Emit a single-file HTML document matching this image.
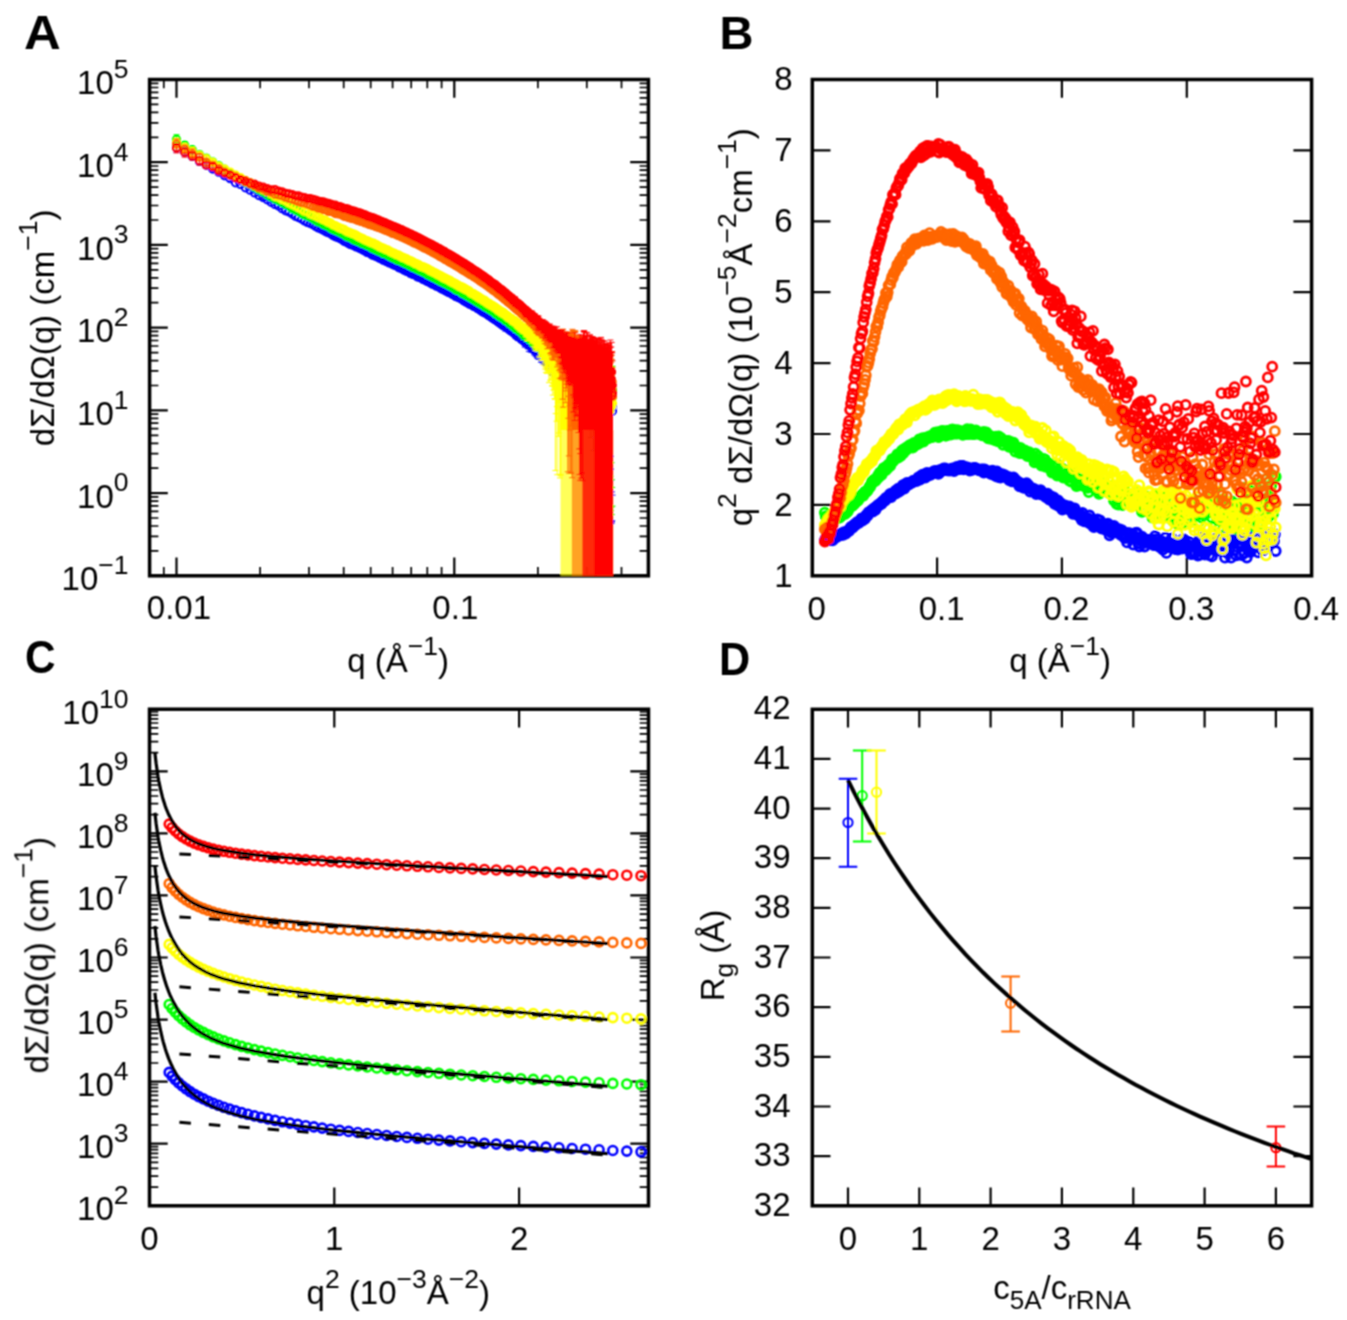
<!DOCTYPE html><html><head><meta charset="utf-8"><style>html,body{margin:0;padding:0;background:#fff;}svg{display:block}</style></head><body><svg width="1347" height="1320" viewBox="0 0 1347 1320"><defs><marker id="bblue" markerUnits="userSpaceOnUse" markerWidth="16.6" markerHeight="16.6" refX="8.3" refY="8.3" overflow="visible"><circle cx="8.3" cy="8.3" r="4.5" fill="none" stroke="#0000ff" stroke-width="2.8"/></marker><marker id="bgreen" markerUnits="userSpaceOnUse" markerWidth="16.6" markerHeight="16.6" refX="8.3" refY="8.3" overflow="visible"><circle cx="8.3" cy="8.3" r="4.5" fill="none" stroke="#00ff00" stroke-width="2.8"/></marker><marker id="byellow" markerUnits="userSpaceOnUse" markerWidth="16.6" markerHeight="16.6" refX="8.3" refY="8.3" overflow="visible"><circle cx="8.3" cy="8.3" r="4.5" fill="none" stroke="#ffff00" stroke-width="2.8"/></marker><marker id="borange" markerUnits="userSpaceOnUse" markerWidth="16.6" markerHeight="16.6" refX="8.3" refY="8.3" overflow="visible"><circle cx="8.3" cy="8.3" r="4.5" fill="none" stroke="#ff6600" stroke-width="2.8"/></marker><marker id="bred" markerUnits="userSpaceOnUse" markerWidth="16.6" markerHeight="16.6" refX="8.3" refY="8.3" overflow="visible"><circle cx="8.3" cy="8.3" r="4.5" fill="none" stroke="#ff0000" stroke-width="2.8"/></marker><marker id="ablue" markerUnits="userSpaceOnUse" markerWidth="13.2" markerHeight="13.2" refX="6.6" refY="6.6" overflow="visible"><circle cx="6.6" cy="6.6" r="3.6" fill="none" stroke="#0000ff" stroke-width="2"/></marker><marker id="agreen" markerUnits="userSpaceOnUse" markerWidth="13.2" markerHeight="13.2" refX="6.6" refY="6.6" overflow="visible"><circle cx="6.6" cy="6.6" r="3.6" fill="none" stroke="#00ff00" stroke-width="2"/></marker><marker id="ayellow" markerUnits="userSpaceOnUse" markerWidth="13.2" markerHeight="13.2" refX="6.6" refY="6.6" overflow="visible"><circle cx="6.6" cy="6.6" r="3.6" fill="none" stroke="#ffff00" stroke-width="2"/></marker><marker id="aorange" markerUnits="userSpaceOnUse" markerWidth="13.2" markerHeight="13.2" refX="6.6" refY="6.6" overflow="visible"><circle cx="6.6" cy="6.6" r="3.6" fill="none" stroke="#ff6600" stroke-width="2"/></marker><marker id="ared" markerUnits="userSpaceOnUse" markerWidth="13.2" markerHeight="13.2" refX="6.6" refY="6.6" overflow="visible"><circle cx="6.6" cy="6.6" r="3.6" fill="none" stroke="#ff0000" stroke-width="2"/></marker><marker id="cblue" markerUnits="userSpaceOnUse" markerWidth="16.2" markerHeight="16.2" refX="8.1" refY="8.1" overflow="visible"><circle cx="8.1" cy="8.1" r="4.5" fill="none" stroke="#0000ff" stroke-width="2.6"/></marker><marker id="cgreen" markerUnits="userSpaceOnUse" markerWidth="16.2" markerHeight="16.2" refX="8.1" refY="8.1" overflow="visible"><circle cx="8.1" cy="8.1" r="4.5" fill="none" stroke="#00ff00" stroke-width="2.6"/></marker><marker id="cyellow" markerUnits="userSpaceOnUse" markerWidth="16.2" markerHeight="16.2" refX="8.1" refY="8.1" overflow="visible"><circle cx="8.1" cy="8.1" r="4.5" fill="none" stroke="#ffff00" stroke-width="2.6"/></marker><marker id="corange" markerUnits="userSpaceOnUse" markerWidth="16.2" markerHeight="16.2" refX="8.1" refY="8.1" overflow="visible"><circle cx="8.1" cy="8.1" r="4.5" fill="none" stroke="#ff6600" stroke-width="2.6"/></marker><marker id="cred" markerUnits="userSpaceOnUse" markerWidth="16.2" markerHeight="16.2" refX="8.1" refY="8.1" overflow="visible"><circle cx="8.1" cy="8.1" r="4.5" fill="none" stroke="#ff0000" stroke-width="2.6"/></marker><filter id="bl" x="0" y="0" width="1347" height="1320" filterUnits="userSpaceOnUse"><feConvolveMatrix order="3" kernelMatrix="1 2 1 2 4 2 1 2 1" divisor="16" edgeMode="none"/></filter></defs><rect width="1347" height="1320" fill="#fff"/><g filter="url(#bl)"><text x="24" y="49.2" font-size="48" font-weight="bold" font-family="Liberation Sans, sans-serif" transform="translate(24 0) scale(1.06 1) translate(-24 0)">A</text><text x="719.5" y="49" font-size="47" font-weight="bold" font-family="Liberation Sans, sans-serif">B</text><text x="25" y="673.5" font-size="47" font-weight="bold" font-family="Liberation Sans, sans-serif" transform="translate(25 0) scale(0.9 1) translate(-25 0)">C</text><text x="719" y="675" font-size="47" font-weight="bold" font-family="Liberation Sans, sans-serif" transform="translate(719 0) scale(0.92 1) translate(-719 0)">D</text><path d="M176.5 575.8v-18.2M176.5 79.5v18.2M454.3 575.8v-18.2M454.3 79.5v18.2M149.6 575.8h18.2M648.4 575.8h-18.2M149.6 493.1h18.2M648.4 493.1h-18.2M149.6 410.4h18.2M648.4 410.4h-18.2M149.6 327.6h18.2M648.4 327.6h-18.2M149.6 244.9h18.2M648.4 244.9h-18.2M149.6 162.2h18.2M648.4 162.2h-18.2M149.6 79.5h18.2M648.4 79.5h-18.2" stroke="#000" stroke-width="2.2" fill="none"/><path d="M163.8 575.8v-8.8M163.8 79.5v8.8M260.1 575.8v-8.8M260.1 79.5v8.8M309 575.8v-8.8M309 79.5v8.8M343.7 575.8v-8.8M343.7 79.5v8.8M370.7 575.8v-8.8M370.7 79.5v8.8M392.6 575.8v-8.8M392.6 79.5v8.8M411.2 575.8v-8.8M411.2 79.5v8.8M427.3 575.8v-8.8M427.3 79.5v8.8M441.6 575.8v-8.8M441.6 79.5v8.8M537.9 575.8v-8.8M537.9 79.5v8.8M586.8 575.8v-8.8M586.8 79.5v8.8M621.5 575.8v-8.8M621.5 79.5v8.8M149.6 550.9h8.8M648.4 550.9h-8.8M149.6 536.3h8.8M648.4 536.3h-8.8M149.6 526h8.8M648.4 526h-8.8M149.6 518h8.8M648.4 518h-8.8M149.6 511.4h8.8M648.4 511.4h-8.8M149.6 505.9h8.8M648.4 505.9h-8.8M149.6 501.1h8.8M648.4 501.1h-8.8M149.6 496.9h8.8M648.4 496.9h-8.8M149.6 468.2h8.8M648.4 468.2h-8.8M149.6 453.6h8.8M648.4 453.6h-8.8M149.6 443.3h8.8M648.4 443.3h-8.8M149.6 435.3h8.8M648.4 435.3h-8.8M149.6 428.7h8.8M648.4 428.7h-8.8M149.6 423.2h8.8M648.4 423.2h-8.8M149.6 418.4h8.8M648.4 418.4h-8.8M149.6 414.2h8.8M648.4 414.2h-8.8M149.6 385.5h8.8M648.4 385.5h-8.8M149.6 370.9h8.8M648.4 370.9h-8.8M149.6 360.6h8.8M648.4 360.6h-8.8M149.6 352.6h8.8M648.4 352.6h-8.8M149.6 346h8.8M648.4 346h-8.8M149.6 340.5h8.8M648.4 340.5h-8.8M149.6 335.7h8.8M648.4 335.7h-8.8M149.6 331.4h8.8M648.4 331.4h-8.8M149.6 302.7h8.8M648.4 302.7h-8.8M149.6 288.2h8.8M648.4 288.2h-8.8M149.6 277.8h8.8M648.4 277.8h-8.8M149.6 269.8h8.8M648.4 269.8h-8.8M149.6 263.3h8.8M648.4 263.3h-8.8M149.6 257.7h8.8M648.4 257.7h-8.8M149.6 252.9h8.8M648.4 252.9h-8.8M149.6 248.7h8.8M648.4 248.7h-8.8M149.6 220h8.8M648.4 220h-8.8M149.6 205.5h8.8M648.4 205.5h-8.8M149.6 195.1h8.8M648.4 195.1h-8.8M149.6 187.1h8.8M648.4 187.1h-8.8M149.6 180.6h8.8M648.4 180.6h-8.8M149.6 175h8.8M648.4 175h-8.8M149.6 170.2h8.8M648.4 170.2h-8.8M149.6 166h8.8M648.4 166h-8.8M149.6 137.3h8.8M648.4 137.3h-8.8M149.6 122.8h8.8M648.4 122.8h-8.8M149.6 112.4h8.8M648.4 112.4h-8.8M149.6 104.4h8.8M648.4 104.4h-8.8M149.6 97.9h8.8M648.4 97.9h-8.8M149.6 92.3h8.8M648.4 92.3h-8.8M149.6 87.5h8.8M648.4 87.5h-8.8M149.6 83.3h8.8M648.4 83.3h-8.8" stroke="#000" stroke-width="1.7" fill="none"/><path d="M937.1 575.8v-18.2M937.1 79.5v18.2M1061.9 575.8v-18.2M1061.9 79.5v18.2M1186.8 575.8v-18.2M1186.8 79.5v18.2M812.3 504.9h18.2M1311.6 504.9h-18.2M812.3 434h18.2M1311.6 434h-18.2M812.3 363.1h18.2M1311.6 363.1h-18.2M812.3 292.2h18.2M1311.6 292.2h-18.2M812.3 221.3h18.2M1311.6 221.3h-18.2M812.3 150.4h18.2M1311.6 150.4h-18.2" stroke="#000" stroke-width="2.2" fill="none"/><path d="M334.3 1205.8v-18.2M334.3 709.2v18.2M519.1 1205.8v-18.2M519.1 709.2v18.2M149.5 1205.8h18.2M648.5 1205.8h-18.2M149.5 1143.7h18.2M648.5 1143.7h-18.2M149.5 1081.7h18.2M648.5 1081.7h-18.2M149.5 1019.6h18.2M648.5 1019.6h-18.2M149.5 957.5h18.2M648.5 957.5h-18.2M149.5 895.4h18.2M648.5 895.4h-18.2M149.5 833.4h18.2M648.5 833.4h-18.2M149.5 771.3h18.2M648.5 771.3h-18.2M149.5 709.2h18.2M648.5 709.2h-18.2" stroke="#000" stroke-width="2.2" fill="none"/><path d="M149.5 1187.1h8.8M648.5 1187.1h-8.8M149.5 1176.2h8.8M648.5 1176.2h-8.8M149.5 1168.4h8.8M648.5 1168.4h-8.8M149.5 1162.4h8.8M648.5 1162.4h-8.8M149.5 1157.5h8.8M648.5 1157.5h-8.8M149.5 1153.3h8.8M648.5 1153.3h-8.8M149.5 1149.7h8.8M648.5 1149.7h-8.8M149.5 1146.6h8.8M648.5 1146.6h-8.8M149.5 1125h8.8M648.5 1125h-8.8M149.5 1114.1h8.8M648.5 1114.1h-8.8M149.5 1106.4h8.8M648.5 1106.4h-8.8M149.5 1100.3h8.8M648.5 1100.3h-8.8M149.5 1095.4h8.8M648.5 1095.4h-8.8M149.5 1091.3h8.8M648.5 1091.3h-8.8M149.5 1087.7h8.8M648.5 1087.7h-8.8M149.5 1084.5h8.8M648.5 1084.5h-8.8M149.5 1063h8.8M648.5 1063h-8.8M149.5 1052h8.8M648.5 1052h-8.8M149.5 1044.3h8.8M648.5 1044.3h-8.8M149.5 1038.3h8.8M648.5 1038.3h-8.8M149.5 1033.3h8.8M648.5 1033.3h-8.8M149.5 1029.2h8.8M648.5 1029.2h-8.8M149.5 1025.6h8.8M648.5 1025.6h-8.8M149.5 1022.4h8.8M648.5 1022.4h-8.8M149.5 1000.9h8.8M648.5 1000.9h-8.8M149.5 990h8.8M648.5 990h-8.8M149.5 982.2h8.8M648.5 982.2h-8.8M149.5 976.2h8.8M648.5 976.2h-8.8M149.5 971.3h8.8M648.5 971.3h-8.8M149.5 967.1h8.8M648.5 967.1h-8.8M149.5 963.5h8.8M648.5 963.5h-8.8M149.5 960.3h8.8M648.5 960.3h-8.8M149.5 938.8h8.8M648.5 938.8h-8.8M149.5 927.9h8.8M648.5 927.9h-8.8M149.5 920.1h8.8M648.5 920.1h-8.8M149.5 914.1h8.8M648.5 914.1h-8.8M149.5 909.2h8.8M648.5 909.2h-8.8M149.5 905h8.8M648.5 905h-8.8M149.5 901.4h8.8M648.5 901.4h-8.8M149.5 898.3h8.8M648.5 898.3h-8.8M149.5 876.7h8.8M648.5 876.7h-8.8M149.5 865.8h8.8M648.5 865.8h-8.8M149.5 858.1h8.8M648.5 858.1h-8.8M149.5 852h8.8M648.5 852h-8.8M149.5 847.1h8.8M648.5 847.1h-8.8M149.5 843h8.8M648.5 843h-8.8M149.5 839.4h8.8M648.5 839.4h-8.8M149.5 836.2h8.8M648.5 836.2h-8.8M149.5 814.7h8.8M648.5 814.7h-8.8M149.5 803.7h8.8M648.5 803.7h-8.8M149.5 796h8.8M648.5 796h-8.8M149.5 790h8.8M648.5 790h-8.8M149.5 785h8.8M648.5 785h-8.8M149.5 780.9h8.8M648.5 780.9h-8.8M149.5 777.3h8.8M648.5 777.3h-8.8M149.5 774.1h8.8M648.5 774.1h-8.8M149.5 752.6h8.8M648.5 752.6h-8.8M149.5 741.7h8.8M648.5 741.7h-8.8M149.5 733.9h8.8M648.5 733.9h-8.8M149.5 727.9h8.8M648.5 727.9h-8.8M149.5 723h8.8M648.5 723h-8.8M149.5 718.8h8.8M648.5 718.8h-8.8M149.5 715.2h8.8M648.5 715.2h-8.8M149.5 712h8.8M648.5 712h-8.8" stroke="#000" stroke-width="1.7" fill="none"/><path d="M848 1205.8v-18.2M848 709.3v18.2M919.3 1205.8v-18.2M919.3 709.3v18.2M990.6 1205.8v-18.2M990.6 709.3v18.2M1061.9 1205.8v-18.2M1061.9 709.3v18.2M1133.3 1205.8v-18.2M1133.3 709.3v18.2M1204.6 1205.8v-18.2M1204.6 709.3v18.2M1275.9 1205.8v-18.2M1275.9 709.3v18.2M812.3 1156.1h18.2M1311.6 1156.1h-18.2M812.3 1106.5h18.2M1311.6 1106.5h-18.2M812.3 1056.8h18.2M1311.6 1056.8h-18.2M812.3 1007.2h18.2M1311.6 1007.2h-18.2M812.3 957.5h18.2M1311.6 957.5h-18.2M812.3 907.9h18.2M1311.6 907.9h-18.2M812.3 858.2h18.2M1311.6 858.2h-18.2M812.3 808.6h18.2M1311.6 808.6h-18.2M812.3 758.9h18.2M1311.6 758.9h-18.2" stroke="#000" stroke-width="2.2" fill="none"/><rect x="149.6" y="79.5" width="498.8" height="496.3" fill="none" stroke="#000" stroke-width="3.5"/><rect x="812.3" y="79.5" width="499.3" height="496.3" fill="none" stroke="#000" stroke-width="3.5"/><rect x="149.5" y="709.2" width="499" height="496.6" fill="none" stroke="#000" stroke-width="3.5"/><rect x="812.3" y="709.3" width="499.3" height="496.5" fill="none" stroke="#000" stroke-width="3.5"/><text x="128.5" y="590.4" font-size="33" text-anchor="end" font-family="Liberation Sans, sans-serif">10<tspan dy="-16.3" font-size="26.5">−1</tspan></text><text x="128.5" y="507.7" font-size="33" text-anchor="end" font-family="Liberation Sans, sans-serif">10<tspan dy="-16.3" font-size="26.5">0</tspan></text><text x="128.5" y="425" font-size="33" text-anchor="end" font-family="Liberation Sans, sans-serif">10<tspan dy="-16.3" font-size="26.5">1</tspan></text><text x="128.5" y="342.2" font-size="33" text-anchor="end" font-family="Liberation Sans, sans-serif">10<tspan dy="-16.3" font-size="26.5">2</tspan></text><text x="128.5" y="259.5" font-size="33" text-anchor="end" font-family="Liberation Sans, sans-serif">10<tspan dy="-16.3" font-size="26.5">3</tspan></text><text x="128.5" y="176.8" font-size="33" text-anchor="end" font-family="Liberation Sans, sans-serif">10<tspan dy="-16.3" font-size="26.5">4</tspan></text><text x="128.5" y="94.1" font-size="33" text-anchor="end" font-family="Liberation Sans, sans-serif">10<tspan dy="-16.3" font-size="26.5">5</tspan></text><text x="178.9" y="619.4" font-size="33" text-anchor="middle" font-family="Liberation Sans, sans-serif" >0.01</text><text x="455.3" y="619.4" font-size="33" text-anchor="middle" font-family="Liberation Sans, sans-serif" >0.1</text><text x="792.5" y="586.6" font-size="33" text-anchor="end" font-family="Liberation Sans, sans-serif" >1</text><text x="792.5" y="515.7" font-size="33" text-anchor="end" font-family="Liberation Sans, sans-serif" >2</text><text x="792.5" y="444.8" font-size="33" text-anchor="end" font-family="Liberation Sans, sans-serif" >3</text><text x="792.5" y="373.9" font-size="33" text-anchor="end" font-family="Liberation Sans, sans-serif" >4</text><text x="792.5" y="303" font-size="33" text-anchor="end" font-family="Liberation Sans, sans-serif" >5</text><text x="792.5" y="232.1" font-size="33" text-anchor="end" font-family="Liberation Sans, sans-serif" >6</text><text x="792.5" y="161.2" font-size="33" text-anchor="end" font-family="Liberation Sans, sans-serif" >7</text><text x="792.5" y="90.3" font-size="33" text-anchor="end" font-family="Liberation Sans, sans-serif" >8</text><text x="816.8" y="620.3" font-size="33" text-anchor="middle" font-family="Liberation Sans, sans-serif" >0</text><text x="941.6" y="620.3" font-size="33" text-anchor="middle" font-family="Liberation Sans, sans-serif" >0.1</text><text x="1066.4" y="620.3" font-size="33" text-anchor="middle" font-family="Liberation Sans, sans-serif" >0.2</text><text x="1191.3" y="620.3" font-size="33" text-anchor="middle" font-family="Liberation Sans, sans-serif" >0.3</text><text x="1316.1" y="620.3" font-size="33" text-anchor="middle" font-family="Liberation Sans, sans-serif" >0.4</text><text x="128.5" y="1220.4" font-size="33" text-anchor="end" font-family="Liberation Sans, sans-serif">10<tspan dy="-16.3" font-size="26.5">2</tspan></text><text x="128.5" y="1158.3" font-size="33" text-anchor="end" font-family="Liberation Sans, sans-serif">10<tspan dy="-16.3" font-size="26.5">3</tspan></text><text x="128.5" y="1096.2" font-size="33" text-anchor="end" font-family="Liberation Sans, sans-serif">10<tspan dy="-16.3" font-size="26.5">4</tspan></text><text x="128.5" y="1034.2" font-size="33" text-anchor="end" font-family="Liberation Sans, sans-serif">10<tspan dy="-16.3" font-size="26.5">5</tspan></text><text x="128.5" y="972.1" font-size="33" text-anchor="end" font-family="Liberation Sans, sans-serif">10<tspan dy="-16.3" font-size="26.5">6</tspan></text><text x="128.5" y="910" font-size="33" text-anchor="end" font-family="Liberation Sans, sans-serif">10<tspan dy="-16.3" font-size="26.5">7</tspan></text><text x="128.5" y="848" font-size="33" text-anchor="end" font-family="Liberation Sans, sans-serif">10<tspan dy="-16.3" font-size="26.5">8</tspan></text><text x="128.5" y="785.9" font-size="33" text-anchor="end" font-family="Liberation Sans, sans-serif">10<tspan dy="-16.3" font-size="26.5">9</tspan></text><text x="128.5" y="723.8" font-size="33" text-anchor="end" font-family="Liberation Sans, sans-serif">10<tspan dy="-16.3" font-size="26.5">10</tspan></text><text x="149.5" y="1250" font-size="33" text-anchor="middle" font-family="Liberation Sans, sans-serif" >0</text><text x="334.3" y="1250" font-size="33" text-anchor="middle" font-family="Liberation Sans, sans-serif" >1</text><text x="519.1" y="1250" font-size="33" text-anchor="middle" font-family="Liberation Sans, sans-serif" >2</text><text x="790.5" y="1215.8" font-size="33" text-anchor="end" font-family="Liberation Sans, sans-serif" >32</text><text x="790.5" y="1166.1" font-size="33" text-anchor="end" font-family="Liberation Sans, sans-serif" >33</text><text x="790.5" y="1116.5" font-size="33" text-anchor="end" font-family="Liberation Sans, sans-serif" >34</text><text x="790.5" y="1066.8" font-size="33" text-anchor="end" font-family="Liberation Sans, sans-serif" >35</text><text x="790.5" y="1017.2" font-size="33" text-anchor="end" font-family="Liberation Sans, sans-serif" >36</text><text x="790.5" y="967.5" font-size="33" text-anchor="end" font-family="Liberation Sans, sans-serif" >37</text><text x="790.5" y="917.9" font-size="33" text-anchor="end" font-family="Liberation Sans, sans-serif" >38</text><text x="790.5" y="868.2" font-size="33" text-anchor="end" font-family="Liberation Sans, sans-serif" >39</text><text x="790.5" y="818.6" font-size="33" text-anchor="end" font-family="Liberation Sans, sans-serif" >40</text><text x="790.5" y="768.9" font-size="33" text-anchor="end" font-family="Liberation Sans, sans-serif" >41</text><text x="790.5" y="719.3" font-size="33" text-anchor="end" font-family="Liberation Sans, sans-serif" >42</text><text x="848" y="1250" font-size="33" text-anchor="middle" font-family="Liberation Sans, sans-serif" >0</text><text x="919.3" y="1250" font-size="33" text-anchor="middle" font-family="Liberation Sans, sans-serif" >1</text><text x="990.6" y="1250" font-size="33" text-anchor="middle" font-family="Liberation Sans, sans-serif" >2</text><text x="1061.9" y="1250" font-size="33" text-anchor="middle" font-family="Liberation Sans, sans-serif" >3</text><text x="1133.3" y="1250" font-size="33" text-anchor="middle" font-family="Liberation Sans, sans-serif" >4</text><text x="1204.6" y="1250" font-size="33" text-anchor="middle" font-family="Liberation Sans, sans-serif" >5</text><text x="1275.9" y="1250" font-size="33" text-anchor="middle" font-family="Liberation Sans, sans-serif" >6</text><text x="398" y="671.7" font-size="33" text-anchor="middle" font-family="Liberation Sans, sans-serif" >q (Å<tspan dy="-16.3" font-size="26.5">−1</tspan><tspan dy="16.3">)</tspan></text><text x="1060" y="671.7" font-size="33" text-anchor="middle" font-family="Liberation Sans, sans-serif" >q (Å<tspan dy="-16.3" font-size="26.5">−1</tspan><tspan dy="16.3">)</tspan></text><text x="398.3" y="1304" font-size="33" text-anchor="middle" font-family="Liberation Sans, sans-serif" >q<tspan dy="-16.3" font-size="26.5">2</tspan><tspan dy="16.3"> (10</tspan><tspan dy="-16.3" font-size="26.5">−3</tspan><tspan dy="16.3">Å</tspan><tspan dy="-16.3" font-size="26.5">−2</tspan><tspan dy="16.3">)</tspan></text><text x="1062" y="1299.3" font-size="33" text-anchor="middle" font-family="Liberation Sans, sans-serif" >c<tspan dy="9.5" font-size="26">5A</tspan><tspan dy="-9.5">/c</tspan><tspan dy="9.5" font-size="26">rRNA</tspan></text><text x="0" y="0" font-size="33" text-anchor="middle" font-family="Liberation Sans, sans-serif" transform="translate(53.5 327.9) rotate(-90)">dΣ/dΩ(q) (cm<tspan dy="-16.3" font-size="26.5">−1</tspan><tspan dy="16.3">)</tspan></text><text x="0" y="0" font-size="33" text-anchor="middle" font-family="Liberation Sans, sans-serif" transform="translate(48.3 955.2) rotate(-90)">dΣ/dΩ(q) (cm<tspan dy="-16.3" font-size="26.5">−1</tspan><tspan dy="16.3">)</tspan></text><text x="0" y="0" font-size="33" text-anchor="middle" font-family="Liberation Sans, sans-serif" transform="translate(752.3 327.2) rotate(-90)">q<tspan dy="-16.3" font-size="26.5">2</tspan><tspan dy="16.3"> dΣ/dΩ(q) (10</tspan><tspan dy="-16.3" font-size="26.5">−5</tspan><tspan dy="16.3">Å</tspan><tspan dy="-16.3" font-size="26.5">−2</tspan><tspan dy="16.3">cm</tspan><tspan dy="-16.3" font-size="26.5">−1</tspan><tspan dy="16.3">)</tspan></text><text x="0" y="0" font-size="33" text-anchor="middle" font-family="Liberation Sans, sans-serif" transform="translate(724 955.5) rotate(-90)">R<tspan dy="9" font-size="26">g</tspan><tspan dy="-9"> (Å)</tspan></text><polyline fill="none" stroke="none" points="824.8,540.3 825.7,538.7 826.5,538.7 827.4,540.4 828.3,540.0 829.2,540.0 830.0,538.5 830.9,538.9 831.8,537.7 832.6,540.4 833.5,536.2 834.4,537.7 835.3,536.4 836.1,537.0 837.0,536.9 837.9,535.5 838.8,534.6 839.6,535.3 840.5,534.8 841.4,533.4 842.3,534.6 843.1,534.9 844.0,532.2 844.9,532.8 845.8,533.7 846.6,531.9 847.5,530.9 848.4,531.1 849.2,530.9 850.1,528.5 851.0,526.9 851.9,527.5 852.7,527.5 853.6,525.5 854.5,524.5 855.4,525.0 856.2,523.3 857.1,522.1 858.0,522.8 858.9,522.8 859.7,520.8 860.6,520.2 861.5,518.5 862.4,520.5 863.2,519.1 864.1,518.5 865.0,518.8 865.8,515.9 866.7,514.7 867.6,515.5 868.5,512.3 869.3,512.2 870.2,511.6 871.1,511.2 872.0,509.8 872.8,511.7 873.7,508.7 874.6,507.9 875.5,509.9 876.3,506.7 877.2,506.7 878.1,504.8 879.0,505.4 879.8,504.2 880.7,503.1 881.6,503.8 882.5,501.3 883.3,501.4 884.2,500.0 885.1,500.5 885.9,498.0 886.8,497.8 887.7,498.1 888.6,496.4 889.4,495.0 890.3,493.9 891.2,497.1 892.1,493.5 892.9,493.4 893.8,493.4 894.7,493.9 895.6,490.6 896.4,493.0 897.3,490.2 898.2,488.7 899.1,491.6 899.9,489.5 900.8,490.1 901.7,487.7 902.5,485.6 903.4,484.9 904.3,488.5 905.2,486.5 906.0,484.5 906.9,482.9 907.8,483.8 908.7,484.7 909.5,482.9 910.4,482.8 911.3,482.6 912.2,482.7 913.0,480.9 913.9,480.6 914.8,480.6 915.7,480.3 916.5,481.2 917.4,479.8 918.3,477.3 919.2,478.6 920.0,479.7 920.9,475.9 921.8,476.5 922.6,474.7 923.5,476.4 924.4,476.7 925.3,477.5 926.1,473.7 927.0,472.9 927.9,475.7 928.8,475.2 929.6,473.3 930.5,474.8 931.4,473.8 932.3,473.6 933.1,472.7 934.0,471.2 934.9,472.3 935.8,470.9 936.6,472.4 937.5,471.2 938.4,473.8 939.2,473.0 940.1,469.9 941.0,471.5 941.9,469.8 942.7,469.6 943.6,468.4 944.5,468.9 945.4,468.5 946.2,469.8 947.1,470.4 948.0,470.3 948.9,469.9 949.7,470.6 950.6,469.7 951.5,469.0 952.4,468.4 953.2,469.1 954.1,471.1 955.0,468.6 955.8,468.1 956.7,466.9 957.6,467.5 958.5,469.1 959.3,469.2 960.2,465.9 961.1,467.2 962.0,465.8 962.8,465.8 963.7,469.3 964.6,467.7 965.5,467.6 966.3,467.5 967.2,467.5 968.1,468.1 969.0,468.2 969.8,470.6 970.7,468.8 971.6,469.7 972.5,468.5 973.3,469.5 974.2,468.0 975.1,467.8 975.9,468.7 976.8,468.8 977.7,469.3 978.6,470.2 979.4,469.9 980.3,470.6 981.2,469.4 982.1,470.2 982.9,469.5 983.8,472.5 984.7,469.4 985.6,472.1 986.4,472.2 987.3,471.6 988.2,472.4 989.1,471.3 989.9,472.9 990.8,473.9 991.7,473.8 992.5,470.7 993.4,472.9 994.3,475.1 995.2,473.5 996.0,476.2 996.9,471.4 997.8,476.8 998.7,473.9 999.5,474.0 1000.4,477.6 1001.3,475.0 1002.2,474.2 1003.0,475.4 1003.9,476.0 1004.8,475.2 1005.7,476.9 1006.5,476.9 1007.4,478.0 1008.3,477.1 1009.1,480.1 1010.0,477.5 1010.9,480.1 1011.8,481.4 1012.6,479.3 1013.5,477.4 1014.4,479.0 1015.3,481.9 1016.1,480.2 1017.0,482.6 1017.9,482.4 1018.8,482.4 1019.6,486.4 1020.5,483.1 1021.4,485.6 1022.3,485.5 1023.1,487.3 1024.0,487.8 1024.9,487.2 1025.8,484.4 1026.6,483.2 1027.5,486.8 1028.4,485.1 1029.2,488.1 1030.1,491.6 1031.0,488.2 1031.9,488.1 1032.7,490.2 1033.6,489.2 1034.5,489.1 1035.4,492.4 1036.2,494.0 1037.1,492.0 1038.0,492.5 1038.9,493.2 1039.7,491.0 1040.6,490.1 1041.5,494.7 1042.4,493.0 1043.2,492.9 1044.1,493.9 1045.0,493.7 1045.8,497.1 1046.7,495.2 1047.6,493.7 1048.5,496.0 1049.3,499.5 1050.2,497.4 1051.1,496.5 1052.0,498.8 1052.8,501.3 1053.7,497.3 1054.6,503.8 1055.5,500.5 1056.3,502.1 1057.2,505.1 1058.1,500.3 1059.0,502.7 1059.8,506.6 1060.7,503.1 1061.6,505.9 1062.4,509.7 1063.3,507.5 1064.2,505.8 1065.1,505.4 1065.9,507.0 1066.8,507.8 1067.7,507.2 1068.6,509.3 1069.4,506.5 1070.3,509.4 1071.2,509.6 1072.1,509.5 1072.9,513.8 1073.8,513.4 1074.7,508.5 1075.6,511.8 1076.4,513.8 1077.3,512.8 1078.2,515.3 1079.1,513.9 1079.9,516.7 1080.8,514.8 1081.7,520.0 1082.5,513.0 1083.4,518.2 1084.3,521.4 1085.2,518.4 1086.0,519.2 1086.9,518.3 1087.8,522.2 1088.7,518.6 1089.5,515.5 1090.4,523.9 1091.3,520.0 1092.2,522.2 1093.0,521.3 1093.9,527.2 1094.8,525.9 1095.7,521.8 1096.5,523.7 1097.4,519.4 1098.3,526.4 1099.1,524.3 1100.0,520.4 1100.9,527.8 1101.8,528.6 1102.6,526.5 1103.5,527.0 1104.4,524.8 1105.3,527.2 1106.1,530.2 1107.0,527.8 1107.9,523.7 1108.8,525.3 1109.6,535.3 1110.5,530.3 1111.4,532.9 1112.3,528.7 1113.1,531.5 1114.0,526.0 1114.9,528.7 1115.7,529.2 1116.6,531.7 1117.5,532.8 1118.4,531.9 1119.2,529.1 1120.1,531.9 1121.0,535.1 1121.9,530.1 1122.7,533.9 1123.6,535.1 1124.5,537.8 1125.4,537.3 1126.2,537.9 1127.1,542.4 1128.0,532.8 1128.9,534.6 1129.7,537.6 1130.6,533.5 1131.5,535.8 1132.4,536.3 1133.2,544.6 1134.1,538.9 1135.0,536.5 1135.8,532.9 1136.7,532.7 1137.6,533.9 1138.5,543.5 1139.3,546.5 1140.2,537.7 1141.1,539.9 1142.0,536.6 1142.8,540.9 1143.7,539.8 1144.6,546.5 1145.5,539.3 1146.3,542.9 1147.2,540.0 1148.1,539.8 1149.0,542.2 1149.8,540.7 1150.7,542.2 1151.6,539.3 1152.4,540.5 1153.3,544.8 1154.2,545.1 1155.1,536.1 1155.9,543.5 1156.8,539.2 1157.7,541.8 1158.6,545.9 1159.4,546.8 1160.3,543.3 1161.2,542.9 1162.1,541.5 1162.9,549.6 1163.8,546.8 1164.7,544.8 1165.6,537.7 1166.4,552.9 1167.3,542.9 1168.2,547.2 1169.0,543.1 1169.9,547.3 1170.8,543.6 1171.7,538.3 1172.5,543.8 1173.4,543.5 1174.3,543.8 1175.2,549.0 1176.0,543.2 1176.9,546.7 1177.8,549.6 1178.7,546.1 1179.5,547.0 1180.4,542.5 1181.3,546.3 1182.2,548.7 1183.0,539.2 1183.9,541.5 1184.8,540.2 1185.7,543.4 1186.5,546.9 1187.4,548.5 1188.3,547.9 1189.1,541.8 1190.0,546.0 1190.9,554.1 1191.8,546.8 1192.6,553.9 1193.5,545.8 1194.4,552.9 1195.3,553.2 1196.1,546.1 1197.0,547.1 1197.9,555.5 1198.8,542.8 1199.6,537.7 1200.5,554.7 1201.4,537.6 1202.3,550.5 1203.1,549.4 1204.0,547.7 1204.9,554.7 1205.7,539.6 1206.6,544.0 1207.5,550.9 1208.4,548.2 1209.2,555.2 1210.1,548.6 1211.0,541.3 1211.9,556.4 1212.7,549.1 1213.6,545.7 1214.5,540.4 1215.4,538.6 1216.2,549.1 1217.1,550.8 1218.0,543.7 1218.9,548.5 1219.7,548.1 1220.6,539.7 1221.5,535.9 1222.4,544.5 1223.2,547.3 1224.1,542.5 1225.0,557.7 1225.8,546.0 1226.7,552.5 1227.6,535.1 1228.5,541.2 1229.3,544.8 1230.2,546.9 1231.1,557.7 1232.0,540.9 1232.8,534.8 1233.7,550.1 1234.6,540.8 1235.5,540.4 1236.3,555.4 1237.2,538.8 1238.1,535.9 1239.0,543.4 1239.8,545.2 1240.7,539.4 1241.6,555.2 1242.4,543.9 1243.3,537.2 1244.2,553.0 1245.1,537.4 1245.9,547.1 1246.8,557.5 1247.7,544.8 1248.6,550.9 1249.4,541.6 1250.3,552.2 1251.2,536.1 1252.1,548.9 1252.9,540.9 1253.8,547.7 1254.7,545.6 1255.6,534.3 1256.4,541.5 1257.3,545.9 1258.2,552.3 1259.0,534.0 1259.9,537.1 1260.8,545.0 1261.7,540.6 1262.5,550.3 1263.4,550.1 1264.3,548.5 1265.2,539.2 1266.0,539.6 1266.9,547.7 1267.8,535.8 1268.7,535.3 1269.5,540.1 1270.4,533.0 1271.3,543.6 1272.2,542.0 1273.0,537.1 1273.9,541.2 1274.8,534.2 1275.7,551.0" marker-start="url(#bblue)" marker-mid="url(#bblue)" marker-end="url(#bblue)"/><polyline fill="none" stroke="none" points="824.8,512.6 825.7,516.3 826.5,516.3 827.4,518.5 828.3,516.5 829.2,516.1 830.0,516.7 830.9,517.2 831.8,520.4 832.6,519.5 833.5,519.0 834.4,519.5 835.3,516.7 836.1,517.6 837.0,517.6 837.9,516.5 838.8,517.9 839.6,517.4 840.5,516.8 841.4,514.4 842.3,514.0 843.1,513.1 844.0,511.7 844.9,514.2 845.8,512.4 846.6,510.8 847.5,511.9 848.4,510.1 849.2,507.3 850.1,506.4 851.0,505.6 851.9,506.0 852.7,505.5 853.6,502.9 854.5,503.9 855.4,502.1 856.2,499.9 857.1,501.1 858.0,500.5 858.9,498.8 859.7,497.0 860.6,496.2 861.5,495.6 862.4,494.1 863.2,495.9 864.1,493.9 865.0,491.6 865.8,492.0 866.7,491.5 867.6,490.3 868.5,488.9 869.3,486.9 870.2,486.9 871.1,484.3 872.0,481.3 872.8,482.7 873.7,479.8 874.6,480.1 875.5,480.9 876.3,478.7 877.2,478.7 878.1,475.4 879.0,476.9 879.8,472.6 880.7,472.6 881.6,474.9 882.5,470.4 883.3,468.4 884.2,470.6 885.1,467.3 885.9,470.0 886.8,466.4 887.7,468.0 888.6,464.3 889.4,466.4 890.3,465.7 891.2,461.8 892.1,459.2 892.9,461.5 893.8,458.8 894.7,458.9 895.6,458.7 896.4,456.7 897.3,454.5 898.2,457.7 899.1,454.5 899.9,454.1 900.8,455.8 901.7,450.9 902.5,450.1 903.4,453.1 904.3,448.8 905.2,450.4 906.0,450.1 906.9,447.1 907.8,448.3 908.7,447.5 909.5,445.3 910.4,445.0 911.3,445.0 912.2,447.6 913.0,447.4 913.9,443.0 914.8,445.4 915.7,443.4 916.5,444.6 917.4,442.9 918.3,443.9 919.2,439.3 920.0,442.7 920.9,440.9 921.8,440.6 922.6,438.2 923.5,441.6 924.4,439.2 925.3,439.0 926.1,437.6 927.0,437.3 927.9,438.3 928.8,436.9 929.6,437.5 930.5,435.9 931.4,436.5 932.3,437.0 933.1,435.8 934.0,434.9 934.9,432.6 935.8,435.7 936.6,434.2 937.5,432.2 938.4,437.1 939.2,436.6 940.1,435.6 941.0,433.7 941.9,430.8 942.7,432.6 943.6,431.2 944.5,433.2 945.4,435.7 946.2,435.6 947.1,430.8 948.0,432.0 948.9,434.3 949.7,430.3 950.6,434.5 951.5,430.1 952.4,429.5 953.2,433.0 954.1,433.5 955.0,430.3 955.8,433.5 956.7,430.2 957.6,433.6 958.5,430.3 959.3,431.5 960.2,432.3 961.1,433.1 962.0,431.3 962.8,434.9 963.7,432.2 964.6,432.5 965.5,430.7 966.3,434.1 967.2,429.1 968.1,432.6 969.0,434.2 969.8,429.9 970.7,429.5 971.6,432.8 972.5,434.2 973.3,432.8 974.2,434.2 975.1,433.6 975.9,430.4 976.8,432.7 977.7,433.3 978.6,433.1 979.4,434.1 980.3,432.6 981.2,432.7 982.1,435.3 982.9,434.6 983.8,431.8 984.7,434.5 985.6,435.9 986.4,432.5 987.3,436.0 988.2,438.4 989.1,435.2 989.9,438.6 990.8,438.1 991.7,436.8 992.5,438.0 993.4,439.6 994.3,439.5 995.2,439.9 996.0,436.6 996.9,440.8 997.8,440.8 998.7,436.5 999.5,441.5 1000.4,437.6 1001.3,438.3 1002.2,441.7 1003.0,444.8 1003.9,441.2 1004.8,441.1 1005.7,440.8 1006.5,443.2 1007.4,441.1 1008.3,441.0 1009.1,446.8 1010.0,441.7 1010.9,444.9 1011.8,447.0 1012.6,446.9 1013.5,442.7 1014.4,444.7 1015.3,451.5 1016.1,447.7 1017.0,448.6 1017.9,449.1 1018.8,450.4 1019.6,453.1 1020.5,448.0 1021.4,452.8 1022.3,451.8 1023.1,452.9 1024.0,453.6 1024.9,450.5 1025.8,451.8 1026.6,454.9 1027.5,456.1 1028.4,455.4 1029.2,452.2 1030.1,454.8 1031.0,455.0 1031.9,456.9 1032.7,457.2 1033.6,456.4 1034.5,462.3 1035.4,453.7 1036.2,460.5 1037.1,460.4 1038.0,455.8 1038.9,459.3 1039.7,460.2 1040.6,462.4 1041.5,465.6 1042.4,461.3 1043.2,458.9 1044.1,465.2 1045.0,459.4 1045.8,466.9 1046.7,466.2 1047.6,463.2 1048.5,465.1 1049.3,463.5 1050.2,468.2 1051.1,469.5 1052.0,472.5 1052.8,471.0 1053.7,471.1 1054.6,472.7 1055.5,467.9 1056.3,471.3 1057.2,475.6 1058.1,464.9 1059.0,473.2 1059.8,475.0 1060.7,467.6 1061.6,468.3 1062.4,476.1 1063.3,477.6 1064.2,476.5 1065.1,470.1 1065.9,475.2 1066.8,477.3 1067.7,475.1 1068.6,471.5 1069.4,480.6 1070.3,477.6 1071.2,481.5 1072.1,471.4 1072.9,471.8 1073.8,474.7 1074.7,478.9 1075.6,476.5 1076.4,486.0 1077.3,478.7 1078.2,484.9 1079.1,485.3 1079.9,483.4 1080.8,482.6 1081.7,479.6 1082.5,479.5 1083.4,481.5 1084.3,486.4 1085.2,480.7 1086.0,484.1 1086.9,479.6 1087.8,487.9 1088.7,492.1 1089.5,487.0 1090.4,478.9 1091.3,484.1 1092.2,487.1 1093.0,483.2 1093.9,485.0 1094.8,485.6 1095.7,489.9 1096.5,487.8 1097.4,487.7 1098.3,491.5 1099.1,493.9 1100.0,489.0 1100.9,485.8 1101.8,487.5 1102.6,488.5 1103.5,488.8 1104.4,483.9 1105.3,490.5 1106.1,487.4 1107.0,484.8 1107.9,492.4 1108.8,491.8 1109.6,488.6 1110.5,486.0 1111.4,492.5 1112.3,492.6 1113.1,494.1 1114.0,500.5 1114.9,490.0 1115.7,496.7 1116.6,503.9 1117.5,496.8 1118.4,504.6 1119.2,501.5 1120.1,496.9 1121.0,501.7 1121.9,492.3 1122.7,505.1 1123.6,496.8 1124.5,495.6 1125.4,491.3 1126.2,494.2 1127.1,498.0 1128.0,499.0 1128.9,500.0 1129.7,494.1 1130.6,503.7 1131.5,497.8 1132.4,501.2 1133.2,499.7 1134.1,502.7 1135.0,492.4 1135.8,505.3 1136.7,500.6 1137.6,500.7 1138.5,499.1 1139.3,500.2 1140.2,500.5 1141.1,497.6 1142.0,511.9 1142.8,503.5 1143.7,510.9 1144.6,502.7 1145.5,511.1 1146.3,510.0 1147.2,505.0 1148.1,496.6 1149.0,501.6 1149.8,503.5 1150.7,497.0 1151.6,511.4 1152.4,517.5 1153.3,508.6 1154.2,507.9 1155.1,498.7 1155.9,496.0 1156.8,515.1 1157.7,496.2 1158.6,497.1 1159.4,501.9 1160.3,505.0 1161.2,496.6 1162.1,507.2 1162.9,510.9 1163.8,507.1 1164.7,517.2 1165.6,505.1 1166.4,509.1 1167.3,506.3 1168.2,506.2 1169.0,516.0 1169.9,499.9 1170.8,516.1 1171.7,503.0 1172.5,520.4 1173.4,506.8 1174.3,515.3 1175.2,509.3 1176.0,514.4 1176.9,523.6 1177.8,518.0 1178.7,509.5 1179.5,505.5 1180.4,521.0 1181.3,524.5 1182.2,516.9 1183.0,512.0 1183.9,515.3 1184.8,516.7 1185.7,504.1 1186.5,503.3 1187.4,505.0 1188.3,518.1 1189.1,510.3 1190.0,512.4 1190.9,522.2 1191.8,504.0 1192.6,510.3 1193.5,515.0 1194.4,499.6 1195.3,504.9 1196.1,504.1 1197.0,501.3 1197.9,505.2 1198.8,521.7 1199.6,514.5 1200.5,502.8 1201.4,517.7 1202.3,510.9 1203.1,507.8 1204.0,498.8 1204.9,499.9 1205.7,503.3 1206.6,512.8 1207.5,503.1 1208.4,506.4 1209.2,512.5 1210.1,498.9 1211.0,506.6 1211.9,517.8 1212.7,499.4 1213.6,513.2 1214.5,505.4 1215.4,524.9 1216.2,510.9 1217.1,519.5 1218.0,519.8 1218.9,528.7 1219.7,494.3 1220.6,511.8 1221.5,508.0 1222.4,499.4 1223.2,511.3 1224.1,505.0 1225.0,523.3 1225.8,507.9 1226.7,513.9 1227.6,504.6 1228.5,507.7 1229.3,523.4 1230.2,528.2 1231.1,519.6 1232.0,501.4 1232.8,504.5 1233.7,504.5 1234.6,528.6 1235.5,528.6 1236.3,514.9 1237.2,511.7 1238.1,514.5 1239.0,504.0 1239.8,509.5 1240.7,520.4 1241.6,517.0 1242.4,505.6 1243.3,506.2 1244.2,507.6 1245.1,487.6 1245.9,509.4 1246.8,504.9 1247.7,517.4 1248.6,509.9 1249.4,499.6 1250.3,498.9 1251.2,507.0 1252.1,500.4 1252.9,504.1 1253.8,526.7 1254.7,526.8 1255.6,483.8 1256.4,493.8 1257.3,504.2 1258.2,524.4 1259.0,518.6 1259.9,486.2 1260.8,525.9 1261.7,506.3 1262.5,491.2 1263.4,499.9 1264.3,491.9 1265.2,502.8 1266.0,479.2 1266.9,513.6 1267.8,517.7 1268.7,496.4 1269.5,481.1 1270.4,500.0 1271.3,485.2 1272.2,505.6 1273.0,514.0 1273.9,479.3 1274.8,476.6 1275.7,476.7" marker-start="url(#bgreen)" marker-mid="url(#bgreen)" marker-end="url(#bgreen)"/><polyline fill="none" stroke="none" points="824.8,525.0 825.7,525.0 826.5,523.9 827.4,521.5 828.3,519.2 829.2,518.2 830.0,519.9 830.9,516.4 831.8,515.6 832.6,514.3 833.5,513.3 834.4,512.4 835.3,510.1 836.1,509.6 837.0,508.3 837.9,508.4 838.8,505.7 839.6,505.2 840.5,506.5 841.4,501.9 842.3,501.8 843.1,498.9 844.0,499.2 844.9,497.9 845.8,496.2 846.6,495.3 847.5,494.7 848.4,495.4 849.2,489.1 850.1,492.6 851.0,489.6 851.9,486.9 852.7,486.0 853.6,484.5 854.5,483.0 855.4,481.0 856.2,481.1 857.1,477.9 858.0,480.5 858.9,477.5 859.7,477.1 860.6,476.1 861.5,473.7 862.4,470.7 863.2,472.6 864.1,471.4 865.0,468.1 865.8,467.1 866.7,464.2 867.6,464.0 868.5,463.9 869.3,463.5 870.2,461.5 871.1,460.9 872.0,461.4 872.8,458.2 873.7,457.3 874.6,456.2 875.5,455.3 876.3,451.0 877.2,451.3 878.1,449.8 879.0,450.9 879.8,450.4 880.7,448.2 881.6,446.3 882.5,446.1 883.3,444.7 884.2,441.9 885.1,441.8 885.9,442.7 886.8,440.8 887.7,440.1 888.6,437.8 889.4,438.8 890.3,436.3 891.2,434.0 892.1,434.0 892.9,434.4 893.8,433.0 894.7,430.9 895.6,429.4 896.4,428.0 897.3,428.6 898.2,429.5 899.1,424.4 899.9,425.2 900.8,424.2 901.7,423.5 902.5,424.8 903.4,422.9 904.3,421.2 905.2,419.2 906.0,419.9 906.9,422.3 907.8,418.9 908.7,417.3 909.5,415.0 910.4,415.3 911.3,413.0 912.2,412.7 913.0,412.2 913.9,412.2 914.8,415.4 915.7,411.1 916.5,410.9 917.4,412.2 918.3,409.7 919.2,409.4 920.0,410.4 920.9,409.3 921.8,409.0 922.6,407.6 923.5,408.2 924.4,406.1 925.3,409.8 926.1,406.6 927.0,408.6 927.9,406.0 928.8,403.9 929.6,404.3 930.5,404.2 931.4,403.4 932.3,400.4 933.1,404.8 934.0,400.9 934.9,404.9 935.8,402.7 936.6,401.2 937.5,402.8 938.4,400.5 939.2,399.3 940.1,402.6 941.0,400.3 941.9,400.6 942.7,403.2 943.6,399.8 944.5,400.7 945.4,396.4 946.2,400.5 947.1,395.3 948.0,399.5 948.9,395.0 949.7,397.1 950.6,397.2 951.5,396.3 952.4,396.0 953.2,394.9 954.1,394.2 955.0,398.3 955.8,400.1 956.7,401.4 957.6,398.3 958.5,395.8 959.3,396.6 960.2,397.2 961.1,398.1 962.0,398.8 962.8,398.1 963.7,396.6 964.6,401.4 965.5,396.0 966.3,400.9 967.2,398.1 968.1,399.2 969.0,398.7 969.8,400.4 970.7,400.8 971.6,398.8 972.5,400.9 973.3,394.6 974.2,399.7 975.1,400.4 975.9,400.4 976.8,401.8 977.7,404.0 978.6,400.3 979.4,399.1 980.3,403.8 981.2,400.3 982.1,403.6 982.9,400.9 983.8,400.2 984.7,400.2 985.6,400.6 986.4,403.8 987.3,400.0 988.2,403.7 989.1,402.0 989.9,401.4 990.8,404.4 991.7,407.3 992.5,402.6 993.4,407.6 994.3,407.4 995.2,408.4 996.0,403.4 996.9,406.6 997.8,411.8 998.7,404.9 999.5,402.5 1000.4,402.9 1001.3,409.9 1002.2,408.5 1003.0,407.7 1003.9,407.0 1004.8,410.0 1005.7,413.8 1006.5,408.7 1007.4,409.6 1008.3,416.0 1009.1,413.6 1010.0,412.2 1010.9,413.5 1011.8,412.4 1012.6,412.0 1013.5,413.3 1014.4,416.0 1015.3,420.5 1016.1,414.7 1017.0,412.6 1017.9,412.1 1018.8,418.5 1019.6,419.0 1020.5,414.6 1021.4,415.2 1022.3,419.5 1023.1,418.8 1024.0,424.4 1024.9,420.4 1025.8,425.9 1026.6,424.1 1027.5,424.6 1028.4,426.5 1029.2,432.3 1030.1,429.1 1031.0,425.4 1031.9,427.5 1032.7,429.4 1033.6,426.9 1034.5,426.6 1035.4,426.6 1036.2,433.5 1037.1,431.0 1038.0,433.0 1038.9,435.8 1039.7,438.9 1040.6,434.0 1041.5,437.8 1042.4,428.0 1043.2,436.0 1044.1,437.2 1045.0,438.6 1045.8,430.4 1046.7,442.2 1047.6,439.6 1048.5,442.8 1049.3,440.7 1050.2,441.0 1051.1,436.8 1052.0,448.4 1052.8,443.0 1053.7,436.3 1054.6,446.5 1055.5,445.7 1056.3,449.6 1057.2,454.8 1058.1,447.3 1059.0,442.0 1059.8,450.4 1060.7,457.6 1061.6,448.2 1062.4,449.8 1063.3,446.0 1064.2,447.0 1065.1,453.4 1065.9,450.8 1066.8,462.4 1067.7,448.5 1068.6,453.8 1069.4,449.9 1070.3,450.6 1071.2,458.1 1072.1,458.1 1072.9,462.5 1073.8,468.5 1074.7,459.9 1075.6,459.0 1076.4,466.3 1077.3,457.2 1078.2,461.2 1079.1,459.8 1079.9,467.2 1080.8,473.4 1081.7,459.8 1082.5,461.3 1083.4,466.0 1084.3,468.4 1085.2,468.2 1086.0,468.0 1086.9,470.7 1087.8,479.5 1088.7,464.2 1089.5,478.5 1090.4,472.1 1091.3,472.5 1092.2,469.6 1093.0,481.8 1093.9,464.8 1094.8,468.8 1095.7,468.6 1096.5,465.9 1097.4,479.7 1098.3,487.3 1099.1,473.5 1100.0,467.6 1100.9,469.0 1101.8,480.8 1102.6,478.4 1103.5,476.4 1104.4,491.1 1105.3,483.9 1106.1,484.2 1107.0,469.4 1107.9,485.4 1108.8,470.3 1109.6,481.8 1110.5,494.3 1111.4,470.6 1112.3,490.4 1113.1,479.3 1114.0,471.8 1114.9,488.8 1115.7,494.5 1116.6,478.0 1117.5,485.7 1118.4,496.1 1119.2,495.5 1120.1,490.7 1121.0,480.6 1121.9,490.8 1122.7,483.9 1123.6,476.4 1124.5,479.8 1125.4,478.8 1126.2,480.8 1127.1,504.4 1128.0,481.7 1128.9,489.4 1129.7,493.6 1130.6,502.1 1131.5,506.8 1132.4,503.3 1133.2,494.4 1134.1,504.8 1135.0,502.2 1135.8,500.9 1136.7,490.0 1137.6,498.9 1138.5,498.0 1139.3,485.2 1140.2,500.4 1141.1,492.4 1142.0,507.9 1142.8,495.6 1143.7,497.9 1144.6,497.7 1145.5,504.1 1146.3,509.9 1147.2,503.3 1148.1,505.3 1149.0,491.2 1149.8,492.7 1150.7,513.7 1151.6,496.1 1152.4,507.4 1153.3,498.4 1154.2,508.1 1155.1,518.5 1155.9,493.6 1156.8,499.6 1157.7,517.2 1158.6,524.5 1159.4,510.8 1160.3,518.0 1161.2,509.7 1162.1,499.5 1162.9,490.7 1163.8,510.6 1164.7,492.1 1165.6,494.6 1166.4,512.4 1167.3,526.4 1168.2,498.7 1169.0,501.6 1169.9,489.6 1170.8,492.8 1171.7,500.3 1172.5,490.1 1173.4,521.9 1174.3,507.8 1175.2,513.5 1176.0,490.5 1176.9,504.1 1177.8,533.8 1178.7,494.8 1179.5,522.5 1180.4,502.2 1181.3,517.8 1182.2,509.1 1183.0,504.5 1183.9,510.1 1184.8,524.8 1185.7,495.3 1186.5,508.1 1187.4,513.6 1188.3,504.5 1189.1,520.7 1190.0,492.0 1190.9,511.2 1191.8,509.5 1192.6,509.9 1193.5,526.9 1194.4,530.7 1195.3,512.1 1196.1,510.4 1197.0,496.9 1197.9,509.3 1198.8,530.8 1199.6,508.5 1200.5,504.4 1201.4,502.0 1202.3,511.5 1203.1,533.9 1204.0,499.9 1204.9,527.3 1205.7,508.5 1206.6,540.0 1207.5,505.8 1208.4,528.9 1209.2,501.2 1210.1,492.2 1211.0,499.9 1211.9,535.4 1212.7,532.2 1213.6,531.3 1214.5,507.7 1215.4,512.7 1216.2,515.7 1217.1,513.4 1218.0,509.2 1218.9,508.1 1219.7,491.5 1220.6,519.5 1221.5,515.4 1222.4,549.0 1223.2,540.5 1224.1,530.3 1225.0,538.6 1225.8,515.3 1226.7,501.6 1227.6,526.5 1228.5,527.4 1229.3,528.0 1230.2,517.0 1231.1,528.7 1232.0,511.9 1232.8,514.1 1233.7,513.4 1234.6,505.9 1235.5,518.9 1236.3,516.9 1237.2,489.0 1238.1,520.4 1239.0,505.0 1239.8,518.6 1240.7,528.0 1241.6,528.0 1242.4,534.8 1243.3,519.3 1244.2,530.9 1245.1,527.5 1245.9,496.3 1246.8,522.0 1247.7,497.4 1248.6,514.2 1249.4,502.5 1250.3,531.2 1251.2,516.3 1252.1,485.5 1252.9,502.6 1253.8,499.0 1254.7,514.3 1255.6,501.6 1256.4,542.5 1257.3,536.2 1258.2,509.9 1259.0,501.7 1259.9,527.1 1260.8,522.4 1261.7,526.0 1262.5,522.3 1263.4,543.7 1264.3,548.7 1265.2,519.8 1266.0,555.4 1266.9,539.1 1267.8,532.1 1268.7,540.7 1269.5,512.3 1270.4,527.3 1271.3,519.1 1272.2,539.8 1273.0,533.8 1273.9,505.3 1274.8,508.6 1275.7,527.3" marker-start="url(#byellow)" marker-mid="url(#byellow)" marker-end="url(#byellow)"/><polyline fill="none" stroke="none" points="824.8,529.2 825.7,530.0 826.5,530.2 827.4,527.5 828.3,530.5 829.2,528.2 830.0,527.0 830.9,526.7 831.8,526.6 832.6,521.3 833.5,519.8 834.4,517.7 835.3,515.0 836.1,512.2 837.0,510.7 837.9,505.4 838.8,505.8 839.6,499.1 840.5,498.0 841.4,492.2 842.3,486.5 843.1,484.2 844.0,480.6 844.9,474.7 845.8,472.0 846.6,468.0 847.5,463.8 848.4,456.1 849.2,453.4 850.1,449.4 851.0,448.1 851.9,440.6 852.7,439.7 853.6,432.2 854.5,430.8 855.4,421.3 856.2,423.2 857.1,413.7 858.0,410.1 858.9,410.5 859.7,403.5 860.6,396.2 861.5,392.5 862.4,393.4 863.2,387.2 864.1,384.2 865.0,379.9 865.8,375.2 866.7,366.8 867.6,365.8 868.5,362.6 869.3,358.9 870.2,353.3 871.1,349.5 872.0,348.8 872.8,340.8 873.7,341.8 874.6,336.8 875.5,332.0 876.3,326.3 877.2,326.7 878.1,322.2 879.0,317.1 879.8,315.2 880.7,311.1 881.6,308.2 882.5,306.7 883.3,303.0 884.2,299.6 885.1,298.6 885.9,292.8 886.8,296.6 887.7,292.3 888.6,285.3 889.4,284.8 890.3,284.4 891.2,280.2 892.1,276.6 892.9,277.6 893.8,273.0 894.7,272.6 895.6,270.7 896.4,268.7 897.3,264.7 898.2,267.2 899.1,264.0 899.9,260.5 900.8,262.5 901.7,261.7 902.5,256.1 903.4,255.9 904.3,254.8 905.2,253.0 906.0,254.0 906.9,247.5 907.8,251.7 908.7,249.6 909.5,250.6 910.4,247.6 911.3,242.9 912.2,245.0 913.0,243.0 913.9,244.4 914.8,239.2 915.7,241.7 916.5,243.9 917.4,239.3 918.3,241.0 919.2,238.5 920.0,239.0 920.9,238.3 921.8,238.1 922.6,239.9 923.5,240.8 924.4,235.3 925.3,237.4 926.1,236.2 927.0,237.6 927.9,240.2 928.8,238.9 929.6,233.1 930.5,237.6 931.4,236.6 932.3,238.9 933.1,236.8 934.0,236.4 934.9,236.0 935.8,235.7 936.6,236.9 937.5,236.8 938.4,235.6 939.2,234.9 940.1,236.0 941.0,231.8 941.9,235.3 942.7,235.5 943.6,237.5 944.5,233.8 945.4,238.6 946.2,240.1 947.1,238.8 948.0,235.3 948.9,239.6 949.7,234.1 950.6,237.4 951.5,241.2 952.4,238.4 953.2,233.9 954.1,240.5 955.0,241.8 955.8,237.8 956.7,236.2 957.6,237.2 958.5,240.9 959.3,240.0 960.2,240.0 961.1,238.3 962.0,237.3 962.8,242.4 963.7,239.3 964.6,244.0 965.5,242.1 966.3,246.5 967.2,246.6 968.1,244.1 969.0,248.1 969.8,244.0 970.7,248.4 971.6,247.4 972.5,248.5 973.3,249.8 974.2,249.3 975.1,247.4 975.9,246.2 976.8,255.0 977.7,251.7 978.6,253.8 979.4,256.6 980.3,254.1 981.2,258.2 982.1,256.8 982.9,254.0 983.8,263.6 984.7,258.6 985.6,259.0 986.4,264.0 987.3,260.7 988.2,262.2 989.1,265.3 989.9,261.7 990.8,270.2 991.7,265.5 992.5,269.2 993.4,272.8 994.3,271.3 995.2,272.9 996.0,270.4 996.9,278.8 997.8,275.9 998.7,277.9 999.5,272.7 1000.4,282.5 1001.3,276.7 1002.2,287.0 1003.0,281.4 1003.9,284.2 1004.8,283.8 1005.7,288.6 1006.5,293.6 1007.4,294.0 1008.3,285.6 1009.1,290.5 1010.0,295.5 1010.9,290.7 1011.8,297.7 1012.6,298.9 1013.5,301.9 1014.4,294.7 1015.3,293.7 1016.1,304.9 1017.0,301.6 1017.9,300.3 1018.8,298.6 1019.6,313.1 1020.5,307.1 1021.4,306.4 1022.3,315.6 1023.1,309.7 1024.0,311.7 1024.9,310.9 1025.8,317.1 1026.6,314.4 1027.5,319.6 1028.4,316.0 1029.2,318.9 1030.1,322.2 1031.0,327.5 1031.9,316.3 1032.7,319.6 1033.6,321.6 1034.5,329.1 1035.4,328.9 1036.2,321.5 1037.1,326.5 1038.0,334.4 1038.9,331.6 1039.7,332.3 1040.6,334.9 1041.5,339.2 1042.4,330.6 1043.2,334.6 1044.1,339.1 1045.0,346.3 1045.8,343.0 1046.7,341.4 1047.6,338.4 1048.5,345.1 1049.3,339.3 1050.2,344.8 1051.1,350.0 1052.0,356.1 1052.8,354.1 1053.7,356.6 1054.6,351.2 1055.5,349.8 1056.3,345.6 1057.2,353.5 1058.1,360.2 1059.0,346.5 1059.8,354.8 1060.7,358.7 1061.6,359.7 1062.4,366.2 1063.3,356.9 1064.2,359.3 1065.1,353.8 1065.9,357.3 1066.8,359.4 1067.7,358.3 1068.6,367.5 1069.4,369.3 1070.3,368.1 1071.2,375.7 1072.1,370.6 1072.9,372.5 1073.8,367.9 1074.7,372.7 1075.6,384.0 1076.4,374.3 1077.3,367.2 1078.2,387.0 1079.1,381.7 1079.9,378.1 1080.8,387.0 1081.7,383.3 1082.5,380.6 1083.4,389.9 1084.3,381.0 1085.2,381.2 1086.0,392.6 1086.9,385.5 1087.8,379.8 1088.7,388.6 1089.5,385.6 1090.4,385.2 1091.3,391.8 1092.2,384.8 1093.0,389.6 1093.9,399.6 1094.8,390.5 1095.7,389.2 1096.5,390.5 1097.4,401.2 1098.3,394.6 1099.1,389.2 1100.0,398.0 1100.9,392.3 1101.8,392.4 1102.6,402.7 1103.5,398.7 1104.4,406.4 1105.3,397.5 1106.1,406.8 1107.0,411.1 1107.9,408.3 1108.8,409.5 1109.6,407.1 1110.5,407.4 1111.4,420.6 1112.3,417.8 1113.1,411.0 1114.0,411.0 1114.9,415.0 1115.7,403.2 1116.6,408.8 1117.5,419.1 1118.4,413.6 1119.2,409.7 1120.1,418.4 1121.0,436.5 1121.9,422.5 1122.7,423.8 1123.6,411.0 1124.5,441.5 1125.4,414.1 1126.2,429.4 1127.1,421.1 1128.0,432.5 1128.9,429.4 1129.7,422.1 1130.6,432.2 1131.5,424.6 1132.4,435.6 1133.2,439.5 1134.1,438.8 1135.0,442.3 1135.8,439.9 1136.7,427.3 1137.6,451.5 1138.5,457.1 1139.3,442.9 1140.2,427.9 1141.1,434.8 1142.0,433.1 1142.8,434.7 1143.7,454.7 1144.6,447.5 1145.5,468.4 1146.3,456.6 1147.2,445.6 1148.1,468.0 1149.0,472.7 1149.8,467.6 1150.7,453.2 1151.6,444.4 1152.4,440.0 1153.3,443.3 1154.2,474.8 1155.1,480.1 1155.9,459.2 1156.8,450.4 1157.7,479.7 1158.6,468.8 1159.4,468.9 1160.3,464.4 1161.2,467.5 1162.1,460.6 1162.9,455.3 1163.8,466.9 1164.7,459.9 1165.6,450.4 1166.4,481.2 1167.3,482.2 1168.2,465.0 1169.0,452.4 1169.9,470.0 1170.8,459.6 1171.7,476.6 1172.5,462.5 1173.4,481.3 1174.3,466.2 1175.2,469.9 1176.0,470.3 1176.9,458.6 1177.8,462.7 1178.7,483.6 1179.5,465.4 1180.4,498.1 1181.3,464.5 1182.2,456.9 1183.0,470.7 1183.9,471.2 1184.8,477.1 1185.7,467.3 1186.5,484.2 1187.4,469.6 1188.3,482.1 1189.1,484.3 1190.0,477.1 1190.9,479.7 1191.8,502.5 1192.6,457.5 1193.5,477.2 1194.4,502.6 1195.3,464.2 1196.1,479.6 1197.0,476.4 1197.9,469.3 1198.8,492.0 1199.6,508.2 1200.5,480.7 1201.4,475.7 1202.3,464.5 1203.1,490.2 1204.0,483.0 1204.9,473.0 1205.7,483.6 1206.6,482.5 1207.5,474.9 1208.4,493.7 1209.2,454.4 1210.1,492.5 1211.0,477.7 1211.9,483.2 1212.7,489.0 1213.6,469.4 1214.5,461.7 1215.4,454.3 1216.2,468.0 1217.1,484.4 1218.0,463.0 1218.9,500.3 1219.7,475.8 1220.6,467.8 1221.5,466.9 1222.4,495.2 1223.2,501.0 1224.1,449.0 1225.0,484.2 1225.8,503.4 1226.7,496.4 1227.6,474.7 1228.5,454.3 1229.3,474.6 1230.2,453.3 1231.1,470.2 1232.0,465.6 1232.8,456.2 1233.7,480.3 1234.6,468.0 1235.5,480.2 1236.3,484.6 1237.2,460.7 1238.1,487.7 1239.0,470.9 1239.8,486.9 1240.7,473.7 1241.6,481.8 1242.4,450.9 1243.3,469.9 1244.2,469.8 1245.1,439.8 1245.9,509.2 1246.8,492.6 1247.7,509.3 1248.6,470.8 1249.4,461.9 1250.3,457.6 1251.2,464.9 1252.1,487.8 1252.9,436.7 1253.8,463.8 1254.7,475.2 1255.6,492.9 1256.4,461.0 1257.3,479.9 1258.2,479.0 1259.0,465.2 1259.9,464.9 1260.8,486.9 1261.7,442.6 1262.5,490.9 1263.4,493.5 1264.3,462.7 1265.2,466.6 1266.0,467.8 1266.9,478.5 1267.8,468.5 1268.7,482.0 1269.5,506.5 1270.4,453.0 1271.3,492.6 1272.2,474.9 1273.0,453.1 1273.9,469.4 1274.8,431.2 1275.7,502.7" marker-start="url(#borange)" marker-mid="url(#borange)" marker-end="url(#borange)"/><polyline fill="none" stroke="none" points="824.8,541.5 825.7,539.8 826.5,536.9 827.4,538.6 828.3,539.2 829.2,532.7 830.0,534.1 830.9,530.1 831.8,525.1 832.6,524.5 833.5,520.4 834.4,514.8 835.3,511.7 836.1,506.3 837.0,503.7 837.9,497.2 838.8,493.7 839.6,489.1 840.5,477.6 841.4,474.0 842.3,467.3 843.1,464.6 844.0,456.7 844.9,450.7 845.8,446.5 846.6,436.6 847.5,432.4 848.4,425.0 849.2,420.8 850.1,409.8 851.0,403.7 851.9,397.9 852.7,393.9 853.6,386.9 854.5,377.5 855.4,374.1 856.2,367.1 857.1,361.4 858.0,357.9 858.9,347.4 859.7,348.0 860.6,338.6 861.5,333.7 862.4,331.2 863.2,322.4 864.1,316.9 865.0,312.8 865.8,309.4 866.7,302.2 867.6,296.3 868.5,293.2 869.3,286.0 870.2,283.0 871.1,278.8 872.0,273.4 872.8,273.0 873.7,268.6 874.6,262.6 875.5,258.7 876.3,253.0 877.2,249.9 878.1,248.0 879.0,244.3 879.8,241.8 880.7,238.5 881.6,235.3 882.5,229.5 883.3,228.9 884.2,225.6 885.1,221.6 885.9,219.9 886.8,216.5 887.7,216.9 888.6,209.8 889.4,208.4 890.3,204.9 891.2,202.0 892.1,203.9 892.9,194.7 893.8,195.3 894.7,193.0 895.6,194.7 896.4,187.8 897.3,186.2 898.2,185.7 899.1,182.6 899.9,178.6 900.8,180.1 901.7,179.5 902.5,173.3 903.4,173.8 904.3,173.2 905.2,168.1 906.0,169.5 906.9,168.8 907.8,166.6 908.7,166.7 909.5,164.2 910.4,163.2 911.3,163.7 912.2,161.8 913.0,159.6 913.9,158.4 914.8,157.1 915.7,155.7 916.5,156.1 917.4,154.7 918.3,155.9 919.2,154.9 920.0,151.3 920.9,157.4 921.8,151.6 922.6,148.3 923.5,155.5 924.4,147.4 925.3,154.4 926.1,149.1 927.0,145.9 927.9,145.8 928.8,151.1 929.6,151.7 930.5,151.8 931.4,146.5 932.3,149.0 933.1,147.8 934.0,147.1 934.9,146.6 935.8,146.3 936.6,147.3 937.5,151.5 938.4,144.0 939.2,152.5 940.1,144.6 941.0,149.4 941.9,148.5 942.7,149.5 943.6,149.3 944.5,148.7 945.4,149.6 946.2,152.1 947.1,147.2 948.0,151.4 948.9,146.6 949.7,151.0 950.6,153.0 951.5,150.3 952.4,149.5 953.2,155.1 954.1,153.8 955.0,149.6 955.8,157.0 956.7,157.2 957.6,154.9 958.5,159.6 959.3,162.4 960.2,162.4 961.1,157.1 962.0,157.0 962.8,157.9 963.7,159.3 964.6,165.1 965.5,160.1 966.3,159.5 967.2,166.1 968.1,161.9 969.0,167.0 969.8,166.2 970.7,166.6 971.6,173.5 972.5,165.0 973.3,173.6 974.2,172.2 975.1,174.6 975.9,172.5 976.8,173.7 977.7,176.2 978.6,172.6 979.4,177.7 980.3,181.2 981.2,187.9 982.1,183.3 982.9,184.6 983.8,187.9 984.7,189.2 985.6,185.2 986.4,184.9 987.3,183.9 988.2,187.1 989.1,195.4 989.9,193.2 990.8,200.7 991.7,194.1 992.5,197.0 993.4,202.2 994.3,201.7 995.2,203.7 996.0,206.7 996.9,200.3 997.8,200.4 998.7,205.3 999.5,205.8 1000.4,211.0 1001.3,214.7 1002.2,207.7 1003.0,217.8 1003.9,216.1 1004.8,219.9 1005.7,218.3 1006.5,222.7 1007.4,221.4 1008.3,231.3 1009.1,227.6 1010.0,222.5 1010.9,235.0 1011.8,235.0 1012.6,227.1 1013.5,233.1 1014.4,231.5 1015.3,247.5 1016.1,239.1 1017.0,247.5 1017.9,249.7 1018.8,242.5 1019.6,240.2 1020.5,255.1 1021.4,254.8 1022.3,253.7 1023.1,252.9 1024.0,260.7 1024.9,246.7 1025.8,253.8 1026.6,260.3 1027.5,262.7 1028.4,252.5 1029.2,253.9 1030.1,267.1 1031.0,264.0 1031.9,260.3 1032.7,275.5 1033.6,273.6 1034.5,264.0 1035.4,277.2 1036.2,277.1 1037.1,283.9 1038.0,281.9 1038.9,274.6 1039.7,285.0 1040.6,289.3 1041.5,286.6 1042.4,273.7 1043.2,284.2 1044.1,290.1 1045.0,286.9 1045.8,286.3 1046.7,289.5 1047.6,303.2 1048.5,290.7 1049.3,295.3 1050.2,289.4 1051.1,305.3 1052.0,290.2 1052.8,301.8 1053.7,311.3 1054.6,291.5 1055.5,305.4 1056.3,300.2 1057.2,305.1 1058.1,297.2 1059.0,298.1 1059.8,299.0 1060.7,302.9 1061.6,321.1 1062.4,322.7 1063.3,309.7 1064.2,319.5 1065.1,309.7 1065.9,313.0 1066.8,326.2 1067.7,324.4 1068.6,326.2 1069.4,325.3 1070.3,320.9 1071.2,314.7 1072.1,310.3 1072.9,330.2 1073.8,327.9 1074.7,311.3 1075.6,317.7 1076.4,324.2 1077.3,343.3 1078.2,336.9 1079.1,327.9 1079.9,335.4 1080.8,316.4 1081.7,331.5 1082.5,330.8 1083.4,344.3 1084.3,344.9 1085.2,342.6 1086.0,343.4 1086.9,340.8 1087.8,336.2 1088.7,338.6 1089.5,332.4 1090.4,356.0 1091.3,342.1 1092.2,343.0 1093.0,330.9 1093.9,349.8 1094.8,345.6 1095.7,358.2 1096.5,347.0 1097.4,348.4 1098.3,360.2 1099.1,359.5 1100.0,356.6 1100.9,351.4 1101.8,371.0 1102.6,350.7 1103.5,365.0 1104.4,344.5 1105.3,348.1 1106.1,369.9 1107.0,373.7 1107.9,349.3 1108.8,362.4 1109.6,364.4 1110.5,377.1 1111.4,375.1 1112.3,365.6 1113.1,369.1 1114.0,387.5 1114.9,364.3 1115.7,376.8 1116.6,393.3 1117.5,371.2 1118.4,386.7 1119.2,376.3 1120.1,394.2 1121.0,384.2 1121.9,410.5 1122.7,386.7 1123.6,412.1 1124.5,392.0 1125.4,419.7 1126.2,397.6 1127.1,388.5 1128.0,392.9 1128.9,384.7 1129.7,416.3 1130.6,382.0 1131.5,382.6 1132.4,422.1 1133.2,417.8 1134.1,416.0 1135.0,409.6 1135.8,407.8 1136.7,438.3 1137.6,404.2 1138.5,417.5 1139.3,429.7 1140.2,402.1 1141.1,422.1 1142.0,401.3 1142.8,411.2 1143.7,424.9 1144.6,403.3 1145.5,409.7 1146.3,430.6 1147.2,448.6 1148.1,433.1 1149.0,415.8 1149.8,430.0 1150.7,400.2 1151.6,423.6 1152.4,425.3 1153.3,422.6 1154.2,444.2 1155.1,432.4 1155.9,441.9 1156.8,462.8 1157.7,461.9 1158.6,420.2 1159.4,440.7 1160.3,435.7 1161.2,459.5 1162.1,444.7 1162.9,421.3 1163.8,433.6 1164.7,444.9 1165.6,408.8 1166.4,437.4 1167.3,443.0 1168.2,416.2 1169.0,468.9 1169.9,427.4 1170.8,458.3 1171.7,452.6 1172.5,451.0 1173.4,435.9 1174.3,436.5 1175.2,432.9 1176.0,434.8 1176.9,411.8 1177.8,406.1 1178.7,425.3 1179.5,424.3 1180.4,446.8 1181.3,461.5 1182.2,427.6 1183.0,438.9 1183.9,422.2 1184.8,477.1 1185.7,404.8 1186.5,466.2 1187.4,439.0 1188.3,418.9 1189.1,469.1 1190.0,451.6 1190.9,480.2 1191.8,470.7 1192.6,480.7 1193.5,437.6 1194.4,433.3 1195.3,446.8 1196.1,411.6 1197.0,408.6 1197.9,439.9 1198.8,444.7 1199.6,446.0 1200.5,450.1 1201.4,409.4 1202.3,434.1 1203.1,447.3 1204.0,444.9 1204.9,426.5 1205.7,448.9 1206.6,431.8 1207.5,440.2 1208.4,406.3 1209.2,410.8 1210.1,474.0 1211.0,443.0 1211.9,421.2 1212.7,450.1 1213.6,418.4 1214.5,430.2 1215.4,423.5 1216.2,440.1 1217.1,430.6 1218.0,424.7 1218.9,476.7 1219.7,462.2 1220.6,465.0 1221.5,393.2 1222.4,429.8 1223.2,427.7 1224.1,433.0 1225.0,451.7 1225.8,457.8 1226.7,413.9 1227.6,447.5 1228.5,393.0 1229.3,431.4 1230.2,434.2 1231.1,442.9 1232.0,438.7 1232.8,435.4 1233.7,392.3 1234.6,387.2 1235.5,469.7 1236.3,428.4 1237.2,414.8 1238.1,462.4 1239.0,454.3 1239.8,449.0 1240.7,492.4 1241.6,415.2 1242.4,436.2 1243.3,437.5 1244.2,432.0 1245.1,426.6 1245.9,381.5 1246.8,428.3 1247.7,407.5 1248.6,450.2 1249.4,422.2 1250.3,443.4 1251.2,438.0 1252.1,462.3 1252.9,459.5 1253.8,417.6 1254.7,407.8 1255.6,416.9 1256.4,454.5 1257.3,421.2 1258.2,496.1 1259.0,399.4 1259.9,432.6 1260.8,421.8 1261.7,390.7 1262.5,445.4 1263.4,397.0 1264.3,445.7 1265.2,410.9 1266.0,444.3 1266.9,418.8 1267.8,377.4 1268.7,452.7 1269.5,451.2 1270.4,440.7 1271.3,417.6 1272.2,366.7 1273.0,449.6 1273.9,499.5 1274.8,452.2 1275.7,487.2" marker-start="url(#bred)" marker-mid="url(#bred)" marker-end="url(#bred)"/><path fill="none" stroke="#0000ff" stroke-width="1.0" d="M176.5 143.6V152.1m-3 0h6M173.5 143.6h6M184.7 148.3V156.0m-3 0h6M181.7 148.3h6M192.3 154.0V159.2m-3 0h6M189.3 154.0h6M199.5 159.1V163.8m-3 0h6M196.5 159.1h6M206.3 163.7V166.9m-3 0h6M203.3 163.7h6M212.7 167.1V171.3m-3 0h6M209.7 167.1h6M218.8 170.7V173.8m-3 0h6M215.8 170.7h6M224.6 173.8V177.9m-3 0h6M221.6 173.8h6M230.2 176.9V180.7m-3 0h6M227.2 176.9h6M235.5 181.6V184.0M240.5 183.1V185.7M245.4 186.5V189.1M250.1 188.7V191.7M254.6 192.1V193.9M258.9 194.4V196.8M263.1 195.9V199.4m-3 0h6M260.1 195.9h6M267.2 198.6V201.0M271.1 201.1V203.6M274.9 203.2V205.6M278.5 205.2V207.1M282.1 207.3V210.1M285.6 209.6V212.1M289.0 210.8V213.2M292.2 212.8V215.5M295.4 214.9V217.7M298.5 216.8V218.4M301.6 217.8V220.4M304.5 219.9V222.0M307.4 221.3V223.8M310.2 222.5V224.6M313.0 223.7V225.7M315.7 225.0V227.9M318.3 226.8V229.2M320.9 227.8V230.1M323.4 229.0V231.3M325.9 230.6V233.0M328.3 231.5V234.0M330.7 233.0V234.6M333.0 234.4V236.4M335.3 235.6V237.9M337.5 236.1V239.0M339.8 237.1V240.3m-3 0h6M336.8 237.1h6M341.9 238.4V240.5M344.0 239.5V243.2m-3 0h6M341.0 239.5h6M346.1 240.9V243.4M348.2 241.8V244.6M350.2 243.4V245.6M352.2 243.8V246.0M354.1 244.0V247.4m-3 0h6M351.1 244.0h6M356.1 245.8V248.3M357.9 246.1V248.6M359.8 246.8V250.0m-3 0h6M356.8 246.8h6M361.6 247.6V251.2m-3 0h6M358.6 247.6h6M363.4 249.3V251.2M365.2 249.8V252.2M367.0 251.3V253.8M368.7 250.9V254.7m-3 0h6M365.7 250.9h6M370.4 251.5V255.8m-3 0h6M367.4 251.5h6M372.1 253.8V256.4M373.7 253.9V256.7M375.4 254.7V257.8m-3 0h6M372.4 254.7h6M377.0 255.1V258.4m-3 0h6M374.0 255.1h6M378.6 256.6V259.1M380.2 256.9V260.0m-3 0h6M377.2 256.9h6M381.7 257.9V260.2M383.2 259.4V260.9M384.8 259.5V261.5M386.2 260.0V262.8M387.7 260.4V263.5m-3 0h6M384.7 260.4h6M389.2 262.0V263.8M390.6 262.2V264.1M392.0 262.6V265.3M393.4 264.1V265.5M394.8 263.8V266.8m-3 0h6M391.8 263.8h6M396.2 264.1V267.5m-3 0h6M393.2 264.1h6M397.6 265.5V267.1M398.9 266.3V269.5m-3 0h6M395.9 266.3h6M400.2 266.5V269.2M401.6 266.7V270.5m-3 0h6M398.6 266.7h6M402.9 267.9V270.8M404.1 268.9V271.6M405.4 268.8V271.7M406.7 269.8V273.3m-3 0h6M403.7 269.8h6M407.9 270.2V273.1M409.2 270.6V273.5M410.4 272.3V274.5M411.6 272.1V275.2m-3 0h6M408.6 272.1h6M412.8 273.1V276.0M414.0 272.6V276.8m-3 0h6M411.0 272.6h6M415.1 273.4V276.4M416.3 274.0V276.9M417.5 275.6V278.2M418.6 275.5V278.9m-3 0h6M415.6 275.5h6M419.7 275.9V278.8M420.8 276.4V279.0M422.0 276.5V280.6m-3 0h6M419.0 276.5h6M423.0 277.3V281.6m-3 0h6M420.0 277.3h6M424.1 278.3V281.0M425.2 279.0V281.5M426.3 279.0V282.8m-3 0h6M423.3 279.0h6M427.3 280.2V282.8M428.4 279.1V284.5m-3 0h6M425.4 279.1h6M429.4 280.8V283.8M430.5 281.1V284.8m-3 0h6M427.5 281.1h6M431.5 282.3V284.7M432.5 282.7V285.8m-3 0h6M429.5 282.7h6M433.5 282.6V286.5m-3 0h6M430.5 282.6h6M434.5 282.9V286.4m-3 0h6M431.5 282.9h6M435.5 284.1V286.9M436.5 283.8V289.0m-3 0h6M433.5 283.8h6M437.5 284.3V288.0m-3 0h6M434.5 284.3h6M438.4 285.3V288.3m-3 0h6M435.4 285.3h6M439.4 285.6V288.4M440.3 286.4V289.4m-3 0h6M437.3 286.4h6M441.3 286.4V290.7m-3 0h6M438.3 286.4h6M442.2 287.9V290.6M443.2 287.4V290.7m-3 0h6M440.2 287.4h6M444.1 288.0V290.8M445.0 288.5V292.7m-3 0h6M442.0 288.5h6M445.9 289.4V292.6m-3 0h6M442.9 289.4h6M446.8 289.2V293.1m-3 0h6M443.8 289.2h6M447.7 290.1V293.8m-3 0h6M444.7 290.1h6M448.6 290.8V293.8M449.5 290.9V294.7m-3 0h6M446.5 290.9h6M450.3 291.1V295.1m-3 0h6M447.3 291.1h6M451.2 292.0V294.6M452.1 292.1V296.0m-3 0h6M449.1 292.1h6M452.9 290.9V297.9m-3 0h6M449.9 290.9h6M453.8 293.5V296.7m-3 0h6M450.8 293.5h6M454.6 293.4V297.3m-3 0h6M451.6 293.4h6M455.5 295.0V297.7M456.3 294.8V298.6m-3 0h6M453.3 294.8h6M457.1 295.0V298.1m-3 0h6M454.1 295.0h6M457.9 295.4V299.4m-3 0h6M454.9 295.4h6M458.8 295.8V299.3m-3 0h6M455.8 295.8h6M459.6 296.6V299.4M460.4 296.0V300.5m-3 0h6M457.4 296.0h6M461.2 297.1V300.5m-3 0h6M458.2 297.1h6M462.0 297.7V300.6M462.8 298.1V301.7m-3 0h6M459.8 298.1h6M463.5 299.0V302.0M464.3 299.0V302.9m-3 0h6M461.3 299.0h6M465.1 299.5V303.1m-3 0h6M462.1 299.5h6M465.9 300.2V303.6m-3 0h6M462.9 300.2h6M466.6 300.1V304.3m-3 0h6M463.6 300.1h6M467.4 301.1V303.9M468.1 300.6V305.1m-3 0h6M465.1 300.6h6M468.9 302.2V304.7M469.6 301.7V306.9m-3 0h6M466.6 301.7h6M470.4 302.3V306.2m-3 0h6M467.4 302.3h6M471.1 302.8V306.4m-3 0h6M468.1 302.8h6M471.9 303.1V306.4m-3 0h6M468.9 303.1h6M472.6 303.2V307.5m-3 0h6M469.6 303.2h6M473.3 304.2V307.9m-3 0h6M470.3 304.2h6M474.0 304.6V308.4m-3 0h6M471.0 304.6h6M474.7 303.9V308.7m-3 0h6M471.7 303.9h6M475.4 305.1V308.7m-3 0h6M472.4 305.1h6M476.2 305.2V309.0m-3 0h6M473.2 305.2h6M476.9 305.4V309.7m-3 0h6M473.9 305.4h6M477.6 306.2V311.1m-3 0h6M474.6 306.2h6M478.2 306.8V310.7m-3 0h6M475.2 306.8h6M478.9 307.0V311.2m-3 0h6M475.9 307.0h6M479.6 307.5V311.5m-3 0h6M476.6 307.5h6M480.3 307.6V312.3m-3 0h6M477.3 307.6h6M481.0 307.7V313.2m-3 0h6M478.0 307.7h6M481.7 309.1V312.5m-3 0h6M478.7 309.1h6M482.3 309.7V313.8m-3 0h6M479.3 309.7h6M483.0 309.7V313.8m-3 0h6M480.0 309.7h6M483.7 310.0V314.7m-3 0h6M480.7 310.0h6M484.3 309.7V315.4m-3 0h6M481.3 309.7h6M485.0 311.0V315.2m-3 0h6M482.0 311.0h6M485.6 311.0V315.4m-3 0h6M482.6 311.0h6M486.3 310.9V316.3m-3 0h6M483.3 310.9h6M486.9 312.4V315.7m-3 0h6M483.9 312.4h6M487.6 312.6V316.3m-3 0h6M484.6 312.6h6M488.2 313.0V317.0m-3 0h6M485.2 313.0h6M488.8 313.4V317.7m-3 0h6M485.8 313.4h6M489.5 313.6V318.2m-3 0h6M486.5 313.6h6M490.1 314.4V318.4m-3 0h6M487.1 314.4h6M490.7 313.4V319.8m-3 0h6M487.7 313.4h6M491.4 315.1V319.0m-3 0h6M488.4 315.1h6M492.0 315.1V319.4m-3 0h6M489.0 315.1h6M492.6 315.5V321.1m-3 0h6M489.6 315.5h6M493.2 315.4V320.7m-3 0h6M490.2 315.4h6M493.8 316.6V321.2m-3 0h6M490.8 316.6h6M494.4 316.8V321.8m-3 0h6M491.4 316.8h6M495.0 316.8V322.3m-3 0h6M492.0 316.8h6M495.6 317.7V322.4m-3 0h6M492.6 317.7h6M496.2 317.5V322.9m-3 0h6M493.2 317.5h6M496.8 318.9V322.8m-3 0h6M493.8 318.9h6M497.4 319.0V323.8m-3 0h6M494.4 319.0h6M498.0 320.0V323.4m-3 0h6M495.0 320.0h6M498.6 319.4V323.4m-3 0h6M495.6 319.4h6M499.2 320.3V324.1m-3 0h6M496.2 320.3h6M499.7 320.0V326.2m-3 0h6M496.7 320.0h6M500.3 320.8V325.3m-3 0h6M497.3 320.8h6M500.9 321.4V326.6m-3 0h6M497.9 321.4h6M501.5 321.3V325.3m-3 0h6M498.5 321.3h6M502.0 322.4V327.2m-3 0h6M499.0 322.4h6M502.6 322.2V326.9m-3 0h6M499.6 322.2h6M503.2 322.8V327.0m-3 0h6M500.2 322.8h6M503.7 323.0V329.0m-3 0h6M500.7 323.0h6M504.3 323.9V327.5m-3 0h6M501.3 323.9h6M504.8 323.1V328.9m-3 0h6M501.8 323.1h6M505.4 322.3V331.1m-3 0h6M502.4 322.3h6M506.0 324.8V329.1m-3 0h6M503.0 324.8h6M506.5 324.5V329.8m-3 0h6M503.5 324.5h6M507.0 325.9V329.7m-3 0h6M504.0 325.9h6M507.6 325.5V330.8m-3 0h6M504.6 325.5h6M508.1 326.8V330.5m-3 0h6M505.1 326.8h6M508.7 325.8V331.9m-3 0h6M505.7 325.8h6M509.2 327.3V332.2m-3 0h6M506.2 327.3h6M509.7 327.6V331.3m-3 0h6M506.7 327.6h6M510.3 328.3V332.5m-3 0h6M507.3 328.3h6M510.8 329.0V332.9m-3 0h6M507.8 329.0h6M511.3 328.3V333.5m-3 0h6M508.3 328.3h6M511.9 327.5V334.1m-3 0h6M508.9 327.5h6M512.4 328.9V334.0m-3 0h6M509.4 328.9h6M512.9 330.2V334.5m-3 0h6M509.9 330.2h6M513.4 329.9V334.7m-3 0h6M510.4 329.9h6M513.9 330.3V336.1m-3 0h6M510.9 330.3h6M514.4 331.6V335.1m-3 0h6M511.4 331.6h6M515.0 330.5V337.0m-3 0h6M512.0 330.5h6M515.5 331.8V338.1m-3 0h6M512.5 331.8h6M516.0 332.7V336.2m-3 0h6M513.0 332.7h6M516.5 331.7V339.1m-3 0h6M513.5 331.7h6M517.0 333.5V337.7m-3 0h6M514.0 333.5h6M517.5 333.5V339.1m-3 0h6M514.5 333.5h6M518.0 333.0V340.6m-3 0h6M515.0 333.0h6M518.5 334.7V339.0m-3 0h6M515.5 334.7h6M519.0 334.4V338.6m-3 0h6M516.0 334.4h6M519.5 334.2V339.0m-3 0h6M516.5 334.2h6M520.0 335.2V340.1m-3 0h6M517.0 335.2h6M520.4 334.6V340.6m-3 0h6M517.4 334.6h6M520.9 335.8V341.3m-3 0h6M517.9 335.8h6M521.4 336.8V342.4m-3 0h6M518.4 336.8h6M521.9 336.3V342.0m-3 0h6M518.9 336.3h6M522.4 336.4V342.4m-3 0h6M519.4 336.4h6M522.9 337.5V342.8m-3 0h6M519.9 337.5h6M523.3 336.9V343.7m-3 0h6M520.3 336.9h6M523.8 337.3V343.7m-3 0h6M520.8 337.3h6M524.3 338.9V344.1m-3 0h6M521.3 338.9h6M524.8 337.7V347.1m-3 0h6M521.8 337.7h6M525.2 339.5V344.5m-3 0h6M522.2 339.5h6M525.7 338.6V346.3m-3 0h6M522.7 338.6h6M526.2 340.0V345.7m-3 0h6M523.2 340.0h6M526.6 339.1V346.3m-3 0h6M523.6 339.1h6M527.1 339.0V346.5m-3 0h6M524.1 339.0h6M527.6 340.1V348.2m-3 0h6M524.6 340.1h6M528.0 339.5V348.7m-3 0h6M525.0 339.5h6M528.5 341.3V347.1m-3 0h6M525.5 341.3h6M528.9 338.8V351.4m-3 0h6M525.9 338.8h6M529.4 341.1V348.8m-3 0h6M526.4 341.1h6M529.8 343.0V348.9m-3 0h6M526.8 343.0h6M530.3 343.1V348.5m-3 0h6M527.3 343.1h6M530.7 340.2V351.9m-3 0h6M527.7 340.2h6M531.2 341.7V351.8m-3 0h6M528.2 341.7h6M531.6 344.0V351.3m-3 0h6M528.6 344.0h6M532.1 343.2V351.8m-3 0h6M529.1 343.2h6M532.5 342.7V352.5m-3 0h6M529.5 342.7h6M532.9 344.5V352.1m-3 0h6M529.9 344.5h6M533.4 345.7V352.6m-3 0h6M530.4 345.7h6M533.8 344.7V352.2m-3 0h6M530.8 344.7h6M534.3 345.9V354.9m-3 0h6M531.3 345.9h6M534.7 345.9V353.6m-3 0h6M531.7 345.9h6M535.1 347.3V353.3m-3 0h6M532.1 347.3h6M535.6 346.9V356.1m-3 0h6M532.6 346.9h6M536.0 347.6V353.2m-3 0h6M533.0 347.6h6M536.4 347.9V354.7m-3 0h6M533.4 347.9h6M536.8 347.6V357.9m-3 0h6M533.8 347.6h6M537.3 347.8V356.2m-3 0h6M534.3 347.8h6M537.7 348.7V357.2m-3 0h6M534.7 348.7h6M538.1 350.0V358.4m-3 0h6M535.1 350.0h6M538.5 348.9V359.1m-3 0h6M535.5 348.9h6M539.0 349.5V357.8m-3 0h6M536.0 349.5h6M539.4 350.9V356.5m-3 0h6M536.4 350.9h6M539.8 350.1V358.9m-3 0h6M536.8 350.1h6M540.2 352.5V357.0m-3 0h6M537.2 352.5h6M540.6 352.1V357.7m-3 0h6M537.6 352.1h6M541.0 350.1V362.1m-3 0h6M538.0 350.1h6M541.4 350.1V360.9m-3 0h6M538.4 350.1h6M541.8 352.3V360.3m-3 0h6M538.8 352.3h6M542.3 352.3V361.0m-3 0h6M539.3 352.3h6M542.7 352.3V361.4m-3 0h6M539.7 352.3h6M543.1 352.9V363.9m-3 0h6M540.1 352.9h6M543.5 354.5V362.2m-3 0h6M540.5 354.5h6M543.9 353.4V361.0m-3 0h6M540.9 353.4h6M544.3 354.4V362.4m-3 0h6M541.3 354.4h6M544.7 354.5V364.0m-3 0h6M541.7 354.5h6M545.1 354.3V364.2m-3 0h6M542.1 354.3h6M545.5 355.7V364.4m-3 0h6M542.5 355.7h6M545.9 354.5V365.6m-3 0h6M542.9 354.5h6M546.3 357.0V364.7m-3 0h6M543.3 357.0h6M546.7 355.9V365.4m-3 0h6M543.7 355.9h6M547.0 358.1V366.5m-3 0h6M544.0 358.1h6M547.4 356.6V364.6m-3 0h6M544.4 356.6h6M547.8 356.2V369.0m-3 0h6M544.8 356.2h6M548.2 358.8V368.1m-3 0h6M545.2 358.8h6M548.6 358.7V366.8m-3 0h6M545.6 358.7h6M549.0 358.3V368.5m-3 0h6M546.0 358.3h6M549.4 359.1V367.4m-3 0h6M546.4 359.1h6M549.8 358.9V370.6m-3 0h6M546.8 358.9h6M550.1 357.8V370.2m-3 0h6M547.1 357.8h6M550.5 357.0V369.9m-3 0h6M547.5 357.0h6M550.9 361.5V370.0m-3 0h6M547.9 361.5h6M551.3 359.8V370.1m-3 0h6M548.3 359.8h6M551.7 358.4V374.2m-3 0h6M548.7 358.4h6M552.0 360.6V370.9m-3 0h6M549.0 360.6h6M552.4 361.0V375.2m-3 0h6M549.4 361.0h6M552.8 360.4V375.5m-3 0h6M549.8 360.4h6M553.1 362.3V370.6m-3 0h6M550.1 362.3h6M553.5 360.5V374.9m-3 0h6M550.5 360.5h6M553.9 360.0V373.2m-3 0h6M550.9 360.0h6M554.3 362.0V375.7m-3 0h6M551.3 362.0h6M554.6 360.6V376.9m-3 0h6M551.6 360.6h6M555.0 361.1V373.8m-3 0h6M552.0 361.1h6M555.4 363.9V375.7m-3 0h6M552.4 363.9h6M555.7 363.7V377.1m-3 0h6M552.7 363.7h6M556.1 364.2V375.3m-3 0h6M553.1 364.2h6M556.5 363.7V376.9m-3 0h6M553.5 363.7h6M556.8 365.5V373.4m-3 0h6M553.8 365.5h6M557.2 362.5V380.0m-3 0h6M554.2 362.5h6M557.5 366.3V377.2m-3 0h6M554.5 366.3h6M557.9 364.5V378.4m-3 0h6M554.9 364.5h6M558.2 363.7V377.1m-3 0h6M555.2 363.7h6M558.6 364.6V377.5m-3 0h6M555.6 364.6h6M559.0 367.9V380.9m-3 0h6M556.0 367.9h6M559.3 366.5V379.5m-3 0h6M556.3 366.5h6M559.7 369.1V378.3m-3 0h6M556.7 369.1h6M560.0 367.0V378.6m-3 0h6M557.0 367.0h6M560.4 365.9V382.8m-3 0h6M557.4 365.9h6M560.7 367.0V377.7m-3 0h6M557.7 367.0h6M561.1 368.0V378.7m-3 0h6M558.1 368.0h6M561.4 364.3V385.4m-3 0h6M558.4 364.3h6M561.8 366.6V384.1m-3 0h6M558.8 366.6h6M562.1 366.6V385.7m-3 0h6M559.1 366.6h6M562.5 368.5V382.3m-3 0h6M559.5 368.5h6M562.8 367.5V382.3m-3 0h6M559.8 367.5h6M563.1 367.9V384.4m-3 0h6M560.1 367.9h6M563.5 369.3V385.3m-3 0h6M560.5 369.3h6M563.8 368.7V382.7m-3 0h6M560.8 368.7h6M564.2 371.5V382.2m-3 0h6M561.2 371.5h6M564.5 371.3V383.8m-3 0h6M561.5 371.3h6M564.8 373.1V383.9m-3 0h6M561.8 373.1h6M565.2 369.3V390.0m-3 0h6M562.2 369.3h6M565.5 372.3V386.0m-3 0h6M562.5 372.3h6M565.8 373.7V388.2m-3 0h6M562.8 373.7h6M566.2 370.1V386.3m-3 0h6M563.2 370.1h6M566.5 371.2V386.6m-3 0h6M563.5 371.2h6M566.8 371.6V388.9m-3 0h6M563.8 371.6h6M567.2 371.9V385.6m-3 0h6M564.2 371.9h6M567.5 373.8V385.2m-3 0h6M564.5 373.8h6M567.8 369.7V392.8m-3 0h6M564.8 369.7h6M568.2 376.1V389.9m-3 0h6M565.2 376.1h6M568.5 374.1V388.7m-3 0h6M565.5 374.1h6M568.8 373.8V387.6m-3 0h6M565.8 373.8h6M569.1 372.5V387.1m-3 0h6M566.1 372.5h6M569.5 371.9V388.5m-3 0h6M566.5 371.9h6M569.8 371.3V390.9m-3 0h6M566.8 371.3h6M570.1 377.1V390.6m-3 0h6M567.1 377.1h6M570.4 376.5V394.6m-3 0h6M567.4 376.5h6M570.8 374.9V389.8m-3 0h6M567.8 374.9h6M571.1 373.0V395.4m-3 0h6M568.1 373.0h6M571.4 375.5V389.0m-3 0h6M568.4 375.5h6M571.7 375.3V393.3m-3 0h6M568.7 375.3h6M572.0 374.2V394.9m-3 0h6M569.0 374.2h6M572.4 379.4V392.9m-3 0h6M569.4 379.4h6M572.7 375.2V393.7m-3 0h6M569.7 375.2h6M573.0 376.5V395.3m-3 0h6M570.0 376.5h6M573.3 376.9V392.5m-3 0h6M570.3 376.9h6M573.6 376.2V394.0m-3 0h6M570.6 376.2h6M573.9 375.2V398.5m-3 0h6M570.9 375.2h6M574.3 376.1V396.0m-3 0h6M571.3 376.1h6M574.6 377.7V395.2m-3 0h6M571.6 377.7h6M574.9 376.5V395.0m-3 0h6M571.9 376.5h6M575.2 376.0V397.4m-3 0h6M572.2 376.0h6M575.5 376.2V402.0m-3 0h6M572.5 376.2h6M575.8 377.3V400.8m-3 0h6M572.8 377.3h6M576.1 374.4V397.8m-3 0h6M573.1 374.4h6M576.4 375.5V403.9m-3 0h6M573.4 375.5h6M576.7 379.0V393.7m-3 0h6M573.7 379.0h6M577.0 379.9V395.1m-3 0h6M574.0 379.9h6M577.3 382.4V395.3m-3 0h6M574.3 382.4h6M577.6 378.4V403.5m-3 0h6M574.6 378.4h6M577.9 381.8V394.9m-3 0h6M574.9 381.8h6M578.2 378.7V399.9m-3 0h6M575.2 378.7h6M578.5 377.0V402.4m-3 0h6M575.5 377.0h6M578.8 383.4V399.5m-3 0h6M575.8 383.4h6M579.1 381.4V400.5m-3 0h6M576.1 381.4h6M579.4 380.2V401.2m-3 0h6M576.4 380.2h6M579.7 376.2V402.4m-3 0h6M576.7 376.2h6M580.0 385.2V401.6m-3 0h6M577.0 385.2h6M580.3 378.9V403.3m-3 0h6M577.3 378.9h6M580.6 379.8V406.6m-3 0h6M577.6 379.8h6M580.9 379.4V403.4m-3 0h6M577.9 379.4h6M581.2 381.0V405.3m-3 0h6M578.2 381.0h6M581.5 377.7V408.9m-3 0h6M578.5 377.7h6M581.8 378.0V403.1m-3 0h6M578.8 378.0h6M582.1 380.4V404.4m-3 0h6M579.1 380.4h6M582.4 380.9V403.6m-3 0h6M579.4 380.9h6M582.7 379.3V407.7m-3 0h6M579.7 379.3h6M583.0 383.0V406.4m-3 0h6M580.0 383.0h6M583.3 379.3V408.2m-3 0h6M580.3 379.3h6M583.6 381.7V407.6m-3 0h6M580.6 381.7h6M583.9 380.7V413.7m-3 0h6M580.9 380.7h6M584.1 383.2V405.0m-3 0h6M581.1 383.2h6M584.4 382.1V408.6m-3 0h6M581.4 382.1h6M584.7 380.0V408.5m-3 0h6M581.7 380.0h6M585.0 381.3V410.5m-3 0h6M582.0 381.3h6M585.3 380.7V415.5m-3 0h6M582.3 380.7h6M585.6 379.1V408.7m-3 0h6M582.6 379.1h6M585.9 378.8V412.5m-3 0h6M582.9 378.8h6M586.1 375.9V419.9m-3 0h6M583.1 375.9h6M586.4 379.8V413.6m-3 0h6M583.4 379.8h6M586.7 384.8V407.2m-3 0h6M583.7 384.8h6M587.0 386.0V407.0m-3 0h6M584.0 386.0h6M587.3 381.9V415.5m-3 0h6M584.3 381.9h6M587.5 382.0V408.8m-3 0h6M584.5 382.0h6M587.8 382.2V413.6m-3 0h6M584.8 382.2h6M588.1 386.2V414.8m-3 0h6M585.1 386.2h6M588.4 380.3V421.1m-3 0h6M585.4 380.3h6M588.7 383.3V423.5m-3 0h6M585.7 383.3h6M588.9 385.2V409.1m-3 0h6M585.9 385.2h6M589.2 385.1V418.1m-3 0h6M586.2 385.1h6M589.5 386.5V415.8m-3 0h6M586.5 386.5h6M589.8 385.9V409.6m-3 0h6M586.8 385.9h6M590.0 382.3V419.5m-3 0h6M587.0 382.3h6M590.3 387.3V418.6m-3 0h6M587.3 387.3h6M590.6 381.4V417.6m-3 0h6M587.6 381.4h6M590.9 374.4V437.5m-3 0h6M587.9 374.4h6M591.1 383.7V429.8m-3 0h6M588.1 383.7h6M591.4 378.2V422.2m-3 0h6M588.4 378.2h6M591.7 386.3V417.3m-3 0h6M588.7 386.3h6M591.9 387.5V413.9m-3 0h6M588.9 387.5h6M592.2 381.5V428.8m-3 0h6M589.2 381.5h6M592.5 387.8V420.6m-3 0h6M589.5 387.8h6M592.7 381.7V417.6m-3 0h6M589.7 381.7h6M593.0 384.2V417.1m-3 0h6M590.0 384.2h6M593.3 385.6V422.9m-3 0h6M590.3 385.6h6M593.5 378.4V450.5m-3 0h6M590.5 378.4h6M593.8 388.4V422.8m-3 0h6M590.8 388.4h6M594.1 385.8V421.0m-3 0h6M591.1 385.8h6M594.3 382.2V422.0m-3 0h6M591.3 382.2h6M594.6 387.6V428.7m-3 0h6M591.6 387.6h6M594.9 388.1V417.5m-3 0h6M591.9 388.1h6M595.1 388.1V414.3m-3 0h6M592.1 388.1h6M595.4 383.9V418.4m-3 0h6M592.4 383.9h6M595.7 382.5V420.6m-3 0h6M592.7 382.5h6M595.9 387.5V421.2m-3 0h6M592.9 387.5h6M596.2 388.7V421.0m-3 0h6M593.2 388.7h6M596.4 386.0V419.2m-3 0h6M593.4 386.0h6M596.7 386.6V424.6m-3 0h6M593.7 386.6h6M597.0 385.8V427.0m-3 0h6M594.0 385.8h6M597.2 386.3V415.5m-3 0h6M594.2 386.3h6M597.5 382.8V420.7m-3 0h6M594.5 382.8h6M597.7 383.4V431.5m-3 0h6M594.7 383.4h6M598.0 385.7V428.7m-3 0h6M595.0 385.7h6M598.2 386.9V419.3m-3 0h6M595.2 386.9h6M598.5 390.3V431.8m-3 0h6M595.5 390.3h6M598.8 385.1V430.8m-3 0h6M595.8 385.1h6M599.0 385.3V442.9m-3 0h6M596.0 385.3h6M599.3 385.2V417.0m-3 0h6M596.3 385.2h6M599.5 381.6V439.2m-3 0h6M596.5 381.6h6M599.8 385.9V428.7m-3 0h6M596.8 385.9h6M600.0 384.9V436.5m-3 0h6M597.0 384.9h6M600.3 387.7V447.9m-3 0h6M597.3 387.7h6M600.5 385.7V425.7m-3 0h6M597.5 385.7h6M600.8 383.6V424.7m-3 0h6M597.8 383.6h6M601.0 387.1V436.9m-3 0h6M598.0 387.1h6M601.3 381.4V446.0m-3 0h6M598.3 381.4h6M601.5 384.8V430.4m-3 0h6M598.5 384.8h6M601.8 392.4V429.6m-3 0h6M598.8 392.4h6M602.0 384.7V429.6m-3 0h6M599.0 384.7h6M602.3 380.8V442.3m-3 0h6M599.3 380.8h6M602.5 381.0V463.6m-3 0h6M599.5 381.0h6M602.8 386.5V435.4m-3 0h6M599.8 386.5h6M603.0 384.0V436.0m-3 0h6M600.0 384.0h6M603.3 389.4V444.3m-3 0h6M600.3 389.4h6M603.5 385.1V441.5m-3 0h6M600.5 385.1h6M603.7 385.0V430.8m-3 0h6M600.7 385.0h6M604.0 389.3V442.3m-3 0h6M601.0 389.3h6M604.2 381.9V447.5m-3 0h6M601.2 381.9h6M604.5 385.6V449.8m-3 0h6M601.5 385.6h6M604.7 389.8V453.3m-3 0h6M601.7 389.8h6M605.0 387.9V435.7m-3 0h6M602.0 387.9h6M605.2 388.9V443.8m-3 0h6M602.2 388.9h6M605.4 386.0V439.2m-3 0h6M602.4 386.0h6M605.7 384.4V491.2m-3 0h6M602.7 384.4h6M605.9 377.8V517.6m-3 0h6M602.9 377.8h6M606.2 385.5V464.2m-3 0h6M603.2 385.5h6M606.4 379.7V519.5m-3 0h6M603.4 379.7h6M606.6 387.0V451.8m-3 0h6M603.6 387.0h6M606.9 386.2V452.2m-3 0h6M603.9 386.2h6M607.1 385.3V435.0m-3 0h6M604.1 385.3h6M607.4 383.1V466.2m-3 0h6M604.4 383.1h6M607.6 386.8V452.3m-3 0h6M604.6 386.8h6M607.8 387.5V469.0m-3 0h6M604.8 387.5h6M608.1 379.8V481.1m-3 0h6M605.1 379.8h6M608.3 383.1V457.4m-3 0h6M605.3 383.1h6M608.5 388.5V445.0m-3 0h6M605.5 388.5h6M608.8 383.6V467.2m-3 0h6M605.8 383.6h6M609.0 387.2V471.4m-3 0h6M606.0 387.2h6M609.2 386.7V477.0m-3 0h6M606.2 386.7h6M609.5 384.2V524.0m-3 0h6M606.5 384.2h6M609.7 383.7V468.1m-3 0h6M606.7 383.7h6M609.9 383.9V468.2m-3 0h6M606.9 383.9h6M610.2 384.3V524.1m-3 0h6M607.2 384.3h6M610.4 380.4V520.2m-3 0h6M607.4 380.4h6M610.6 381.9V480.7m-3 0h6M607.6 381.9h6M610.9 386.1V456.3m-3 0h6M607.9 386.1h6M611.1 382.3V469.1m-3 0h6M608.1 382.3h6M611.3 383.6V523.4m-3 0h6M608.3 383.6h6M611.6 383.2V523.0m-3 0h6M608.6 383.2h6M611.8 381.7V521.5m-3 0h6M608.8 381.7h6M612.0 384.2V491.9m-3 0h6M609.0 384.2h6M612.2 381.0V520.8m-3 0h6M609.2 381.0h6M612.5 388.0V495.1m-3 0h6M609.5 388.0h6"/><polyline fill="none" stroke="none" points="176.5,147.6 184.7,151.9 192.3,156.5 199.5,161.4 206.3,165.3 212.7,169.1 218.8,172.2 224.6,175.8 230.2,178.7 235.5,182.8 240.5,184.4 245.4,187.8 250.1,190.2 254.6,193.0 258.9,195.6 263.1,197.6 267.2,199.8 271.1,202.3 274.9,204.4 278.5,206.1 282.1,208.7 285.6,210.8 289.0,212.0 292.2,214.1 295.4,216.3 298.5,217.6 301.6,219.1 304.5,220.9 307.4,222.5 310.2,223.5 313.0,224.7 315.7,226.5 318.3,228.0 320.9,229.0 323.4,230.2 325.9,231.8 328.3,232.7 330.7,233.8 333.0,235.4 335.3,236.7 337.5,237.5 339.8,238.6 341.9,239.5 344.0,241.3 346.1,242.1 348.2,243.2 350.2,244.5 352.2,244.9 354.1,245.7 356.1,247.0 357.9,247.3 359.8,248.4 361.6,249.3 363.4,250.3 365.2,251.0 367.0,252.5 368.7,252.8 370.4,253.6 372.1,255.1 373.7,255.3 375.4,256.2 377.0,256.7 378.6,257.8 380.2,258.4 381.7,259.1 383.2,260.2 384.8,260.5 386.2,261.4 387.7,261.9 389.2,262.9 390.6,263.1 392.0,263.9 393.4,264.8 394.8,265.3 396.2,265.8 397.6,266.3 398.9,267.8 400.2,267.8 401.6,268.6 402.9,269.3 404.1,270.2 405.4,270.2 406.7,271.5 407.9,271.6 409.2,272.0 410.4,273.4 411.6,273.6 412.8,274.5 414.0,274.6 415.1,274.9 416.3,275.4 417.5,276.9 418.6,277.1 419.7,277.3 420.8,277.7 422.0,278.5 423.0,279.4 424.1,279.6 425.2,280.3 426.3,280.8 427.3,281.5 428.4,281.7 429.4,282.3 430.5,282.9 431.5,283.4 432.5,284.2 433.5,284.5 434.5,284.6 435.5,285.5 436.5,286.3 437.5,286.1 438.4,286.8 439.4,287.0 440.3,287.9 441.3,288.5 442.2,289.2 443.2,289.0 444.1,289.4 445.0,290.5 445.9,290.9 446.8,291.1 447.7,291.9 448.6,292.2 449.5,292.7 450.3,293.1 451.2,293.3 452.1,294.0 452.9,294.2 453.8,295.0 454.6,295.3 455.5,296.3 456.3,296.7 457.1,296.5 457.9,297.3 458.8,297.5 459.6,297.9 460.4,298.2 461.2,298.7 462.0,299.1 462.8,299.9 463.5,300.5 464.3,300.9 465.1,301.3 465.9,301.9 466.6,302.2 467.4,302.5 468.1,302.8 468.9,303.4 469.6,304.2 470.4,304.2 471.1,304.5 471.9,304.7 472.6,305.3 473.3,306.0 474.0,306.5 474.7,306.2 475.4,306.9 476.2,307.0 476.9,307.5 477.6,308.6 478.2,308.7 478.9,309.1 479.6,309.4 480.3,309.9 481.0,310.4 481.7,310.8 482.3,311.7 483.0,311.7 483.7,312.3 484.3,312.5 485.0,313.0 485.6,313.1 486.3,313.5 486.9,314.0 487.6,314.4 488.2,314.9 488.8,315.5 489.5,315.8 490.1,316.3 490.7,316.5 491.4,317.0 492.0,317.2 492.6,318.2 493.2,317.9 493.8,318.8 494.4,319.2 495.0,319.5 495.6,320.0 496.2,320.1 496.8,320.8 497.4,321.3 498.0,321.7 498.6,321.4 499.2,322.2 499.7,323.0 500.3,323.0 500.9,323.9 501.5,323.2 502.0,324.7 502.6,324.4 503.2,324.8 503.7,325.9 504.3,325.7 504.8,325.8 505.4,326.4 506.0,326.9 506.5,327.0 507.0,327.7 507.6,328.0 508.1,328.6 508.7,328.7 509.2,329.7 509.7,329.4 510.3,330.3 510.8,330.9 511.3,330.8 511.9,330.7 512.4,331.3 512.9,332.3 513.4,332.2 513.9,333.0 514.4,333.3 515.0,333.6 515.5,334.8 516.0,334.4 516.5,335.2 517.0,335.5 517.5,336.2 518.0,336.6 518.5,336.8 519.0,336.4 519.5,336.5 520.0,337.6 520.4,337.5 520.9,338.4 521.4,339.5 521.9,339.0 522.4,339.3 522.9,340.1 523.3,340.1 523.8,340.4 524.3,341.4 524.8,342.1 525.2,341.9 525.7,342.3 526.2,342.7 526.6,342.5 527.1,342.6 527.6,343.9 528.0,343.8 528.5,344.0 528.9,344.5 529.4,344.7 529.8,345.8 530.3,345.7 530.7,345.6 531.2,346.4 531.6,347.5 532.1,347.2 532.5,347.3 532.9,348.1 533.4,349.0 533.8,348.3 534.3,350.1 534.7,349.5 535.1,350.2 535.6,351.2 536.0,350.3 536.4,351.1 536.8,352.4 537.3,351.7 537.7,352.7 538.1,353.9 538.5,353.6 539.0,353.4 539.4,353.6 539.8,354.2 540.2,354.7 540.6,354.8 541.0,355.6 541.4,355.1 541.8,356.1 542.3,356.4 542.7,356.6 543.1,358.0 543.5,358.1 543.9,357.0 544.3,358.2 544.7,358.9 545.1,358.9 545.5,359.8 545.9,359.7 546.3,360.7 546.7,360.4 547.0,362.0 547.4,360.4 547.8,362.0 548.2,363.2 548.6,362.5 549.0,363.0 549.4,363.0 549.8,364.3 550.1,363.5 550.5,362.9 550.9,365.5 551.3,364.6 551.7,365.4 552.0,365.4 552.4,367.4 552.8,367.2 553.1,366.2 553.5,367.0 553.9,366.0 554.3,368.2 554.6,367.8 555.0,366.9 555.4,369.3 555.7,369.8 556.1,369.3 556.5,369.7 556.8,369.3 557.2,370.2 557.5,371.3 557.9,370.8 558.2,369.8 558.6,370.5 559.0,373.8 559.3,372.4 559.7,373.4 560.0,372.3 560.4,373.4 560.7,372.0 561.1,373.0 561.4,373.3 561.8,374.3 562.1,374.9 562.5,374.8 562.8,374.1 563.1,375.2 563.5,376.4 563.8,375.0 564.2,376.4 564.5,377.0 564.8,378.1 565.2,378.1 565.5,378.5 565.8,380.3 566.2,377.3 566.5,378.1 566.8,379.2 567.2,378.1 567.5,379.0 567.8,379.4 568.2,382.4 568.5,380.7 568.8,380.0 569.1,379.1 569.5,379.2 569.8,379.8 570.1,383.2 570.4,384.4 570.8,381.6 571.1,382.5 571.4,381.6 571.7,383.2 572.0,383.0 572.4,385.6 572.7,383.3 573.0,384.7 573.3,383.9 573.6,384.0 573.9,385.0 574.3,384.7 574.6,385.4 574.9,384.6 575.2,385.1 575.5,386.8 575.8,387.1 576.1,384.2 576.4,386.9 576.7,385.6 577.0,386.7 577.3,388.3 577.6,388.8 577.9,387.8 578.2,387.8 578.5,387.5 578.8,390.5 579.1,389.7 579.4,389.2 579.7,386.9 580.0,392.5 580.3,389.0 580.6,390.8 580.9,389.5 581.2,391.1 581.5,390.0 581.8,388.4 582.1,390.4 582.4,390.5 582.7,390.8 583.0,392.8 583.3,390.9 583.6,392.3 583.9,393.5 584.1,392.4 584.4,392.9 584.7,391.5 585.0,393.0 585.3,394.1 585.6,390.9 585.9,391.9 586.1,391.6 586.4,392.8 586.7,394.3 587.0,395.0 587.3,394.9 587.5,393.0 587.8,394.6 588.1,397.8 588.4,395.2 588.7,398.0 588.9,395.2 589.2,398.0 589.5,398.3 589.8,395.8 590.0,396.3 590.3,399.6 590.6,395.1 590.9,393.6 591.1,399.8 591.4,393.9 591.7,398.5 591.9,398.3 592.2,397.8 592.5,400.6 592.7,395.3 593.0,397.0 593.3,399.6 593.5,398.8 593.8,401.6 594.1,399.3 594.3,396.8 594.6,402.6 594.9,399.9 595.1,398.8 595.4,397.2 595.7,396.7 595.9,400.5 596.2,401.3 596.4,398.9 596.7,400.8 597.0,400.8 597.2,398.0 597.5,396.9 597.7,400.0 598.0,401.1 598.2,399.6 598.5,405.4 598.8,401.1 599.0,403.7 599.3,397.7 599.5,399.9 599.8,401.3 600.0,402.2 600.3,406.5 600.5,400.4 600.8,398.5 601.0,404.0 601.3,400.8 601.5,400.8 601.8,406.4 602.0,400.6 602.3,399.8 602.5,402.4 602.8,403.2 603.0,401.4 603.3,407.2 603.5,403.2 603.7,401.1 604.0,406.8 604.2,401.4 604.5,404.9 604.7,409.0 605.0,404.4 605.2,406.7 605.4,403.5 605.7,407.5 605.9,402.0 606.2,406.6 606.4,403.9 606.6,406.4 606.9,405.8 607.1,402.2 607.4,404.7 607.6,406.3 607.8,408.8 608.1,402.6 608.3,403.8 608.5,406.6 608.8,405.2 609.0,408.8 609.2,408.8 609.5,408.4 609.7,405.3 609.9,405.5 610.2,408.5 610.4,404.6 610.6,404.6 610.9,406.3 611.1,404.1 611.3,407.7 611.6,407.3 611.8,405.8 612.0,407.3 612.2,405.2 612.5,411.1" marker-start="url(#ablue)" marker-mid="url(#ablue)" marker-end="url(#ablue)"/><path fill="none" stroke="#00ff00" stroke-width="1.0" d="M176.5 134.7V144.7m-3 0h6M173.5 134.7h6M184.7 141.7V149.1m-3 0h6M181.7 141.7h6M192.3 147.1V152.6m-3 0h6M189.3 147.1h6M199.5 151.3V158.3m-3 0h6M196.5 151.3h6M206.3 155.7V160.8m-3 0h6M203.3 155.7h6M212.7 159.1V164.8m-3 0h6M209.7 159.1h6M218.8 163.9V167.5m-3 0h6M215.8 163.9h6M224.6 167.4V171.2m-3 0h6M221.6 167.4h6M230.2 171.5V175.4m-3 0h6M227.2 171.5h6M235.5 175.2V177.4M240.5 178.0V180.4M245.4 180.6V184.0m-3 0h6M242.4 180.6h6M250.1 182.8V185.8M254.6 186.2V188.2M258.9 188.6V191.0M263.1 190.9V193.1M267.2 193.5V196.0M271.1 195.1V198.9m-3 0h6M268.1 195.1h6M274.9 197.8V200.3M278.5 198.6V202.7m-3 0h6M275.5 198.6h6M282.1 201.3V203.9M285.6 203.2V205.6M289.0 204.2V208.0m-3 0h6M286.0 204.2h6M292.2 207.1V210.4m-3 0h6M289.2 207.1h6M295.4 208.3V212.0m-3 0h6M292.4 208.3h6M298.5 209.6V213.6m-3 0h6M295.5 209.6h6M301.6 212.0V215.4m-3 0h6M298.6 212.0h6M304.5 213.2V216.7m-3 0h6M301.5 213.2h6M307.4 214.9V216.9M310.2 216.2V218.5M313.0 217.3V220.3m-3 0h6M310.0 217.3h6M315.7 219.1V222.0M318.3 220.4V223.6m-3 0h6M315.3 220.4h6M320.9 221.6V224.1M323.4 222.9V226.4m-3 0h6M320.4 222.9h6M325.9 223.5V227.7m-3 0h6M322.9 223.5h6M328.3 224.9V228.1m-3 0h6M325.3 224.9h6M330.7 226.6V229.9m-3 0h6M327.7 226.6h6M333.0 227.9V231.0m-3 0h6M330.0 227.9h6M335.3 228.7V232.1m-3 0h6M332.3 228.7h6M337.5 229.8V232.8M339.8 231.1V233.7M341.9 232.1V235.1M344.0 233.0V236.0M346.1 235.1V237.2M348.2 235.4V238.4m-3 0h6M345.2 235.4h6M350.2 236.1V239.0M352.2 237.3V240.4m-3 0h6M349.2 237.3h6M354.1 238.6V241.2M356.1 239.2V242.4m-3 0h6M353.1 239.2h6M357.9 239.9V243.2m-3 0h6M354.9 239.9h6M359.8 240.9V243.5M361.6 241.8V244.9m-3 0h6M358.6 241.8h6M363.4 242.1V245.5m-3 0h6M360.4 242.1h6M365.2 242.5V245.9m-3 0h6M362.2 242.5h6M367.0 244.3V246.8M368.7 244.7V247.2M370.4 245.5V248.5M372.1 247.0V249.4M373.7 246.3V251.2m-3 0h6M370.7 246.3h6M375.4 248.4V251.0M377.0 248.7V251.2M378.6 249.5V252.9m-3 0h6M375.6 249.5h6M380.2 249.9V252.6M381.7 251.2V253.1M383.2 252.1V255.0M384.8 252.3V254.8M386.2 252.7V255.4M387.7 254.2V256.4M389.2 254.3V256.8M390.6 255.5V258.4M392.0 255.6V258.6m-3 0h6M389.0 255.6h6M393.4 257.0V259.5M394.8 257.0V259.7M396.2 258.3V260.9M397.6 258.7V261.8m-3 0h6M394.6 258.7h6M398.9 258.8V261.8M400.2 259.4V261.8M401.6 260.0V263.6m-3 0h6M398.6 260.0h6M402.9 260.7V263.4M404.1 261.2V264.5m-3 0h6M401.1 261.2h6M405.4 262.2V264.9M406.7 262.3V265.6m-3 0h6M403.7 262.3h6M407.9 262.7V265.8m-3 0h6M404.9 262.7h6M409.2 264.0V267.2m-3 0h6M406.2 264.0h6M410.4 264.0V267.5m-3 0h6M407.4 264.0h6M411.6 264.6V268.1m-3 0h6M408.6 264.6h6M412.8 265.8V269.0m-3 0h6M409.8 265.8h6M414.0 265.6V268.8m-3 0h6M411.0 265.6h6M415.1 266.5V269.0M416.3 267.4V270.6m-3 0h6M413.3 267.4h6M417.5 267.8V269.9M418.6 268.8V270.9M419.7 268.9V272.0m-3 0h6M416.7 268.9h6M420.8 269.0V272.2m-3 0h6M417.8 269.0h6M422.0 269.3V273.7m-3 0h6M419.0 269.3h6M423.0 270.1V273.9m-3 0h6M420.0 270.1h6M424.1 270.2V274.3m-3 0h6M421.1 270.2h6M425.2 271.3V274.4m-3 0h6M422.2 271.3h6M426.3 271.7V275.3m-3 0h6M423.3 271.7h6M427.3 272.5V276.7m-3 0h6M424.3 272.5h6M428.4 273.3V277.0m-3 0h6M425.4 273.3h6M429.4 273.2V276.8m-3 0h6M426.4 273.2h6M430.5 274.3V277.8m-3 0h6M427.5 274.3h6M431.5 274.9V277.7M432.5 275.7V278.5M433.5 276.1V278.7M434.5 276.3V280.0m-3 0h6M431.5 276.3h6M435.5 276.3V279.6m-3 0h6M432.5 276.3h6M436.5 277.6V280.6m-3 0h6M433.5 277.6h6M437.5 277.6V281.3m-3 0h6M434.5 277.6h6M438.4 278.4V281.5m-3 0h6M435.4 278.4h6M439.4 278.0V282.2m-3 0h6M436.4 278.0h6M440.3 278.7V283.8m-3 0h6M437.3 278.7h6M441.3 279.5V283.3m-3 0h6M438.3 279.5h6M442.2 280.4V283.4m-3 0h6M439.2 280.4h6M443.2 280.9V283.5M444.1 280.1V285.4m-3 0h6M441.1 280.1h6M445.0 281.5V285.4m-3 0h6M442.0 281.5h6M445.9 282.3V285.2M446.8 282.2V286.6m-3 0h6M443.8 282.2h6M447.7 283.3V285.9M448.6 283.6V286.9m-3 0h6M445.6 283.6h6M449.5 284.1V287.6m-3 0h6M446.5 284.1h6M450.3 284.5V287.9m-3 0h6M447.3 284.5h6M451.2 285.1V288.0M452.1 283.8V289.7m-3 0h6M449.1 283.8h6M452.9 286.0V289.4m-3 0h6M449.9 286.0h6M453.8 286.0V290.0m-3 0h6M450.8 286.0h6M454.6 286.3V290.0m-3 0h6M451.6 286.3h6M455.5 288.1V290.8M456.3 288.2V291.6m-3 0h6M453.3 288.2h6M457.1 288.2V292.2m-3 0h6M454.1 288.2h6M457.9 288.1V292.7m-3 0h6M454.9 288.1h6M458.8 288.6V292.2m-3 0h6M455.8 288.6h6M459.6 289.1V293.2m-3 0h6M456.6 289.1h6M460.4 289.6V293.2m-3 0h6M457.4 289.6h6M461.2 290.1V294.4m-3 0h6M458.2 290.1h6M462.0 291.9V294.3M462.8 291.4V295.8m-3 0h6M459.8 291.4h6M463.5 291.5V295.0m-3 0h6M460.5 291.5h6M464.3 292.1V295.7m-3 0h6M461.3 292.1h6M465.1 293.6V295.8M465.9 292.9V296.1m-3 0h6M462.9 292.9h6M466.6 293.4V298.0m-3 0h6M463.6 293.4h6M467.4 292.3V298.7m-3 0h6M464.4 292.3h6M468.1 294.0V297.5m-3 0h6M465.1 294.0h6M468.9 295.0V298.6m-3 0h6M465.9 295.0h6M469.6 295.1V299.6m-3 0h6M466.6 295.1h6M470.4 295.1V299.4m-3 0h6M467.4 295.1h6M471.1 296.3V300.0m-3 0h6M468.1 296.3h6M471.9 296.1V300.1m-3 0h6M468.9 296.1h6M472.6 297.2V301.0m-3 0h6M469.6 297.2h6M473.3 296.6V301.3m-3 0h6M470.3 296.6h6M474.0 297.2V302.1m-3 0h6M471.0 297.2h6M474.7 297.2V303.2m-3 0h6M471.7 297.2h6M475.4 298.2V303.3m-3 0h6M472.4 298.2h6M476.2 298.4V303.3m-3 0h6M473.2 298.4h6M476.9 299.7V304.1m-3 0h6M473.9 299.7h6M477.6 299.3V304.4m-3 0h6M474.6 299.3h6M478.2 300.5V304.0m-3 0h6M475.2 300.5h6M478.9 299.1V305.8m-3 0h6M475.9 299.1h6M479.6 301.1V305.7m-3 0h6M476.6 301.1h6M480.3 300.1V305.9m-3 0h6M477.3 300.1h6M481.0 302.0V305.8m-3 0h6M478.0 302.0h6M481.7 301.9V307.4m-3 0h6M478.7 301.9h6M482.3 301.9V306.7m-3 0h6M479.3 301.9h6M483.0 302.4V306.8m-3 0h6M480.0 302.4h6M483.7 303.6V307.5m-3 0h6M480.7 303.6h6M484.3 304.3V308.1m-3 0h6M481.3 304.3h6M485.0 303.2V309.7m-3 0h6M482.0 303.2h6M485.6 304.1V309.9m-3 0h6M482.6 304.1h6M486.3 304.9V309.6m-3 0h6M483.3 304.9h6M486.9 304.7V309.5m-3 0h6M483.9 304.7h6M487.6 305.8V309.9m-3 0h6M484.6 305.8h6M488.2 306.7V309.9m-3 0h6M485.2 306.7h6M488.8 307.0V310.3m-3 0h6M485.8 307.0h6M489.5 307.1V311.3m-3 0h6M486.5 307.1h6M490.1 307.1V311.7m-3 0h6M487.1 307.1h6M490.7 307.8V311.6m-3 0h6M487.7 307.8h6M491.4 307.8V313.4m-3 0h6M488.4 307.8h6M492.0 308.2V313.5m-3 0h6M489.0 308.2h6M492.6 308.2V313.2m-3 0h6M489.6 308.2h6M493.2 309.8V313.2m-3 0h6M490.2 309.8h6M493.8 309.8V314.5m-3 0h6M490.8 309.8h6M494.4 309.5V314.4m-3 0h6M491.4 309.5h6M495.0 310.9V314.8m-3 0h6M492.0 310.9h6M495.6 312.0V315.2m-3 0h6M492.6 312.0h6M496.2 309.9V317.3m-3 0h6M493.2 309.9h6M496.8 311.6V317.3m-3 0h6M493.8 311.6h6M497.4 312.3V317.0m-3 0h6M494.4 312.3h6M498.0 311.4V318.4m-3 0h6M495.0 311.4h6M498.6 312.2V318.6m-3 0h6M495.6 312.2h6M499.2 313.2V318.8m-3 0h6M496.2 313.2h6M499.7 313.6V319.0m-3 0h6M496.7 313.6h6M500.3 313.7V319.8m-3 0h6M497.3 313.7h6M500.9 313.1V320.1m-3 0h6M497.9 313.1h6M501.5 314.9V320.2m-3 0h6M498.5 314.9h6M502.0 315.4V320.4m-3 0h6M499.0 315.4h6M502.6 314.5V320.5m-3 0h6M499.6 314.5h6M503.2 317.1V320.2m-3 0h6M500.2 317.1h6M503.7 315.6V321.1m-3 0h6M500.7 315.6h6M504.3 316.3V321.3m-3 0h6M501.3 316.3h6M504.8 317.0V322.5m-3 0h6M501.8 317.0h6M505.4 318.0V323.3m-3 0h6M502.4 318.0h6M506.0 317.4V323.3m-3 0h6M503.0 317.4h6M506.5 317.8V323.5m-3 0h6M503.5 317.8h6M507.0 318.1V323.8m-3 0h6M504.0 318.1h6M507.6 318.9V324.4m-3 0h6M504.6 318.9h6M508.1 318.5V324.7m-3 0h6M505.1 318.5h6M508.7 319.3V324.5m-3 0h6M505.7 319.3h6M509.2 319.8V326.8m-3 0h6M506.2 319.8h6M509.7 320.6V324.7m-3 0h6M506.7 320.6h6M510.3 320.5V326.6m-3 0h6M507.3 320.5h6M510.8 321.1V327.5m-3 0h6M507.8 321.1h6M511.3 322.2V326.8m-3 0h6M508.3 322.2h6M511.9 321.4V326.8m-3 0h6M508.9 321.4h6M512.4 321.0V328.8m-3 0h6M509.4 321.0h6M512.9 323.4V329.2m-3 0h6M509.9 323.4h6M513.4 323.4V328.4m-3 0h6M510.4 323.4h6M513.9 324.7V328.0m-3 0h6M510.9 324.7h6M514.4 323.6V330.1m-3 0h6M511.4 323.6h6M515.0 324.2V330.5m-3 0h6M512.0 324.2h6M515.5 324.7V331.7m-3 0h6M512.5 324.7h6M516.0 323.0V332.4m-3 0h6M513.0 323.0h6M516.5 325.6V331.8m-3 0h6M513.5 325.6h6M517.0 325.6V332.1m-3 0h6M514.0 325.6h6M517.5 326.5V332.1m-3 0h6M514.5 326.5h6M518.0 326.6V332.9m-3 0h6M515.0 326.6h6M518.5 326.3V332.7m-3 0h6M515.5 326.3h6M519.0 326.3V333.8m-3 0h6M516.0 326.3h6M519.5 327.3V334.6m-3 0h6M516.5 327.3h6M520.0 328.5V334.2m-3 0h6M517.0 328.5h6M520.4 328.5V334.5m-3 0h6M517.4 328.5h6M520.9 327.0V335.8m-3 0h6M517.9 327.0h6M521.4 329.2V334.7m-3 0h6M518.4 329.2h6M521.9 328.5V336.3m-3 0h6M518.9 328.5h6M522.4 328.4V337.9m-3 0h6M519.4 328.4h6M522.9 329.5V337.3m-3 0h6M519.9 329.5h6M523.3 329.9V337.1m-3 0h6M520.3 329.9h6M523.8 330.5V339.6m-3 0h6M520.8 330.5h6M524.3 329.8V337.3m-3 0h6M521.3 329.8h6M524.8 331.6V338.6m-3 0h6M521.8 331.6h6M525.2 332.0V338.8m-3 0h6M522.2 332.0h6M525.7 330.4V339.4m-3 0h6M522.7 330.4h6M526.2 331.7V339.9m-3 0h6M523.2 331.7h6M526.6 331.4V341.3m-3 0h6M523.6 331.4h6M527.1 333.5V340.3m-3 0h6M524.1 333.5h6M527.6 334.3V341.2m-3 0h6M524.6 334.3h6M528.0 333.8V340.6m-3 0h6M525.0 333.8h6M528.5 333.1V341.0m-3 0h6M525.5 333.1h6M528.9 335.3V341.8m-3 0h6M525.9 335.3h6M529.4 333.2V342.3m-3 0h6M526.4 333.2h6M529.8 335.4V343.5m-3 0h6M526.8 335.4h6M530.3 336.4V342.6m-3 0h6M527.3 336.4h6M530.7 337.0V341.2m-3 0h6M527.7 337.0h6M531.2 337.1V342.5m-3 0h6M528.2 337.1h6M531.6 334.8V345.2m-3 0h6M528.6 334.8h6M532.1 337.2V344.9m-3 0h6M529.1 337.2h6M532.5 337.5V345.7m-3 0h6M529.5 337.5h6M532.9 338.8V346.1m-3 0h6M529.9 338.8h6M533.4 338.1V346.8m-3 0h6M530.4 338.1h6M533.8 339.8V345.3m-3 0h6M530.8 339.8h6M534.3 340.4V345.9m-3 0h6M531.3 340.4h6M534.7 339.5V345.4m-3 0h6M531.7 339.5h6M535.1 339.3V347.7m-3 0h6M532.1 339.3h6M535.6 339.9V349.5m-3 0h6M532.6 339.9h6M536.0 338.2V347.4m-3 0h6M533.0 338.2h6M536.4 340.6V348.8m-3 0h6M533.4 340.6h6M536.8 341.9V348.5m-3 0h6M533.8 341.9h6M537.3 339.1V349.2m-3 0h6M534.3 339.1h6M537.7 340.3V348.5m-3 0h6M534.7 340.3h6M538.1 342.0V350.6m-3 0h6M535.1 342.0h6M538.5 342.6V351.2m-3 0h6M535.5 342.6h6M539.0 342.9V350.9m-3 0h6M536.0 342.9h6M539.4 341.9V349.6m-3 0h6M536.4 341.9h6M539.8 343.1V351.1m-3 0h6M536.8 343.1h6M540.2 344.2V351.2m-3 0h6M537.2 344.2h6M540.6 342.9V352.4m-3 0h6M537.6 342.9h6M541.0 342.7V351.5m-3 0h6M538.0 342.7h6M541.4 343.8V355.1m-3 0h6M538.4 343.8h6M541.8 345.5V352.0m-3 0h6M538.8 345.5h6M542.3 344.2V356.1m-3 0h6M539.3 344.2h6M542.7 343.4V352.7m-3 0h6M539.7 343.4h6M543.1 343.8V353.0m-3 0h6M540.1 343.8h6M543.5 345.1V353.3m-3 0h6M540.5 345.1h6M543.9 346.2V354.4m-3 0h6M540.9 346.2h6M544.3 346.4V353.6m-3 0h6M541.3 346.4h6M544.7 346.7V358.5m-3 0h6M541.7 346.7h6M545.1 346.3V355.8m-3 0h6M542.1 346.3h6M545.5 347.0V358.6m-3 0h6M542.5 347.0h6M545.9 347.2V359.1m-3 0h6M542.9 347.2h6M546.3 348.2V357.3m-3 0h6M543.3 348.2h6M546.7 348.0V357.7m-3 0h6M543.7 348.0h6M547.0 347.6V357.2m-3 0h6M544.0 347.6h6M547.4 346.5V359.3m-3 0h6M544.4 346.5h6M547.8 348.0V358.8m-3 0h6M544.8 348.0h6M548.2 349.3V360.2m-3 0h6M545.2 349.3h6M548.6 347.7V360.0m-3 0h6M545.6 347.7h6M549.0 349.4V359.9m-3 0h6M546.0 349.4h6M549.4 346.2V362.6m-3 0h6M546.4 346.2h6M549.8 351.3V360.4m-3 0h6M546.8 351.3h6M550.1 350.4V364.5m-3 0h6M547.1 350.4h6M550.5 349.2V363.9m-3 0h6M547.5 349.2h6M550.9 350.1V359.0m-3 0h6M547.9 350.1h6M551.3 349.5V362.9m-3 0h6M548.3 349.5h6M551.7 351.0V363.0m-3 0h6M548.7 351.0h6M552.0 349.7V363.3m-3 0h6M549.0 349.7h6M552.4 352.3V361.3m-3 0h6M549.4 352.3h6M552.8 351.3V363.4m-3 0h6M549.8 351.3h6M553.1 353.6V363.1m-3 0h6M550.1 353.6h6M553.5 352.7V363.7m-3 0h6M550.5 352.7h6M553.9 350.9V366.8m-3 0h6M550.9 350.9h6M554.3 353.7V365.4m-3 0h6M551.3 353.7h6M554.6 356.2V363.9m-3 0h6M551.6 356.2h6M555.0 354.6V363.8m-3 0h6M552.0 354.6h6M555.4 353.9V363.6m-3 0h6M552.4 353.9h6M555.7 352.2V367.5m-3 0h6M552.7 352.2h6M556.1 354.5V365.3m-3 0h6M553.1 354.5h6M556.5 355.5V364.6m-3 0h6M553.5 355.5h6M556.8 351.8V367.7m-3 0h6M553.8 351.8h6M557.2 354.5V367.9m-3 0h6M554.2 354.5h6M557.5 353.8V367.7m-3 0h6M554.5 353.8h6M557.9 354.6V365.7m-3 0h6M554.9 354.6h6M558.2 353.9V371.5m-3 0h6M555.2 353.9h6M558.6 355.8V368.7m-3 0h6M555.6 355.8h6M559.0 357.0V365.9m-3 0h6M556.0 357.0h6M559.3 355.9V366.5m-3 0h6M556.3 355.9h6M559.7 357.3V368.7m-3 0h6M556.7 357.3h6M560.0 356.7V370.0m-3 0h6M557.0 356.7h6M560.4 356.1V372.3m-3 0h6M557.4 356.1h6M560.7 359.5V371.5m-3 0h6M557.7 359.5h6M561.1 357.1V369.5m-3 0h6M558.1 357.1h6M561.4 355.1V377.5m-3 0h6M558.4 355.1h6M561.8 360.0V374.5m-3 0h6M558.8 360.0h6M562.1 359.1V372.0m-3 0h6M559.1 359.1h6M562.5 360.6V375.2m-3 0h6M559.5 360.6h6M562.8 361.3V372.7m-3 0h6M559.8 361.3h6M563.1 358.3V374.8m-3 0h6M560.1 358.3h6M563.5 359.0V377.3m-3 0h6M560.5 359.0h6M563.8 358.9V372.2m-3 0h6M560.8 358.9h6M564.2 360.1V378.8m-3 0h6M561.2 360.1h6M564.5 359.9V374.3m-3 0h6M561.5 359.9h6M564.8 359.1V375.4m-3 0h6M561.8 359.1h6M565.2 359.5V372.8m-3 0h6M562.2 359.5h6M565.5 360.4V373.7m-3 0h6M562.5 360.4h6M565.8 362.2V373.8m-3 0h6M562.8 362.2h6M566.2 360.6V377.3m-3 0h6M563.2 360.6h6M566.5 361.6V376.8m-3 0h6M563.5 361.6h6M566.8 360.3V375.7m-3 0h6M563.8 360.3h6M567.2 363.8V376.8m-3 0h6M564.2 363.8h6M567.5 362.5V375.5m-3 0h6M564.5 362.5h6M567.8 362.9V377.6m-3 0h6M564.8 362.9h6M568.2 361.2V379.8m-3 0h6M565.2 361.2h6M568.5 362.3V380.4m-3 0h6M565.5 362.3h6M568.8 361.3V376.2m-3 0h6M565.8 361.3h6M569.1 363.3V381.6m-3 0h6M566.1 363.3h6M569.5 359.8V385.1m-3 0h6M566.5 359.8h6M569.8 362.6V380.6m-3 0h6M566.8 362.6h6M570.1 359.2V386.5m-3 0h6M567.1 359.2h6M570.4 362.3V381.9m-3 0h6M567.4 362.3h6M570.8 361.0V385.0m-3 0h6M567.8 361.0h6M571.1 363.3V379.6m-3 0h6M568.1 363.3h6M571.4 364.4V388.0m-3 0h6M568.4 364.4h6M571.7 365.8V380.4m-3 0h6M568.7 365.8h6M572.0 365.9V385.7m-3 0h6M569.0 365.9h6M572.4 364.8V382.4m-3 0h6M569.4 364.8h6M572.7 369.1V381.8m-3 0h6M569.7 369.1h6M573.0 368.3V382.8m-3 0h6M570.0 368.3h6M573.3 363.4V388.1m-3 0h6M570.3 363.4h6M573.6 362.5V384.3m-3 0h6M570.6 362.5h6M573.9 362.5V388.6m-3 0h6M570.9 362.5h6M574.3 364.9V385.8m-3 0h6M571.3 364.9h6M574.6 367.3V378.4m-3 0h6M571.6 367.3h6M574.9 367.1V388.6m-3 0h6M571.9 367.1h6M575.2 370.1V388.4m-3 0h6M572.2 370.1h6M575.5 367.8V386.4m-3 0h6M572.5 367.8h6M575.8 367.6V386.7m-3 0h6M572.8 367.6h6M576.1 365.9V383.9m-3 0h6M573.1 365.9h6M576.4 365.7V383.1m-3 0h6M573.4 365.7h6M576.7 367.0V395.1m-3 0h6M573.7 367.0h6M577.0 363.8V387.6m-3 0h6M574.0 363.8h6M577.3 365.8V384.9m-3 0h6M574.3 365.8h6M577.6 366.8V387.0m-3 0h6M574.6 366.8h6M577.9 365.2V392.8m-3 0h6M574.9 365.2h6M578.2 364.4V388.8m-3 0h6M575.2 364.4h6M578.5 367.4V391.1m-3 0h6M575.5 367.4h6M578.8 370.7V388.5m-3 0h6M575.8 370.7h6M579.1 368.7V389.8m-3 0h6M576.1 368.7h6M579.4 372.5V390.9m-3 0h6M576.4 372.5h6M579.7 370.5V386.3m-3 0h6M576.7 370.5h6M580.0 367.1V396.1m-3 0h6M577.0 367.1h6M580.3 368.7V391.1m-3 0h6M577.3 368.7h6M580.6 368.9V391.2m-3 0h6M577.6 368.9h6M580.9 372.5V392.5m-3 0h6M577.9 372.5h6M581.2 365.4V394.6m-3 0h6M578.2 365.4h6M581.5 366.7V407.0m-3 0h6M578.5 366.7h6M581.8 366.7V395.4m-3 0h6M578.8 366.7h6M582.1 370.7V402.0m-3 0h6M579.1 370.7h6M582.4 371.0V390.8m-3 0h6M579.4 371.0h6M582.7 371.0V398.0m-3 0h6M579.7 371.0h6M583.0 369.4V396.9m-3 0h6M580.0 369.4h6M583.3 368.1V405.3m-3 0h6M580.3 368.1h6M583.6 373.9V400.7m-3 0h6M580.6 373.9h6M583.9 374.1V396.1m-3 0h6M580.9 374.1h6M584.1 370.3V397.2m-3 0h6M581.1 370.3h6M584.4 370.0V395.1m-3 0h6M581.4 370.0h6M584.7 370.4V409.2m-3 0h6M581.7 370.4h6M585.0 373.2V405.9m-3 0h6M582.0 373.2h6M585.3 371.8V402.4m-3 0h6M582.3 371.8h6M585.6 370.9V400.7m-3 0h6M582.6 370.9h6M585.9 370.4V405.5m-3 0h6M582.9 370.4h6M586.1 373.6V399.9m-3 0h6M583.1 373.6h6M586.4 371.2V395.3m-3 0h6M583.4 371.2h6M586.7 372.6V392.5m-3 0h6M583.7 372.6h6M587.0 367.2V406.9m-3 0h6M584.0 367.2h6M587.3 372.3V406.5m-3 0h6M584.3 372.3h6M587.5 369.9V405.6m-3 0h6M584.5 369.9h6M587.8 371.9V403.3m-3 0h6M584.8 371.9h6M588.1 370.9V417.8m-3 0h6M585.1 370.9h6M588.4 371.9V397.4m-3 0h6M585.4 371.9h6M588.7 368.9V411.5m-3 0h6M585.7 368.9h6M588.9 374.6V401.5m-3 0h6M585.9 374.6h6M589.2 370.0V399.5m-3 0h6M586.2 370.0h6M589.5 372.9V398.1m-3 0h6M586.5 372.9h6M589.8 370.1V404.2m-3 0h6M586.8 370.1h6M590.0 370.3V401.9m-3 0h6M587.0 370.3h6M590.3 369.7V407.5m-3 0h6M587.3 369.7h6M590.6 376.5V406.6m-3 0h6M587.6 376.5h6M590.9 376.1V401.6m-3 0h6M587.9 376.1h6M591.1 369.0V409.3m-3 0h6M588.1 369.0h6M591.4 371.1V420.1m-3 0h6M588.4 371.1h6M591.7 370.7V413.7m-3 0h6M588.7 370.7h6M591.9 371.9V407.7m-3 0h6M588.9 371.9h6M592.2 368.6V409.1m-3 0h6M589.2 368.6h6M592.5 373.4V398.7m-3 0h6M589.5 373.4h6M592.7 371.5V406.2m-3 0h6M589.7 371.5h6M593.0 370.3V421.3m-3 0h6M590.0 370.3h6M593.3 369.7V412.6m-3 0h6M590.3 369.7h6M593.5 373.6V405.4m-3 0h6M590.5 373.6h6M593.8 371.2V419.9m-3 0h6M590.8 371.2h6M594.1 370.2V408.6m-3 0h6M591.1 370.2h6M594.3 370.0V418.3m-3 0h6M591.3 370.0h6M594.6 378.1V407.3m-3 0h6M591.6 378.1h6M594.9 371.4V407.5m-3 0h6M591.9 371.4h6M595.1 373.0V418.0m-3 0h6M592.1 373.0h6M595.4 371.0V416.3m-3 0h6M592.4 371.0h6M595.7 375.7V424.7m-3 0h6M592.7 375.7h6M595.9 373.3V416.1m-3 0h6M592.9 373.3h6M596.2 376.2V417.5m-3 0h6M593.2 376.2h6M596.4 374.5V424.3m-3 0h6M593.4 374.5h6M596.7 376.1V432.3m-3 0h6M593.7 376.1h6M597.0 372.8V404.1m-3 0h6M594.0 372.8h6M597.2 374.5V416.5m-3 0h6M594.2 374.5h6M597.5 373.3V417.0m-3 0h6M594.5 373.3h6M597.7 370.2V418.8m-3 0h6M594.7 370.2h6M598.0 370.8V434.0m-3 0h6M595.0 370.8h6M598.2 375.3V409.8m-3 0h6M595.2 375.3h6M598.5 375.6V431.7m-3 0h6M595.5 375.6h6M598.8 377.0V409.1m-3 0h6M595.8 377.0h6M599.0 376.4V417.3m-3 0h6M596.0 376.4h6M599.3 373.4V417.3m-3 0h6M596.3 373.4h6M599.5 373.6V420.9m-3 0h6M596.5 373.6h6M599.8 378.8V422.7m-3 0h6M596.8 378.8h6M600.0 380.0V425.6m-3 0h6M597.0 380.0h6M600.3 377.1V425.3m-3 0h6M597.3 377.1h6M600.5 372.1V421.9m-3 0h6M597.5 372.1h6M600.8 376.7V410.9m-3 0h6M597.8 376.7h6M601.0 375.8V414.1m-3 0h6M598.0 375.8h6M601.3 380.1V429.5m-3 0h6M598.3 380.1h6M601.5 377.3V444.1m-3 0h6M598.5 377.3h6M601.8 371.9V453.0m-3 0h6M598.8 371.9h6M602.0 368.4V508.2m-3 0h6M599.0 368.4h6M602.3 374.6V435.6m-3 0h6M599.3 374.6h6M602.5 374.3V422.3m-3 0h6M599.5 374.3h6M602.8 373.0V437.3m-3 0h6M599.8 373.0h6M603.0 374.5V452.7m-3 0h6M600.0 374.5h6M603.3 375.2V440.6m-3 0h6M600.3 375.2h6M603.5 375.5V422.4m-3 0h6M600.5 375.5h6M603.7 373.0V435.5m-3 0h6M600.7 373.0h6M604.0 373.2V437.8m-3 0h6M601.0 373.2h6M604.2 372.2V416.7m-3 0h6M601.2 372.2h6M604.5 377.0V424.4m-3 0h6M601.5 377.0h6M604.7 368.5V495.2m-3 0h6M601.7 368.5h6M605.0 381.7V419.4m-3 0h6M602.0 381.7h6M605.2 373.2V448.8m-3 0h6M602.2 373.2h6M605.4 371.9V437.9m-3 0h6M602.4 371.9h6M605.7 367.3V507.1m-3 0h6M602.7 367.3h6M605.9 371.0V469.5m-3 0h6M602.9 371.0h6M606.2 373.9V431.0m-3 0h6M603.2 373.9h6M606.4 369.0V508.8m-3 0h6M603.4 369.0h6M606.6 380.1V444.8m-3 0h6M603.6 380.1h6M606.9 375.5V515.3m-3 0h6M603.9 375.5h6M607.1 364.6V504.4m-3 0h6M604.1 364.6h6M607.4 369.9V451.1m-3 0h6M604.4 369.9h6M607.6 369.7V509.5m-3 0h6M604.6 369.7h6M607.8 377.0V473.1m-3 0h6M604.8 377.0h6M608.1 378.8V442.3m-3 0h6M605.1 378.8h6M608.3 365.9V505.7m-3 0h6M605.3 365.9h6M608.5 376.6V501.8m-3 0h6M605.5 376.6h6M608.8 371.0V510.8m-3 0h6M605.8 371.0h6M609.0 367.4V507.2m-3 0h6M606.0 367.4h6M609.2 369.6V509.4m-3 0h6M606.2 369.6h6M609.5 367.9V507.7m-3 0h6M606.5 367.9h6M609.7 371.9V474.4m-3 0h6M606.7 371.9h6M609.9 365.8V486.0m-3 0h6M606.9 365.8h6M610.2 373.7V513.5m-3 0h6M607.2 373.7h6M610.4 375.9V486.3m-3 0h6M607.4 375.9h6M610.6 370.7V476.3m-3 0h6M607.6 370.7h6M610.9 366.3V506.1m-3 0h6M607.9 366.3h6M611.1 370.8V510.6m-3 0h6M608.1 370.8h6M611.3 367.5V507.3m-3 0h6M608.3 367.5h6M611.6 374.7V462.7m-3 0h6M608.6 374.7h6M611.8 374.8V514.6m-3 0h6M608.8 374.8h6M612.0 367.4V479.7m-3 0h6M609.0 367.4h6M612.2 366.6V487.5m-3 0h6M609.2 366.6h6M612.5 366.3V506.1m-3 0h6M609.5 366.3h6"/><polyline fill="none" stroke="none" points="176.5,139.3 184.7,145.2 192.3,149.7 199.5,154.6 206.3,158.1 212.7,161.8 218.8,165.6 224.6,169.2 230.2,173.4 235.5,176.3 240.5,179.2 245.4,182.3 250.1,184.2 254.6,187.2 258.9,189.8 263.1,192.0 267.2,194.8 271.1,196.9 274.9,199.0 278.5,200.6 282.1,202.6 285.6,204.4 289.0,206.1 292.2,208.7 295.4,210.1 298.5,211.5 301.6,213.6 304.5,214.9 307.4,215.9 310.2,217.3 313.0,218.8 315.7,220.5 318.3,221.9 320.9,222.8 323.4,224.6 325.9,225.6 328.3,226.5 330.7,228.2 333.0,229.4 335.3,230.4 337.5,231.3 339.8,232.4 341.9,233.5 344.0,234.5 346.1,236.1 348.2,236.9 350.2,237.5 352.2,238.8 354.1,239.9 356.1,240.7 357.9,241.5 359.8,242.2 361.6,243.3 363.4,243.8 365.2,244.2 367.0,245.5 368.7,245.9 370.4,247.0 372.1,248.2 373.7,248.7 375.4,249.7 377.0,249.9 378.6,251.2 380.2,251.2 381.7,252.2 383.2,253.6 384.8,253.5 386.2,254.0 387.7,255.3 389.2,255.5 390.6,256.9 392.0,257.1 393.4,258.2 394.8,258.3 396.2,259.6 397.6,260.2 398.9,260.3 400.2,260.5 401.6,261.8 402.9,262.0 404.1,262.8 405.4,263.5 406.7,263.9 407.9,264.2 409.2,265.6 410.4,265.7 411.6,266.3 412.8,267.4 414.0,267.2 415.1,267.7 416.3,269.0 417.5,268.8 418.6,269.8 419.7,270.4 420.8,270.6 422.0,271.4 423.0,272.0 424.1,272.2 425.2,272.8 426.3,273.4 427.3,274.5 428.4,275.1 429.4,275.0 430.5,276.0 431.5,276.2 432.5,277.1 433.5,277.4 434.5,278.1 435.5,277.9 436.5,279.1 437.5,279.4 438.4,279.9 439.4,280.0 440.3,281.2 441.3,281.3 442.2,281.9 443.2,282.2 444.1,282.7 445.0,283.4 445.9,283.7 446.8,284.3 447.7,284.6 448.6,285.2 449.5,285.8 450.3,286.1 451.2,286.5 452.1,286.6 452.9,287.7 453.8,287.9 454.6,288.1 455.5,289.4 456.3,289.8 457.1,290.2 457.9,290.3 458.8,290.3 459.6,291.1 460.4,291.3 461.2,292.2 462.0,293.1 462.8,293.5 463.5,293.2 464.3,293.8 465.1,294.7 465.9,294.5 466.6,295.6 467.4,295.4 468.1,295.7 468.9,296.7 469.6,297.3 470.4,297.2 471.1,298.1 471.9,298.0 472.6,299.0 473.3,298.9 474.0,299.5 474.7,300.1 475.4,300.7 476.2,300.8 476.9,301.8 477.6,301.8 478.2,302.2 478.9,302.3 479.6,303.3 480.3,302.9 481.0,303.9 481.7,304.5 482.3,304.2 483.0,304.5 483.7,305.5 484.3,306.1 485.0,306.3 485.6,306.9 486.3,307.2 486.9,307.0 487.6,307.8 488.2,308.3 488.8,308.6 489.5,309.2 490.1,309.3 490.7,309.7 491.4,310.5 492.0,310.7 492.6,310.6 493.2,311.5 493.8,312.1 494.4,311.8 495.0,312.8 495.6,313.6 496.2,313.4 496.8,314.3 497.4,314.6 498.0,314.7 498.6,315.3 499.2,315.9 499.7,316.2 500.3,316.6 500.9,316.4 501.5,317.5 502.0,317.8 502.6,317.4 503.2,318.6 503.7,318.3 504.3,318.7 504.8,319.6 505.4,320.5 506.0,320.2 506.5,320.5 507.0,320.8 507.6,321.5 508.1,321.5 508.7,321.8 509.2,323.1 509.7,322.6 510.3,323.4 510.8,324.1 511.3,324.4 511.9,324.0 512.4,324.7 512.9,326.2 513.4,325.8 513.9,326.3 514.4,326.7 515.0,327.2 515.5,328.0 516.0,327.4 516.5,328.6 517.0,328.7 517.5,329.2 518.0,329.6 518.5,329.3 519.0,329.9 519.5,330.7 520.0,331.3 520.4,331.4 520.9,331.1 521.4,331.9 521.9,332.2 522.4,332.9 522.9,333.2 523.3,333.3 523.8,334.7 524.3,333.4 524.8,335.0 525.2,335.2 525.7,334.6 526.2,335.6 526.6,336.0 527.1,336.7 527.6,337.6 528.0,337.0 528.5,336.9 528.9,338.4 529.4,337.5 529.8,339.2 530.3,339.4 530.7,339.0 531.2,339.7 531.6,339.6 532.1,340.8 532.5,341.4 532.9,342.2 533.4,342.2 533.8,342.5 534.3,343.0 534.7,342.3 535.1,343.3 535.6,344.4 536.0,342.5 536.4,344.4 536.8,345.1 537.3,343.8 537.7,344.2 538.1,346.1 538.5,346.6 539.0,346.6 539.4,345.6 539.8,346.9 540.2,347.5 540.6,347.3 541.0,346.8 541.4,349.0 541.8,348.6 542.3,349.7 542.7,347.8 543.1,348.1 543.5,349.0 543.9,350.1 544.3,349.8 544.7,352.1 545.1,350.7 545.5,352.3 545.9,352.7 546.3,352.5 546.7,352.5 547.0,352.1 547.4,352.3 547.8,353.0 548.2,354.3 548.6,353.3 549.0,354.3 549.4,353.5 549.8,355.6 550.1,356.8 550.5,355.8 550.9,354.3 551.3,355.6 551.7,356.5 552.0,355.9 552.4,356.5 552.8,356.8 553.1,358.0 553.5,357.8 553.9,358.0 554.3,359.1 554.6,359.8 555.0,358.9 555.4,358.4 555.7,359.0 556.1,359.5 556.5,359.7 556.8,358.9 557.2,360.6 557.5,360.1 557.9,359.7 558.2,361.6 558.6,361.7 559.0,361.2 559.3,360.8 559.7,362.5 560.0,362.7 560.4,363.3 560.7,365.0 561.1,362.8 561.4,364.5 561.8,366.5 562.1,365.0 562.5,367.1 562.8,366.5 563.1,365.6 563.5,367.0 563.8,364.9 564.2,368.2 564.5,366.4 564.8,366.3 565.2,365.5 565.5,366.4 565.8,367.5 566.2,368.0 566.5,368.4 566.8,367.2 567.2,369.7 567.5,368.4 567.8,369.5 568.2,369.3 568.5,370.2 568.8,367.9 569.1,371.3 569.5,370.3 569.8,370.5 570.1,370.3 570.4,370.8 570.8,371.1 571.1,370.5 571.4,374.3 571.7,372.4 572.0,374.5 572.4,372.5 572.7,374.9 573.0,374.8 573.3,373.7 573.6,371.8 573.9,373.2 574.3,373.9 574.6,372.5 574.9,376.3 575.2,378.1 575.5,375.9 575.8,375.9 576.1,373.8 576.4,373.3 576.7,378.4 577.0,373.7 577.3,374.1 577.6,375.5 577.9,376.4 578.2,374.6 578.5,377.4 578.8,378.5 579.1,377.7 579.4,380.6 579.7,377.5 580.0,378.8 580.3,378.2 580.6,378.4 580.9,381.1 581.2,377.1 581.5,381.5 581.8,378.2 582.1,383.1 582.4,379.6 582.7,382.0 583.0,380.6 583.3,382.1 583.6,384.9 583.9,383.4 584.1,381.3 584.4,380.4 584.7,384.8 585.0,386.0 585.3,384.0 585.6,382.8 585.9,383.9 586.1,384.4 586.4,381.3 586.7,381.2 587.0,381.8 587.3,385.5 587.5,383.5 587.8,384.3 588.1,387.2 588.4,382.4 588.7,384.2 588.9,385.6 589.2,381.8 589.5,383.3 589.8,383.3 590.0,382.7 590.3,383.9 590.6,388.5 590.9,386.6 591.1,383.7 591.4,387.8 591.7,386.1 591.9,385.5 592.2,383.4 592.5,383.8 592.7,384.8 593.0,387.5 593.3,385.1 593.5,386.1 593.8,387.9 594.1,384.5 594.3,386.6 594.6,389.8 594.9,385.1 595.1,388.8 595.4,386.9 595.7,392.4 595.9,388.7 596.2,391.2 596.4,391.4 596.7,394.2 597.0,385.2 597.2,389.7 597.5,388.8 597.7,386.8 598.0,390.0 598.2,388.5 598.5,393.7 598.8,389.6 599.0,391.3 599.3,389.0 599.5,390.0 599.8,394.5 600.0,396.0 600.3,393.6 600.5,389.0 600.8,389.9 601.0,390.1 601.3,396.9 601.5,397.0 601.8,393.2 602.0,392.5 602.3,393.4 602.5,390.8 602.8,392.4 603.0,395.5 603.3,394.7 603.5,391.8 603.7,392.1 604.0,392.6 604.2,387.9 604.5,393.4 604.7,392.4 605.0,395.8 605.2,394.0 605.4,391.5 605.7,391.4 605.9,393.6 606.2,392.1 606.4,393.2 606.6,399.5 606.9,399.7 607.1,388.8 607.4,391.2 607.6,393.9 607.8,399.5 608.1,398.0 608.3,390.0 608.5,400.4 608.8,395.1 609.0,391.6 609.2,393.8 609.5,392.0 609.7,394.8 609.9,389.5 610.2,397.9 610.4,399.2 610.6,393.8 610.9,390.4 611.1,394.9 611.3,391.6 611.6,396.6 611.8,399.0 612.0,390.8 612.2,390.3 612.5,390.5" marker-start="url(#agreen)" marker-mid="url(#agreen)" marker-end="url(#agreen)"/><path fill="none" stroke="#ffff00" stroke-opacity="0.65" stroke-width="1.2" d="M561.1 430.0V575.8M561.4 430.0V575.8M561.8 430.0V575.8M562.1 430.0V575.8M562.5 430.0V575.8M562.8 430.0V575.8M563.1 430.0V575.8M563.5 430.0V575.8M563.8 430.0V575.8M564.2 430.0V575.8M564.5 430.0V575.8M564.8 430.0V575.8M565.2 430.0V575.8M565.5 430.0V575.8M565.8 430.0V575.8M566.2 430.0V575.8M566.5 430.0V575.8M566.8 430.0V575.8M567.2 430.0V575.8M567.5 430.0V575.8M567.8 430.0V575.8M568.2 430.0V575.8M568.5 430.0V575.8M568.8 430.0V575.8M569.1 430.0V575.8M569.5 430.0V575.8M569.8 430.0V575.8M570.1 430.0V575.8M570.4 430.0V575.8M570.8 430.0V575.8M571.1 430.0V575.8M571.4 430.0V575.8M571.7 430.0V575.8M572.0 430.0V575.8M572.4 430.0V575.8M572.7 430.0V575.8M573.0 430.0V575.8M573.3 430.0V575.8M573.6 430.0V575.8M573.9 430.0V575.8M574.3 430.0V575.8M574.6 430.0V575.8M574.9 430.0V575.8M575.2 430.0V575.8M575.5 430.0V575.8M575.8 430.0V575.8M576.1 430.0V575.8M576.4 430.0V575.8M576.7 430.0V575.8M577.0 430.0V575.8M577.3 430.0V575.8M577.6 430.0V575.8M577.9 430.0V575.8M578.2 430.0V575.8M578.5 430.0V575.8M578.8 430.0V575.8M579.1 430.0V575.8M579.4 430.0V575.8M579.7 430.0V575.8M580.0 430.0V575.8M580.3 430.0V575.8M580.6 430.0V575.8M580.9 430.0V575.8M581.2 430.0V575.8M581.5 430.0V575.8M581.8 430.0V575.8M582.1 430.0V575.8M582.4 430.0V575.8M582.7 430.0V575.8M583.0 430.0V575.8M583.3 430.0V575.8M583.6 430.0V575.8M583.9 430.0V575.8M584.1 430.0V575.8M584.4 430.0V575.8M584.7 430.0V575.8M585.0 430.0V575.8M585.3 430.0V575.8M585.6 430.0V575.8M585.9 430.0V575.8M586.1 430.0V575.8M586.4 430.0V575.8M586.7 430.0V575.8M587.0 430.0V575.8M587.3 430.0V575.8M587.5 430.0V575.8M587.8 430.0V575.8M588.1 430.0V575.8M588.4 430.0V575.8M588.7 430.0V575.8M588.9 430.0V575.8M589.2 430.0V575.8M589.5 430.0V575.8M589.8 430.0V575.8M590.0 430.0V575.8M590.3 430.0V575.8M590.6 430.0V575.8M590.9 430.0V575.8M591.1 430.0V575.8M591.4 430.0V575.8M591.7 430.0V575.8M591.9 430.0V575.8M592.2 430.0V575.8M592.5 430.0V575.8M592.7 430.0V575.8M593.0 430.0V575.8M593.3 430.0V575.8M593.5 430.0V575.8M593.8 430.0V575.8M594.1 430.0V575.8M594.3 430.0V575.8M594.6 430.0V575.8M594.9 430.0V575.8M595.1 430.0V575.8M595.4 430.0V575.8M595.7 430.0V575.8M595.9 430.0V575.8M596.2 430.0V575.8M596.4 430.0V575.8M596.7 430.0V575.8M597.0 430.0V575.8M597.2 430.0V575.8M597.5 430.0V575.8M597.7 430.0V575.8M598.0 430.0V575.8M598.2 430.0V575.8M598.5 430.0V575.8M598.8 430.0V575.8M599.0 430.0V575.8M599.3 430.0V575.8M599.5 430.0V575.8M599.8 430.0V575.8M600.0 430.0V575.8M600.3 430.0V575.8M600.5 430.0V575.8M600.8 430.0V575.8M601.0 430.0V575.8M601.3 430.0V575.8M601.5 430.0V575.8M601.8 430.0V575.8M602.0 430.0V575.8M602.3 430.0V575.8M602.5 430.0V575.8M602.8 430.0V575.8M603.0 430.0V575.8M603.3 430.0V575.8M603.5 430.0V575.8M603.7 430.0V575.8M604.0 430.0V575.8M604.2 430.0V575.8M604.5 430.0V575.8M604.7 430.0V575.8M605.0 430.0V575.8M605.2 430.0V575.8M605.4 430.0V575.8M605.7 430.0V575.8M605.9 430.0V575.8M606.2 430.0V575.8M606.4 430.0V575.8M606.6 430.0V575.8M606.9 430.0V575.8M607.1 430.0V575.8M607.4 430.0V575.8M607.6 430.0V575.8M607.8 430.0V575.8M608.1 430.0V575.8M608.3 430.0V575.8M608.5 430.0V575.8M608.8 430.0V575.8M609.0 430.0V575.8M609.2 430.0V575.8M609.5 430.0V575.8M609.7 430.0V575.8M609.9 430.0V575.8M610.2 430.0V575.8M610.4 430.0V575.8M610.6 430.0V575.8M610.9 430.0V575.8M611.1 430.0V575.8M611.3 430.0V575.8M611.6 430.0V575.8M611.8 430.0V575.8M612.0 430.0V575.8M612.2 430.0V575.8M612.5 430.0V575.8"/><path fill="none" stroke="#ffff00" stroke-width="1.0" d="M176.5 138.4V147.9m-3 0h6M173.5 138.4h6M184.7 144.2V151.5m-3 0h6M181.7 144.2h6M192.3 147.5V157.0m-3 0h6M189.3 147.5h6M199.5 152.4V158.8m-3 0h6M196.5 152.4h6M206.3 156.8V161.0m-3 0h6M203.3 156.8h6M212.7 160.6V164.4m-3 0h6M209.7 160.6h6M218.8 164.4V168.8m-3 0h6M215.8 164.4h6M224.6 167.1V171.0m-3 0h6M221.6 167.1h6M230.2 170.6V173.6M235.5 173.1V176.8m-3 0h6M232.5 173.1h6M240.5 176.5V178.8M245.4 179.0V181.6M250.1 180.6V184.5m-3 0h6M247.1 180.6h6M254.6 184.2V185.8M258.9 186.0V188.6M263.1 188.2V191.4m-3 0h6M260.1 188.2h6M267.2 190.3V192.8M271.1 192.6V194.8M274.9 195.3V197.4M278.5 196.5V198.2M282.1 198.5V200.4M285.6 199.5V202.1M289.0 201.8V204.0M292.2 203.3V205.8M295.4 204.8V207.3M298.5 206.3V209.0M301.6 208.4V210.2M304.5 210.1V212.4M307.4 210.3V212.7M310.2 212.8V215.2M313.0 213.9V216.0M315.7 215.1V216.7M318.3 215.9V218.8M320.9 217.0V220.0M323.4 217.7V221.7m-3 0h6M320.4 217.7h6M325.9 219.3V222.2M328.3 220.5V224.0m-3 0h6M325.3 220.5h6M330.7 221.5V224.3M333.0 223.7V226.0M335.3 224.2V227.0M337.5 225.8V227.8M339.8 226.6V229.3M341.9 227.5V229.9M344.0 228.3V230.4M346.1 229.4V232.6m-3 0h6M343.1 229.4h6M348.2 230.4V233.6m-3 0h6M345.2 230.4h6M350.2 231.1V233.9M352.2 232.0V235.0M354.1 232.3V235.8m-3 0h6M351.1 232.3h6M356.1 233.9V236.4M357.9 235.3V237.2M359.8 236.2V238.4M361.6 236.6V239.5M363.4 237.6V240.3M365.2 239.2V241.1M367.0 238.9V242.2m-3 0h6M364.0 238.9h6M368.7 240.1V242.7M370.4 240.5V244.0m-3 0h6M367.4 240.5h6M372.1 241.5V244.7m-3 0h6M369.1 241.5h6M373.7 242.1V244.4M375.4 243.0V245.6M377.0 243.8V246.1M378.6 245.0V247.2M380.2 245.7V248.2M381.7 246.1V248.9M383.2 246.4V249.7m-3 0h6M380.2 246.4h6M384.8 247.8V250.0M386.2 248.1V251.0M387.7 248.6V251.2M389.2 249.6V252.0M390.6 250.2V253.4m-3 0h6M387.6 250.2h6M392.0 251.1V253.5M393.4 251.4V254.7m-3 0h6M390.4 251.4h6M394.8 252.2V254.7M396.2 253.4V255.5M397.6 253.3V256.3m-3 0h6M394.6 253.3h6M398.9 254.3V256.2M400.2 255.0V257.0M401.6 255.6V258.1M402.9 256.1V258.7M404.1 256.6V259.1M405.4 257.5V259.2M406.7 257.9V259.8M407.9 258.3V261.1M409.2 259.1V262.0M410.4 259.4V261.5M411.6 260.0V262.7M412.8 260.5V263.2M414.0 260.9V264.1m-3 0h6M411.0 260.9h6M415.1 262.3V264.5M416.3 262.0V265.5m-3 0h6M413.3 262.0h6M417.5 262.9V265.4M418.6 262.8V266.3m-3 0h6M415.6 262.8h6M419.7 263.8V266.9m-3 0h6M416.7 263.8h6M420.8 265.3V267.4M422.0 265.3V267.7M423.0 265.5V268.3M424.1 265.6V268.8m-3 0h6M421.1 265.6h6M425.2 266.9V268.9M426.3 267.0V269.3M427.3 267.3V270.3M428.4 267.8V270.8M429.4 268.8V271.0M430.5 269.9V272.1M431.5 269.5V272.4M432.5 270.5V272.6M433.5 271.0V273.7M434.5 271.0V274.2m-3 0h6M431.5 271.0h6M435.5 271.8V274.5M436.5 273.0V274.6M437.5 272.6V276.0m-3 0h6M434.5 272.6h6M438.4 273.1V276.5m-3 0h6M435.4 273.1h6M439.4 273.4V277.0m-3 0h6M436.4 273.4h6M440.3 274.2V277.4m-3 0h6M437.3 274.2h6M441.3 275.1V277.0M442.2 275.4V279.0m-3 0h6M439.2 275.4h6M443.2 275.8V278.7M444.1 276.5V279.7m-3 0h6M441.1 276.5h6M445.0 276.9V279.6M445.9 277.2V279.8M446.8 277.8V280.4M447.7 277.7V281.5m-3 0h6M444.7 277.7h6M448.6 278.6V281.5M449.5 278.8V281.4M450.3 280.2V282.3M451.2 279.7V282.7m-3 0h6M448.2 279.7h6M452.1 280.9V283.7M452.9 281.1V283.9M453.8 281.1V284.5m-3 0h6M450.8 281.1h6M454.6 281.9V285.1m-3 0h6M451.6 281.9h6M455.5 282.3V285.1M456.3 282.5V285.5M457.1 283.5V286.4M457.9 283.5V286.7m-3 0h6M454.9 283.5h6M458.8 284.0V287.3m-3 0h6M455.8 284.0h6M459.6 285.1V288.0M460.4 285.3V287.7M461.2 285.4V288.8m-3 0h6M458.2 285.4h6M462.0 285.3V288.7m-3 0h6M459.0 285.3h6M462.8 286.9V289.2M463.5 286.2V289.3m-3 0h6M460.5 286.2h6M464.3 287.5V290.1M465.1 287.7V289.5M465.9 287.9V290.8M466.6 288.1V291.6m-3 0h6M463.6 288.1h6M467.4 288.9V291.4M468.1 289.3V291.8M468.9 289.1V292.7m-3 0h6M465.9 289.1h6M469.6 290.0V292.4M470.4 291.0V293.5M471.1 291.5V294.3M471.9 291.9V295.3m-3 0h6M468.9 291.9h6M472.6 291.9V295.3m-3 0h6M469.6 291.9h6M473.3 292.3V295.0M474.0 292.7V295.6M474.7 293.1V296.2m-3 0h6M471.7 293.1h6M475.4 293.8V296.6M476.2 294.5V297.0M476.9 294.8V297.3M477.6 294.5V298.1m-3 0h6M474.6 294.5h6M478.2 295.9V298.9M478.9 294.3V299.9m-3 0h6M475.9 294.3h6M479.6 296.4V299.9m-3 0h6M476.6 296.4h6M480.3 296.8V299.5M481.0 297.1V300.3m-3 0h6M478.0 297.1h6M481.7 297.3V300.7m-3 0h6M478.7 297.3h6M482.3 297.9V301.4m-3 0h6M479.3 297.9h6M483.0 298.4V301.9m-3 0h6M480.0 298.4h6M483.7 298.5V302.0m-3 0h6M480.7 298.5h6M484.3 299.3V302.5m-3 0h6M481.3 299.3h6M485.0 298.5V302.3m-3 0h6M482.0 298.5h6M485.6 299.0V304.2m-3 0h6M482.6 299.0h6M486.3 300.5V303.6m-3 0h6M483.3 300.5h6M486.9 300.8V304.0m-3 0h6M483.9 300.8h6M487.6 301.1V305.0m-3 0h6M484.6 301.1h6M488.2 301.5V305.9m-3 0h6M485.2 301.5h6M488.8 301.5V305.6m-3 0h6M485.8 301.5h6M489.5 301.6V306.0m-3 0h6M486.5 301.6h6M490.1 303.1V306.5m-3 0h6M487.1 303.1h6M490.7 303.0V306.3m-3 0h6M487.7 303.0h6M491.4 303.5V307.6m-3 0h6M488.4 303.5h6M492.0 303.5V307.6m-3 0h6M489.0 303.5h6M492.6 303.3V308.3m-3 0h6M489.6 303.3h6M493.2 303.7V308.6m-3 0h6M490.2 303.7h6M493.8 305.2V307.8M494.4 305.2V309.6m-3 0h6M491.4 305.2h6M495.0 305.5V308.8m-3 0h6M492.0 305.5h6M495.6 306.8V309.3M496.2 306.1V310.3m-3 0h6M493.2 306.1h6M496.8 306.6V310.3m-3 0h6M493.8 306.6h6M497.4 307.4V311.1m-3 0h6M494.4 307.4h6M498.0 308.5V311.5m-3 0h6M495.0 308.5h6M498.6 308.1V311.3m-3 0h6M495.6 308.1h6M499.2 308.9V312.7m-3 0h6M496.2 308.9h6M499.7 309.6V312.6m-3 0h6M496.7 309.6h6M500.3 309.6V313.6m-3 0h6M497.3 309.6h6M500.9 309.1V313.3m-3 0h6M497.9 309.1h6M501.5 310.0V314.0m-3 0h6M498.5 310.0h6M502.0 310.9V315.4m-3 0h6M499.0 310.9h6M502.6 310.3V314.5m-3 0h6M499.6 310.3h6M503.2 310.7V314.1m-3 0h6M500.2 310.7h6M503.7 311.0V314.6m-3 0h6M500.7 311.0h6M504.3 311.9V316.5m-3 0h6M501.3 311.9h6M504.8 311.6V317.1m-3 0h6M501.8 311.6h6M505.4 312.2V316.9m-3 0h6M502.4 312.2h6M506.0 312.7V316.8m-3 0h6M503.0 312.7h6M506.5 313.1V317.9m-3 0h6M503.5 313.1h6M507.0 314.8V318.0m-3 0h6M504.0 314.8h6M507.6 314.0V317.9m-3 0h6M504.6 314.0h6M508.1 314.2V318.7m-3 0h6M505.1 314.2h6M508.7 315.3V320.2m-3 0h6M505.7 315.3h6M509.2 315.4V320.0m-3 0h6M506.2 315.4h6M509.7 315.4V320.2m-3 0h6M506.7 315.4h6M510.3 316.3V320.3m-3 0h6M507.3 316.3h6M510.8 316.1V320.8m-3 0h6M507.8 316.1h6M511.3 316.0V321.5m-3 0h6M508.3 316.0h6M511.9 317.4V321.1m-3 0h6M508.9 317.4h6M512.4 317.8V322.1m-3 0h6M509.4 317.8h6M512.9 318.4V323.5m-3 0h6M509.9 318.4h6M513.4 316.7V324.2m-3 0h6M510.4 316.7h6M513.9 317.2V323.7m-3 0h6M510.9 317.2h6M514.4 316.8V324.7m-3 0h6M511.4 316.8h6M515.0 318.2V325.8m-3 0h6M512.0 318.2h6M515.5 319.6V325.0m-3 0h6M512.5 319.6h6M516.0 319.0V324.9m-3 0h6M513.0 319.0h6M516.5 319.9V324.7m-3 0h6M513.5 319.9h6M517.0 319.4V327.3m-3 0h6M514.0 319.4h6M517.5 319.9V327.2m-3 0h6M514.5 319.9h6M518.0 321.1V328.4m-3 0h6M515.0 321.1h6M518.5 320.6V328.1m-3 0h6M515.5 320.6h6M519.0 321.9V329.2m-3 0h6M516.0 321.9h6M519.5 322.0V329.1m-3 0h6M516.5 322.0h6M520.0 322.3V329.6m-3 0h6M517.0 322.3h6M520.4 322.1V331.1m-3 0h6M517.4 322.1h6M520.9 324.7V330.8m-3 0h6M517.9 324.7h6M521.4 324.5V330.4m-3 0h6M518.4 324.5h6M521.9 323.5V331.0m-3 0h6M518.9 323.5h6M522.4 323.2V332.8m-3 0h6M519.4 323.2h6M522.9 324.4V332.6m-3 0h6M519.9 324.4h6M523.3 324.6V332.1m-3 0h6M520.3 324.6h6M523.8 323.9V333.4m-3 0h6M520.8 323.9h6M524.3 324.7V333.1m-3 0h6M521.3 324.7h6M524.8 327.4V333.1m-3 0h6M521.8 327.4h6M525.2 326.6V333.6m-3 0h6M522.2 326.6h6M525.7 327.8V333.5m-3 0h6M522.7 327.8h6M526.2 327.3V335.8m-3 0h6M523.2 327.3h6M526.6 328.2V336.5m-3 0h6M523.6 328.2h6M527.1 326.9V337.0m-3 0h6M524.1 326.9h6M527.6 326.0V340.5m-3 0h6M524.6 326.0h6M528.0 327.1V335.6m-3 0h6M525.0 327.1h6M528.5 328.1V338.0m-3 0h6M525.5 328.1h6M528.9 328.8V338.2m-3 0h6M525.9 328.8h6M529.4 330.9V336.7m-3 0h6M526.4 330.9h6M529.8 328.4V337.4m-3 0h6M526.8 328.4h6M530.3 330.5V339.8m-3 0h6M527.3 330.5h6M530.7 329.4V340.9m-3 0h6M527.7 329.4h6M531.2 331.1V340.6m-3 0h6M528.2 331.1h6M531.6 331.3V340.1m-3 0h6M528.6 331.3h6M532.1 329.7V342.9m-3 0h6M529.1 329.7h6M532.5 329.8V341.7m-3 0h6M529.5 329.8h6M532.9 332.8V343.0m-3 0h6M529.9 332.8h6M533.4 331.9V342.6m-3 0h6M530.4 331.9h6M533.8 330.4V342.5m-3 0h6M530.8 330.4h6M534.3 331.1V346.6m-3 0h6M531.3 331.1h6M534.7 330.2V348.2m-3 0h6M531.7 330.2h6M535.1 334.2V344.7m-3 0h6M532.1 334.2h6M535.6 332.5V350.4m-3 0h6M532.6 332.5h6M536.0 332.6V347.2m-3 0h6M533.0 332.6h6M536.4 331.4V347.3m-3 0h6M533.4 331.4h6M536.8 332.2V350.7m-3 0h6M533.8 332.2h6M537.3 336.0V348.8m-3 0h6M534.3 336.0h6M537.7 332.1V351.1m-3 0h6M534.7 332.1h6M538.1 335.2V347.7m-3 0h6M535.1 335.2h6M538.5 333.7V348.8m-3 0h6M535.5 333.7h6M539.0 334.4V348.8m-3 0h6M536.0 334.4h6M539.4 332.0V356.9m-3 0h6M536.4 332.0h6M539.8 331.6V357.0m-3 0h6M536.8 331.6h6M540.2 335.3V356.9m-3 0h6M537.2 335.3h6M540.6 333.2V354.2m-3 0h6M537.6 333.2h6M541.0 335.7V353.1m-3 0h6M538.0 335.7h6M541.4 331.3V360.1m-3 0h6M538.4 331.3h6M541.8 332.1V359.6m-3 0h6M538.8 332.1h6M542.3 334.4V359.8m-3 0h6M539.3 334.4h6M542.7 336.2V357.2m-3 0h6M539.7 336.2h6M543.1 337.4V357.9m-3 0h6M540.1 337.4h6M543.5 338.3V360.5m-3 0h6M540.5 338.3h6M543.9 333.9V365.0m-3 0h6M540.9 333.9h6M544.3 337.8V357.4m-3 0h6M541.3 337.8h6M544.7 337.5V362.7m-3 0h6M541.7 337.5h6M545.1 332.7V369.0m-3 0h6M542.1 332.7h6M545.5 335.0V366.5m-3 0h6M542.5 335.0h6M545.9 332.8V372.4m-3 0h6M542.9 332.8h6M546.3 337.1V367.2m-3 0h6M543.3 337.1h6M546.7 338.3V369.3m-3 0h6M543.7 338.3h6M547.0 333.4V373.3m-3 0h6M544.0 333.4h6M547.4 335.3V370.0m-3 0h6M544.4 335.3h6M547.8 336.9V370.1m-3 0h6M544.8 336.9h6M548.2 339.1V367.3m-3 0h6M545.2 339.1h6M548.6 340.8V364.3m-3 0h6M545.6 340.8h6M549.0 334.3V382.6m-3 0h6M546.0 334.3h6M549.4 339.2V370.7m-3 0h6M546.4 339.2h6M549.8 341.7V371.8m-3 0h6M546.8 341.7h6M550.1 334.8V380.3m-3 0h6M547.1 334.8h6M550.5 341.7V372.7m-3 0h6M547.5 341.7h6M550.9 341.3V370.0m-3 0h6M547.9 341.3h6M551.3 339.6V375.0m-3 0h6M548.3 339.6h6M551.7 337.8V379.0m-3 0h6M548.7 337.8h6M552.0 339.4V385.7m-3 0h6M549.0 339.4h6M552.4 335.1V386.2m-3 0h6M549.4 335.1h6M552.8 334.5V395.1m-3 0h6M549.8 334.5h6M553.1 337.3V383.7m-3 0h6M550.1 337.3h6M553.5 335.3V390.1m-3 0h6M550.5 335.3h6M553.9 339.3V389.2m-3 0h6M550.9 339.3h6M554.3 342.2V387.2m-3 0h6M551.3 342.2h6M554.6 336.2V398.7m-3 0h6M551.6 336.2h6M555.0 335.0V399.2m-3 0h6M552.0 335.0h6M555.4 330.7V470.5m-3 0h6M552.4 330.7h6M555.7 336.6V413.6m-3 0h6M552.7 336.6h6M556.1 339.7V392.7m-3 0h6M553.1 339.7h6M556.5 335.3V421.2m-3 0h6M553.5 335.3h6M556.8 340.9V406.6m-3 0h6M553.8 340.9h6M557.2 334.9V474.7m-3 0h6M554.2 334.9h6M557.5 343.1V389.9m-3 0h6M554.5 343.1h6M557.9 336.9V402.5m-3 0h6M554.9 336.9h6M558.2 340.1V408.8m-3 0h6M555.2 340.1h6M558.6 334.2V436.3m-3 0h6M555.6 334.2h6M559.0 337.2V433.0m-3 0h6M556.0 337.2h6M559.3 344.3V402.5m-3 0h6M556.3 344.3h6M559.7 339.7V395.6m-3 0h6M556.7 339.7h6M560.0 338.1V477.9m-3 0h6M557.0 338.1h6M560.4 335.8V475.6m-3 0h6M557.4 335.8h6M560.7 334.5V474.3m-3 0h6M557.7 334.5h6M558.1 333.0h6M561.1 333.0V430.0M558.4 333.3h6M561.4 333.3V430.0M558.8 331.6h6M561.8 331.6V430.0M559.1 334.1h6M562.1 334.1V430.0M559.5 333.0h6M562.5 333.0V430.0M559.8 334.0h6M562.8 334.0V430.0M560.1 334.6h6M563.1 334.6V430.0M560.5 332.6h6M563.5 332.6V430.0M560.8 333.2h6M563.8 333.2V430.0M561.2 332.8h6M564.2 332.8V430.0M561.5 332.3h6M564.5 332.3V430.0M561.8 332.3h6M564.8 332.3V430.0M562.2 332.8h6M565.2 332.8V430.0M562.5 333.9h6M565.5 333.9V430.0M562.8 340.0h6M565.8 340.0V430.0M563.2 332.5h6M566.2 332.5V430.0M563.5 336.5h6M566.5 336.5V430.0M563.8 338.5h6M566.8 338.5V430.0M564.2 336.4h6M567.2 336.4V430.0M564.5 338.6h6M567.5 338.6V430.0M564.8 339.2h6M567.8 339.2V430.0M565.2 338.1h6M568.2 338.1V430.0M565.5 340.5h6M568.5 340.5V430.0M565.8 342.0h6M568.8 342.0V430.0M566.1 340.2h6M569.1 340.2V430.0M566.5 337.4h6M569.5 337.4V430.0M566.8 340.4h6M569.8 340.4V430.0M567.1 339.4h6M570.1 339.4V430.0M567.4 338.3h6M570.4 338.3V430.0M567.8 340.8h6M570.8 340.8V430.0M568.1 341.1h6M571.1 341.1V430.0M568.4 343.3h6M571.4 343.3V430.0M568.7 341.2h6M571.7 341.2V430.0M569.0 342.8h6M572.0 342.8V430.0M569.4 341.9h6M572.4 341.9V430.0M569.7 343.1h6M572.7 343.1V430.0M570.0 345.5h6M573.0 345.5V430.0M570.3 341.8h6M573.3 341.8V430.0M570.6 344.9h6M573.6 344.9V430.0M570.9 339.3h6M573.9 339.3V430.0M571.3 340.2h6M574.3 340.2V430.0M571.6 347.5h6M574.6 347.5V430.0M571.9 340.0h6M574.9 340.0V430.0M572.2 347.0h6M575.2 347.0V430.0M572.5 342.6h6M575.5 342.6V430.0M572.8 345.9h6M575.8 345.9V430.0M573.1 347.8h6M576.1 347.8V430.0M573.4 344.6h6M576.4 344.6V430.0M573.7 345.8h6M576.7 345.8V430.0M574.0 350.2h6M577.0 350.2V430.0M574.3 351.4h6M577.3 351.4V430.0M574.6 347.7h6M577.6 347.7V430.0M574.9 349.9h6M577.9 349.9V430.0M575.2 348.2h6M578.2 348.2V430.0M575.5 346.4h6M578.5 346.4V430.0M575.8 345.2h6M578.8 345.2V430.0M576.1 349.2h6M579.1 349.2V430.0M576.4 343.5h6M579.4 343.5V430.0M576.7 343.4h6M579.7 343.4V430.0M577.0 350.3h6M580.0 350.3V430.0M577.3 352.1h6M580.3 352.1V430.0M577.6 348.1h6M580.6 348.1V430.0M577.9 346.3h6M580.9 346.3V430.0M578.2 346.1h6M581.2 346.1V430.0M578.5 345.3h6M581.5 345.3V430.0M578.8 348.8h6M581.8 348.8V430.0M579.1 346.6h6M582.1 346.6V430.0M579.4 354.4h6M582.4 354.4V430.0M579.7 347.7h6M582.7 347.7V430.0M580.0 352.6h6M583.0 352.6V430.0M580.3 345.3h6M583.3 345.3V430.0M580.6 349.4h6M583.6 349.4V430.0M580.9 357.8h6M583.9 357.8V430.0M581.1 347.2h6M584.1 347.2V430.0M581.4 354.2h6M584.4 354.2V430.0M581.7 351.3h6M584.7 351.3V430.0M582.0 354.1h6M585.0 354.1V430.0M582.3 351.4h6M585.3 351.4V430.0M582.6 351.7h6M585.6 351.7V430.0M582.9 352.0h6M585.9 352.0V430.0M583.1 358.0h6M586.1 358.0V430.0M583.4 348.1h6M586.4 348.1V430.0M583.7 353.4h6M586.7 353.4V430.0M584.0 354.5h6M587.0 354.5V430.0M584.3 350.7h6M587.3 350.7V430.0M584.5 354.7h6M587.5 354.7V430.0M584.8 350.0h6M587.8 350.0V430.0M585.1 355.0h6M588.1 355.0V430.0M585.4 352.3h6M588.4 352.3V430.0M585.7 356.9h6M588.7 356.9V430.0M585.9 356.9h6M588.9 356.9V430.0M586.2 358.3h6M589.2 358.3V430.0M586.5 356.5h6M589.5 356.5V430.0M586.8 353.0h6M589.8 353.0V430.0M587.0 351.2h6M590.0 351.2V430.0M587.3 354.3h6M590.3 354.3V430.0M587.6 363.6h6M590.6 363.6V430.0M587.9 355.7h6M590.9 355.7V430.0M588.1 354.5h6M591.1 354.5V430.0M588.4 354.3h6M591.4 354.3V430.0M588.7 356.9h6M591.7 356.9V430.0M588.9 363.4h6M591.9 363.4V430.0M589.2 356.5h6M592.2 356.5V430.0M589.5 361.6h6M592.5 361.6V430.0M589.7 357.1h6M592.7 357.1V430.0M590.0 365.8h6M593.0 365.8V430.0M590.3 356.5h6M593.3 356.5V430.0M590.5 362.4h6M593.5 362.4V430.0M590.8 354.6h6M593.8 354.6V430.0M591.1 350.0h6M594.1 350.0V430.0M591.3 356.0h6M594.3 356.0V430.0M591.6 362.2h6M594.6 362.2V430.0M591.9 364.6h6M594.9 364.6V430.0M592.1 365.2h6M595.1 365.2V430.0M592.4 359.3h6M595.4 359.3V430.0M592.7 357.7h6M595.7 357.7V430.0M592.9 361.8h6M595.9 361.8V430.0M593.2 358.2h6M596.2 358.2V430.0M593.4 358.1h6M596.4 358.1V430.0M593.7 359.2h6M596.7 359.2V430.0M594.0 355.4h6M597.0 355.4V430.0M594.2 361.2h6M597.2 361.2V430.0M594.5 360.7h6M597.5 360.7V430.0M594.7 370.5h6M597.7 370.5V430.0M595.0 368.8h6M598.0 368.8V430.0M595.2 366.3h6M598.2 366.3V430.0M595.5 367.7h6M598.5 367.7V430.0M595.8 363.1h6M598.8 363.1V430.0M596.0 356.9h6M599.0 356.9V430.0M596.3 365.0h6M599.3 365.0V430.0M596.5 366.9h6M599.5 366.9V430.0M596.8 367.1h6M599.8 367.1V430.0M597.0 363.3h6M600.0 363.3V430.0M597.3 368.4h6M600.3 368.4V430.0M597.5 359.5h6M600.5 359.5V430.0M597.8 361.0h6M600.8 361.0V430.0M598.0 363.8h6M601.0 363.8V430.0M598.3 360.8h6M601.3 360.8V430.0M598.5 361.4h6M601.5 361.4V430.0M598.8 363.3h6M601.8 363.3V430.0M599.0 358.3h6M602.0 358.3V430.0M599.3 367.4h6M602.3 367.4V430.0M599.5 363.0h6M602.5 363.0V430.0M599.8 363.0h6M602.8 363.0V430.0M600.0 367.3h6M603.0 367.3V430.0M600.3 369.5h6M603.3 369.5V430.0M600.5 369.2h6M603.5 369.2V430.0M600.7 366.2h6M603.7 366.2V430.0M601.0 370.1h6M604.0 370.1V430.0M601.2 369.1h6M604.2 369.1V430.0M601.5 360.8h6M604.5 360.8V430.0M601.7 364.2h6M604.7 364.2V430.0M602.0 361.9h6M605.0 361.9V430.0M602.2 365.7h6M605.2 365.7V430.0M602.4 360.1h6M605.4 360.1V430.0M602.7 367.9h6M605.7 367.9V430.0M602.9 367.4h6M605.9 367.4V430.0M603.2 355.7h6M606.2 355.7V430.0M603.4 361.1h6M606.4 361.1V430.0M603.6 363.8h6M606.6 363.8V430.0M603.9 363.2h6M606.9 363.2V430.0M604.1 364.7h6M607.1 364.7V430.0M604.4 374.0h6M607.4 374.0V430.0M604.6 374.5h6M607.6 374.5V430.0M604.8 367.6h6M607.8 367.6V430.0M605.1 362.3h6M608.1 362.3V430.0M605.3 370.1h6M608.3 370.1V430.0M605.5 369.6h6M608.5 369.6V430.0M605.8 370.4h6M608.8 370.4V430.0M606.0 369.8h6M609.0 369.8V430.0M606.2 377.0h6M609.2 377.0V430.0M606.5 379.9h6M609.5 379.9V430.0M606.7 368.5h6M609.7 368.5V430.0M606.9 381.4h6M609.9 381.4V430.0M607.2 375.9h6M610.2 375.9V430.0M607.4 374.2h6M610.4 374.2V430.0M607.6 376.8h6M610.6 376.8V430.0M607.9 369.8h6M610.9 369.8V430.0M608.1 372.8h6M611.1 372.8V430.0M608.3 371.4h6M611.3 371.4V430.0M608.6 374.6h6M611.6 374.6V430.0M608.8 376.0h6M611.8 376.0V430.0M609.0 367.5h6M612.0 367.5V430.0M609.2 367.8h6M612.2 367.8V430.0M609.5 372.0h6M612.5 372.0V430.0"/><polyline fill="none" stroke="none" points="176.5,142.8 184.7,147.7 192.3,151.9 199.5,155.5 206.3,158.9 212.7,162.4 218.8,166.5 224.6,169.0 230.2,172.1 235.5,174.9 240.5,177.6 245.4,180.3 250.1,182.5 254.6,185.0 258.9,187.3 263.1,189.8 267.2,191.5 271.1,193.7 274.9,196.3 278.5,197.3 282.1,199.4 285.6,200.8 289.0,202.9 292.2,204.5 295.4,206.0 298.5,207.6 301.6,209.3 304.5,211.2 307.4,211.5 310.2,214.0 313.0,214.9 315.7,215.9 318.3,217.3 320.9,218.5 323.4,219.7 325.9,220.7 328.3,222.2 330.7,222.9 333.0,224.8 335.3,225.5 337.5,226.8 339.8,227.9 341.9,228.7 344.0,229.3 346.1,231.0 348.2,231.9 350.2,232.5 352.2,233.5 354.1,234.0 356.1,235.1 357.9,236.3 359.8,237.3 361.6,238.0 363.4,238.9 365.2,240.1 367.0,240.5 368.7,241.4 370.4,242.2 372.1,243.0 373.7,243.2 375.4,244.3 377.0,244.9 378.6,246.1 380.2,246.9 381.7,247.5 383.2,248.0 384.8,248.9 386.2,249.5 387.7,249.9 389.2,250.8 390.6,251.8 392.0,252.3 393.4,253.0 394.8,253.4 396.2,254.4 397.6,254.8 398.9,255.2 400.2,256.0 401.6,256.9 402.9,257.4 404.1,257.8 405.4,258.3 406.7,258.8 407.9,259.7 409.2,260.6 410.4,260.5 411.6,261.3 412.8,261.9 414.0,262.5 415.1,263.4 416.3,263.7 417.5,264.2 418.6,264.5 419.7,265.3 420.8,266.4 422.0,266.5 423.0,266.9 424.1,267.2 425.2,267.8 426.3,268.1 427.3,268.7 428.4,269.3 429.4,269.9 430.5,271.0 431.5,270.9 432.5,271.5 433.5,272.3 434.5,272.5 435.5,273.1 436.5,273.8 437.5,274.2 438.4,274.8 439.4,275.1 440.3,275.8 441.3,276.0 442.2,277.1 443.2,277.2 444.1,278.1 445.0,278.2 445.9,278.4 446.8,279.0 447.7,279.6 448.6,280.0 449.5,280.1 450.3,281.2 451.2,281.2 452.1,282.3 452.9,282.5 453.8,282.7 454.6,283.5 455.5,283.6 456.3,284.0 457.1,284.9 457.9,285.1 458.8,285.6 459.6,286.5 460.4,286.5 461.2,287.1 462.0,286.9 462.8,288.0 463.5,287.7 464.3,288.8 465.1,288.6 465.9,289.4 466.6,289.8 467.4,290.1 468.1,290.6 468.9,290.8 469.6,291.2 470.4,292.2 471.1,292.9 471.9,293.5 472.6,293.5 473.3,293.6 474.0,294.1 474.7,294.6 475.4,295.2 476.2,295.7 476.9,296.0 477.6,296.2 478.2,297.3 478.9,297.0 479.6,298.1 480.3,298.1 481.0,298.7 481.7,299.0 482.3,299.6 483.0,300.1 483.7,300.2 484.3,300.9 485.0,300.4 485.6,301.5 486.3,302.0 486.9,302.4 487.6,303.0 488.2,303.7 488.8,303.5 489.5,303.7 490.1,304.8 490.7,304.6 491.4,305.5 492.0,305.5 492.6,305.7 493.2,306.1 493.8,306.5 494.4,307.3 495.0,307.1 495.6,308.0 496.2,308.1 496.8,308.4 497.4,309.2 498.0,310.0 498.6,309.6 499.2,310.7 499.7,311.0 500.3,311.5 500.9,311.1 501.5,311.9 502.0,313.1 502.6,312.4 503.2,312.4 503.7,312.8 504.3,314.1 504.8,314.2 505.4,314.4 506.0,314.7 506.5,315.5 507.0,316.4 507.6,315.9 508.1,316.4 508.7,317.7 509.2,317.6 509.7,317.7 510.3,318.2 510.8,318.4 511.3,318.6 511.9,319.2 512.4,319.9 512.9,320.9 513.4,320.3 513.9,320.3 514.4,320.5 515.0,321.8 515.5,322.2 516.0,321.8 516.5,322.2 517.0,323.2 517.5,323.4 518.0,324.6 518.5,324.2 519.0,325.4 519.5,325.4 520.0,325.8 520.4,326.4 520.9,327.6 521.4,327.4 521.9,327.1 522.4,327.7 522.9,328.3 523.3,328.2 523.8,328.4 524.3,328.7 524.8,330.1 525.2,329.9 525.7,330.6 526.2,331.3 526.6,332.1 527.1,331.6 527.6,332.5 528.0,331.1 528.5,332.7 528.9,333.2 529.4,333.7 529.8,332.6 530.3,334.9 530.7,334.7 531.2,335.5 531.6,335.4 532.1,335.7 532.5,335.3 532.9,337.6 533.4,336.9 533.8,336.0 534.3,338.0 534.7,338.1 535.1,339.1 535.6,340.3 536.0,339.2 536.4,338.5 536.8,340.2 537.3,341.8 537.7,340.4 538.1,340.9 538.5,340.5 539.0,340.9 539.4,342.3 539.8,342.1 540.2,344.5 540.6,342.2 541.0,343.4 541.4,342.9 541.8,343.3 542.3,344.9 542.7,345.2 543.1,346.3 543.5,347.7 543.9,346.2 544.3,346.3 544.7,348.0 545.1,346.4 545.5,347.4 545.9,347.4 546.3,349.1 546.7,350.6 547.0,348.1 547.4,348.6 547.8,349.8 548.2,350.5 548.6,350.7 549.0,350.9 549.4,351.6 549.8,353.7 550.1,350.8 550.5,353.9 550.9,352.8 551.3,353.1 551.7,352.8 552.0,355.6 552.4,352.3 552.8,353.3 553.1,353.5 553.5,353.1 553.9,356.2 554.3,358.1 554.6,355.3 555.0,354.4 555.4,354.9 555.7,357.5 556.1,357.2 556.5,357.0 556.8,360.5 557.2,359.1 557.5,359.4 557.9,356.4 558.2,360.1 558.6,357.1 559.0,359.7 559.3,362.7 559.7,357.7 560.0,362.2 560.4,360.0 560.7,358.6 561.1,362.5 561.4,364.0 561.8,360.5 562.1,362.4 562.5,365.0 562.8,365.1 563.1,364.2 563.5,362.1 563.8,364.6 564.2,363.2 564.5,361.8 564.8,362.8 565.2,362.7 565.5,363.4 565.8,369.1 566.2,364.0 566.5,365.9 566.8,367.1 567.2,369.3 567.5,370.7 567.8,370.0 568.2,368.0 568.5,370.8 568.8,370.3 569.1,370.2 569.5,367.8 569.8,370.1 570.1,370.0 570.4,367.3 570.8,371.0 571.1,369.3 571.4,373.3 571.7,370.4 572.0,371.2 572.4,371.3 572.7,373.1 573.0,374.8 573.3,373.3 573.6,374.0 573.9,370.7 574.3,371.3 574.6,376.7 574.9,372.4 575.2,375.4 575.5,373.3 575.8,376.0 576.1,378.9 576.4,372.8 576.7,374.4 577.0,379.1 577.3,381.4 577.6,377.8 577.9,379.9 578.2,377.8 578.5,375.4 578.8,373.5 579.1,378.6 579.4,374.2 579.7,375.0 580.0,379.6 580.3,383.7 580.6,376.5 580.9,377.4 581.2,374.7 581.5,375.6 581.8,377.6 582.1,375.3 582.4,383.7 582.7,380.0 583.0,381.7 583.3,376.1 583.6,379.6 583.9,388.1 584.1,377.6 584.4,385.0 584.7,379.8 585.0,384.0 585.3,381.9 585.6,380.9 585.9,382.5 586.1,386.7 586.4,379.1 586.7,382.5 587.0,384.1 587.3,381.9 587.5,386.4 587.8,379.2 588.1,384.1 588.4,383.8 588.7,384.1 588.9,389.0 589.2,390.3 589.5,385.2 589.8,384.9 590.0,381.6 590.3,384.9 590.6,391.2 590.9,385.0 591.1,384.1 591.4,383.7 591.7,386.3 591.9,393.0 592.2,383.7 592.5,391.3 592.7,386.2 593.0,395.6 593.3,385.8 593.5,392.4 593.8,384.9 594.1,382.9 594.3,384.9 594.6,395.0 594.9,394.2 595.1,394.0 595.4,387.5 595.7,389.0 595.9,390.0 596.2,389.5 596.4,388.5 596.7,388.4 597.0,384.5 597.2,391.8 597.5,390.8 597.7,401.6 598.0,398.7 598.2,395.6 598.5,398.4 598.8,391.6 599.0,388.1 599.3,395.0 599.5,395.5 599.8,395.8 600.0,392.8 600.3,396.3 600.5,391.7 600.8,392.4 601.0,392.4 601.3,390.6 601.5,394.2 601.8,393.8 602.0,386.9 602.3,395.1 602.5,391.1 602.8,394.8 603.0,397.7 603.3,397.9 603.5,400.1 603.7,395.6 604.0,399.2 604.2,398.3 604.5,390.1 604.7,397.0 605.0,390.7 605.2,395.1 605.4,392.2 605.7,400.3 605.9,396.1 606.2,388.6 606.4,392.8 606.6,392.0 606.9,396.1 607.1,393.0 607.4,405.0 607.6,403.0 607.8,395.5 608.1,393.6 608.3,400.6 608.5,399.4 608.8,400.6 609.0,399.6 609.2,406.5 609.5,408.5 609.7,399.3 609.9,411.3 610.2,405.5 610.4,403.4 610.6,406.3 610.9,397.9 611.1,402.3 611.3,400.1 611.6,406.6 611.8,404.8 612.0,396.8 612.2,397.8 612.5,403.2" marker-start="url(#ayellow)" marker-mid="url(#ayellow)" marker-end="url(#ayellow)"/><path fill="none" stroke="#ff6600" stroke-opacity="0.6" stroke-width="1.2" d="M572.4 430.0V575.8M572.7 430.0V575.8M573.0 430.0V575.8M573.3 430.0V575.8M573.6 430.0V575.8M573.9 430.0V575.8M574.3 430.0V575.8M574.6 430.0V575.8M574.9 430.0V575.8M575.2 430.0V575.8M575.5 430.0V575.8M575.8 430.0V575.8M576.1 430.0V575.8M576.4 430.0V575.8M576.7 430.0V575.8M577.0 430.0V575.8M577.3 430.0V575.8M577.6 430.0V575.8M577.9 430.0V575.8M578.2 430.0V575.8M578.5 430.0V575.8M578.8 430.0V575.8M579.1 430.0V575.8M579.4 430.0V575.8M579.7 430.0V575.8M580.0 430.0V575.8M580.3 430.0V575.8M580.6 430.0V575.8M580.9 430.0V575.8M581.2 430.0V575.8M581.5 430.0V575.8M581.8 430.0V575.8M582.1 430.0V575.8M582.4 430.0V575.8M582.7 430.0V575.8M583.0 430.0V575.8M583.3 430.0V575.8M583.6 430.0V575.8M583.9 430.0V575.8M584.1 430.0V575.8M584.4 430.0V575.8M584.7 430.0V575.8M585.0 430.0V575.8M585.3 430.0V575.8M585.6 430.0V575.8M585.9 430.0V575.8M586.1 430.0V575.8M586.4 430.0V575.8M586.7 430.0V575.8M587.0 430.0V575.8M587.3 430.0V575.8M587.5 430.0V575.8M587.8 430.0V575.8M588.1 430.0V575.8M588.4 430.0V575.8M588.7 430.0V575.8M588.9 430.0V575.8M589.2 430.0V575.8M589.5 430.0V575.8M589.8 430.0V575.8M590.0 430.0V575.8M590.3 430.0V575.8M590.6 430.0V575.8M590.9 430.0V575.8M591.1 430.0V575.8M591.4 430.0V575.8M591.7 430.0V575.8M591.9 430.0V575.8M592.2 430.0V575.8M592.5 430.0V575.8M592.7 430.0V575.8M593.0 430.0V575.8M593.3 430.0V575.8M593.5 430.0V575.8M593.8 430.0V575.8M594.1 430.0V575.8M594.3 430.0V575.8M594.6 430.0V575.8M594.9 430.0V575.8M595.1 430.0V575.8M595.4 430.0V575.8M595.7 430.0V575.8M595.9 430.0V575.8M596.2 430.0V575.8M596.4 430.0V575.8M596.7 430.0V575.8M597.0 430.0V575.8M597.2 430.0V575.8M597.5 430.0V575.8M597.7 430.0V575.8M598.0 430.0V575.8M598.2 430.0V575.8M598.5 430.0V575.8M598.8 430.0V575.8M599.0 430.0V575.8M599.3 430.0V575.8M599.5 430.0V575.8M599.8 430.0V575.8M600.0 430.0V575.8M600.3 430.0V575.8M600.5 430.0V575.8M600.8 430.0V575.8M601.0 430.0V575.8M601.3 430.0V575.8M601.5 430.0V575.8M601.8 430.0V575.8M602.0 430.0V575.8M602.3 430.0V575.8M602.5 430.0V575.8M602.8 430.0V575.8M603.0 430.0V575.8M603.3 430.0V575.8M603.5 430.0V575.8M603.7 430.0V575.8M604.0 430.0V575.8M604.2 430.0V575.8M604.5 430.0V575.8M604.7 430.0V575.8M605.0 430.0V575.8M605.2 430.0V575.8M605.4 430.0V575.8M605.7 430.0V575.8M605.9 430.0V575.8M606.2 430.0V575.8M606.4 430.0V575.8M606.6 430.0V575.8M606.9 430.0V575.8M607.1 430.0V575.8M607.4 430.0V575.8M607.6 430.0V575.8M607.8 430.0V575.8M608.1 430.0V575.8M608.3 430.0V575.8M608.5 430.0V575.8M608.8 430.0V575.8M609.0 430.0V575.8M609.2 430.0V575.8M609.5 430.0V575.8M609.7 430.0V575.8M609.9 430.0V575.8M610.2 430.0V575.8M610.4 430.0V575.8M610.6 430.0V575.8M610.9 430.0V575.8M611.1 430.0V575.8M611.3 430.0V575.8M611.6 430.0V575.8M611.8 430.0V575.8M612.0 430.0V575.8M612.2 430.0V575.8M612.5 430.0V575.8"/><path fill="none" stroke="#ff6600" stroke-width="1.0" d="M176.5 138.9V150.1m-3 0h6M173.5 138.9h6M184.7 145.2V153.6m-3 0h6M181.7 145.2h6M192.3 148.8V159.6m-3 0h6M189.3 148.8h6M199.5 154.4V160.4m-3 0h6M196.5 154.4h6M206.3 159.5V165.1m-3 0h6M203.3 159.5h6M212.7 161.5V169.6m-3 0h6M209.7 161.5h6M218.8 166.9V170.4m-3 0h6M215.8 166.9h6M224.6 169.7V174.4m-3 0h6M221.6 169.7h6M230.2 173.3V177.3m-3 0h6M227.2 173.3h6M235.5 175.5V178.2M240.5 178.0V180.9M245.4 179.9V183.7m-3 0h6M242.4 179.9h6M250.1 182.6V185.0M254.6 184.2V187.2M258.9 186.1V189.8m-3 0h6M255.9 186.1h6M263.1 187.6V190.5M267.2 190.0V193.1m-3 0h6M264.2 190.0h6M271.1 190.9V193.5M274.9 192.9V195.5M278.5 193.7V196.3M282.1 194.5V197.2M285.6 195.8V199.1m-3 0h6M282.6 195.8h6M289.0 197.2V200.1M292.2 197.2V201.5m-3 0h6M289.2 197.2h6M295.4 199.1V202.3m-3 0h6M292.4 199.1h6M298.5 200.2V203.3m-3 0h6M295.5 200.2h6M301.6 200.5V205.0m-3 0h6M298.6 200.5h6M304.5 201.6V204.4M307.4 202.9V205.4M310.2 203.6V206.6M313.0 205.4V207.7M315.7 205.2V208.4m-3 0h6M312.7 205.2h6M318.3 206.3V210.1m-3 0h6M315.3 206.3h6M320.9 206.8V210.1m-3 0h6M317.9 206.8h6M323.4 208.4V211.1M325.9 208.3V211.1M328.3 209.8V213.0m-3 0h6M325.3 209.8h6M330.7 209.5V213.2m-3 0h6M327.7 209.5h6M333.0 210.8V213.5M335.3 212.3V214.9M337.5 212.1V215.7m-3 0h6M334.5 212.1h6M339.8 212.6V215.6m-3 0h6M336.8 212.6h6M341.9 213.3V216.5m-3 0h6M338.9 213.3h6M344.0 214.7V217.9m-3 0h6M341.0 214.7h6M346.1 215.4V217.9M348.2 216.1V218.9M350.2 216.3V219.9m-3 0h6M347.2 216.3h6M352.2 217.2V220.0M354.1 217.3V220.1M356.1 218.2V221.3m-3 0h6M353.1 218.2h6M357.9 218.9V222.0m-3 0h6M354.9 218.9h6M359.8 218.7V223.6m-3 0h6M356.8 218.7h6M361.6 220.2V222.7M363.4 220.6V223.6M365.2 220.9V225.3m-3 0h6M362.2 220.9h6M367.0 221.7V224.6M368.7 222.8V225.9m-3 0h6M365.7 222.8h6M370.4 223.6V225.8M372.1 223.4V227.0m-3 0h6M369.1 223.4h6M373.7 223.8V227.3m-3 0h6M370.7 223.8h6M375.4 224.9V228.3m-3 0h6M372.4 224.9h6M377.0 225.6V228.4M378.6 225.8V229.0m-3 0h6M375.6 225.8h6M380.2 226.7V229.6M381.7 226.9V230.4m-3 0h6M378.7 226.9h6M383.2 227.8V230.7M384.8 228.3V231.7m-3 0h6M381.8 228.3h6M386.2 229.3V231.6M387.7 229.6V232.4M389.2 230.9V232.6M390.6 230.6V233.4M392.0 231.5V235.0m-3 0h6M389.0 231.5h6M393.4 232.3V235.0M394.8 231.5V236.2m-3 0h6M391.8 231.5h6M396.2 233.3V235.7M397.6 233.9V236.7M398.9 234.5V236.9M400.2 234.8V237.5M401.6 235.7V238.4M402.9 236.2V238.4M404.1 236.9V239.3M405.4 236.5V240.9m-3 0h6M402.4 236.5h6M406.7 237.8V240.6M407.9 237.8V241.4m-3 0h6M404.9 237.8h6M409.2 239.4V241.7M410.4 239.5V242.4M411.6 239.7V243.0m-3 0h6M408.6 239.7h6M412.8 240.8V243.7M414.0 241.6V244.2M415.1 241.7V244.5M416.3 242.3V245.2M417.5 242.6V246.1m-3 0h6M414.5 242.6h6M418.6 243.0V246.8m-3 0h6M415.6 243.0h6M419.7 244.5V246.7M420.8 244.7V246.7M422.0 245.3V248.2M423.0 245.7V248.7M424.1 246.2V249.7m-3 0h6M421.1 246.2h6M425.2 246.5V250.2m-3 0h6M422.2 246.5h6M426.3 247.2V249.8M427.3 247.1V251.6m-3 0h6M424.3 247.1h6M428.4 248.2V251.4m-3 0h6M425.4 248.2h6M429.4 249.5V251.6M430.5 248.9V252.5m-3 0h6M427.5 248.9h6M431.5 249.9V253.1m-3 0h6M428.5 249.9h6M432.5 250.7V253.9m-3 0h6M429.5 250.7h6M433.5 251.4V253.6M434.5 251.8V254.7M435.5 252.1V255.2m-3 0h6M432.5 252.1h6M436.5 252.8V255.7M437.5 253.1V256.5m-3 0h6M434.5 253.1h6M438.4 253.4V257.3m-3 0h6M435.4 253.4h6M439.4 254.0V258.1m-3 0h6M436.4 254.0h6M440.3 254.8V258.7m-3 0h6M437.3 254.8h6M441.3 255.3V258.3M442.2 255.4V259.7m-3 0h6M439.2 255.4h6M443.2 256.4V259.6m-3 0h6M440.2 256.4h6M444.1 256.9V260.5m-3 0h6M441.1 256.9h6M445.0 258.0V260.9M445.9 258.7V261.0M446.8 258.9V260.8M447.7 259.2V262.4m-3 0h6M444.7 259.2h6M448.6 259.9V262.6M449.5 260.4V263.5m-3 0h6M446.5 260.4h6M450.3 260.5V264.2m-3 0h6M447.3 260.5h6M451.2 261.6V263.9M452.1 262.2V264.3M452.9 262.1V265.4m-3 0h6M449.9 262.1h6M453.8 262.7V266.0m-3 0h6M450.8 262.7h6M454.6 263.4V266.3M455.5 263.9V266.7M456.3 264.5V266.8M457.1 264.7V267.8m-3 0h6M454.1 264.7h6M457.9 265.1V267.7M458.8 265.5V268.9m-3 0h6M455.8 265.5h6M459.6 265.8V269.6m-3 0h6M456.6 265.8h6M460.4 266.9V269.8M461.2 266.8V270.2m-3 0h6M458.2 266.8h6M462.0 267.8V271.0m-3 0h6M459.0 267.8h6M462.8 268.2V271.8m-3 0h6M459.8 268.2h6M463.5 268.2V272.5m-3 0h6M460.5 268.2h6M464.3 268.7V272.3m-3 0h6M461.3 268.7h6M465.1 269.5V273.2m-3 0h6M462.1 269.5h6M465.9 269.5V273.2m-3 0h6M462.9 269.5h6M466.6 270.6V273.5M467.4 271.3V274.5m-3 0h6M464.4 271.3h6M468.1 271.3V274.8m-3 0h6M465.1 271.3h6M468.9 271.1V275.2m-3 0h6M465.9 271.1h6M469.6 272.1V276.2m-3 0h6M466.6 272.1h6M470.4 272.2V277.3m-3 0h6M467.4 272.2h6M471.1 273.5V276.1M471.9 273.5V276.7m-3 0h6M468.9 273.5h6M472.6 274.4V276.7M473.3 274.9V277.8M474.0 275.5V277.9M474.7 275.1V279.2m-3 0h6M471.7 275.1h6M475.4 275.5V279.3m-3 0h6M472.4 275.5h6M476.2 276.4V279.1M476.9 276.8V280.4m-3 0h6M473.9 276.8h6M477.6 276.8V280.7m-3 0h6M474.6 276.8h6M478.2 277.2V282.0m-3 0h6M475.2 277.2h6M478.9 277.9V281.8m-3 0h6M475.9 277.9h6M479.6 278.9V282.4m-3 0h6M476.6 278.9h6M480.3 279.4V282.7m-3 0h6M477.3 279.4h6M481.0 279.3V283.2m-3 0h6M478.0 279.3h6M481.7 280.2V283.8m-3 0h6M478.7 280.2h6M482.3 280.5V283.6m-3 0h6M479.3 280.5h6M483.0 281.4V284.1M483.7 281.0V285.3m-3 0h6M480.7 281.0h6M484.3 282.1V285.1m-3 0h6M481.3 282.1h6M485.0 282.5V285.8m-3 0h6M482.0 282.5h6M485.6 282.4V286.5m-3 0h6M482.6 282.4h6M486.3 282.9V286.4m-3 0h6M483.3 282.9h6M486.9 282.8V287.2m-3 0h6M483.9 282.8h6M487.6 284.7V287.5M488.2 284.2V288.3m-3 0h6M485.2 284.2h6M488.8 285.4V288.1M489.5 286.1V288.7M490.1 286.1V289.0M490.7 286.5V290.2m-3 0h6M487.7 286.5h6M491.4 287.0V290.1m-3 0h6M488.4 287.0h6M492.0 287.3V290.0M492.6 287.6V292.3m-3 0h6M489.6 287.6h6M493.2 288.3V291.3m-3 0h6M490.2 288.3h6M493.8 288.4V292.0m-3 0h6M490.8 288.4h6M494.4 289.1V293.0m-3 0h6M491.4 289.1h6M495.0 289.4V292.8m-3 0h6M492.0 289.4h6M495.6 289.6V293.6m-3 0h6M492.6 289.6h6M496.2 290.1V294.4m-3 0h6M493.2 290.1h6M496.8 290.4V294.1m-3 0h6M493.8 290.4h6M497.4 291.1V295.8m-3 0h6M494.4 291.1h6M498.0 291.6V295.0m-3 0h6M495.0 291.6h6M498.6 292.4V295.6m-3 0h6M495.6 292.4h6M499.2 292.7V296.8m-3 0h6M496.2 292.7h6M499.7 293.3V296.5m-3 0h6M496.7 293.3h6M500.3 293.3V297.6m-3 0h6M497.3 293.3h6M500.9 293.6V297.5m-3 0h6M497.9 293.6h6M501.5 294.8V298.5m-3 0h6M498.5 294.8h6M502.0 294.5V299.0m-3 0h6M499.0 294.5h6M502.6 295.0V299.6m-3 0h6M499.6 295.0h6M503.2 295.9V298.2M503.7 296.4V300.3m-3 0h6M500.7 296.4h6M504.3 296.0V300.3m-3 0h6M501.3 296.0h6M504.8 297.2V301.8m-3 0h6M501.8 297.2h6M505.4 297.4V301.2m-3 0h6M502.4 297.4h6M506.0 298.2V301.6m-3 0h6M503.0 298.2h6M506.5 298.0V302.4m-3 0h6M503.5 298.0h6M507.0 298.5V303.5m-3 0h6M504.0 298.5h6M507.6 300.3V303.2M508.1 300.5V303.8m-3 0h6M505.1 300.5h6M508.7 299.6V303.6m-3 0h6M505.7 299.6h6M509.2 301.1V303.8M509.7 301.2V305.3m-3 0h6M506.7 301.2h6M510.3 300.4V305.9m-3 0h6M507.3 300.4h6M510.8 302.2V306.0m-3 0h6M507.8 302.2h6M511.3 302.2V307.0m-3 0h6M508.3 302.2h6M511.9 303.2V307.2m-3 0h6M508.9 303.2h6M512.4 302.2V307.4m-3 0h6M509.4 302.2h6M512.9 302.3V307.8m-3 0h6M509.9 302.3h6M513.4 303.3V309.7m-3 0h6M510.4 303.3h6M513.9 303.9V308.9m-3 0h6M510.9 303.9h6M514.4 303.6V309.7m-3 0h6M511.4 303.6h6M515.0 304.0V309.5m-3 0h6M512.0 304.0h6M515.5 306.2V310.9m-3 0h6M512.5 306.2h6M516.0 304.8V311.7m-3 0h6M513.0 304.8h6M516.5 306.1V310.7m-3 0h6M513.5 306.1h6M517.0 307.0V312.5m-3 0h6M514.0 307.0h6M517.5 305.2V313.9m-3 0h6M514.5 305.2h6M518.0 306.8V313.2m-3 0h6M515.0 306.8h6M518.5 307.8V312.4m-3 0h6M515.5 307.8h6M519.0 308.2V314.0m-3 0h6M516.0 308.2h6M519.5 308.6V313.6m-3 0h6M516.5 308.6h6M520.0 309.2V314.7m-3 0h6M517.0 309.2h6M520.4 309.7V313.9m-3 0h6M517.4 309.7h6M520.9 309.5V315.5m-3 0h6M517.9 309.5h6M521.4 310.9V315.2m-3 0h6M518.4 310.9h6M521.9 310.9V317.2m-3 0h6M518.9 310.9h6M522.4 309.9V316.3m-3 0h6M519.4 309.9h6M522.9 310.2V317.4m-3 0h6M519.9 310.2h6M523.3 309.6V319.2m-3 0h6M520.3 309.6h6M523.8 313.0V317.5m-3 0h6M520.8 313.0h6M524.3 313.1V318.0m-3 0h6M521.3 313.1h6M524.8 312.4V317.6m-3 0h6M521.8 312.4h6M525.2 313.0V318.8m-3 0h6M522.2 313.0h6M525.7 313.2V321.1m-3 0h6M522.7 313.2h6M526.2 313.9V320.1m-3 0h6M523.2 313.9h6M526.6 314.4V320.4m-3 0h6M523.6 314.4h6M527.1 315.2V320.7m-3 0h6M524.1 315.2h6M527.6 315.7V321.8m-3 0h6M524.6 315.7h6M528.0 314.8V321.3m-3 0h6M525.0 314.8h6M528.5 315.3V322.3m-3 0h6M525.5 315.3h6M528.9 316.8V322.2m-3 0h6M525.9 316.8h6M529.4 317.1V324.3m-3 0h6M526.4 317.1h6M529.8 316.4V324.8m-3 0h6M526.8 316.4h6M530.3 316.6V324.8m-3 0h6M527.3 316.6h6M530.7 317.5V323.5m-3 0h6M527.7 317.5h6M531.2 317.1V326.4m-3 0h6M528.2 317.1h6M531.6 316.7V326.0m-3 0h6M528.6 316.7h6M532.1 317.9V326.5m-3 0h6M529.1 317.9h6M532.5 319.8V326.2m-3 0h6M529.5 319.8h6M532.9 320.9V327.1m-3 0h6M529.9 320.9h6M533.4 319.8V328.4m-3 0h6M530.4 319.8h6M533.8 321.1V328.1m-3 0h6M530.8 321.1h6M534.3 320.8V327.5m-3 0h6M531.3 320.8h6M534.7 319.2V329.9m-3 0h6M531.7 319.2h6M535.1 318.8V329.7m-3 0h6M532.1 318.8h6M535.6 320.2V330.7m-3 0h6M532.6 320.2h6M536.0 320.6V332.8m-3 0h6M533.0 320.6h6M536.4 319.5V330.9m-3 0h6M533.4 319.5h6M536.8 322.4V330.1m-3 0h6M533.8 322.4h6M537.3 321.0V333.5m-3 0h6M534.3 321.0h6M537.7 322.3V332.6m-3 0h6M534.7 322.3h6M538.1 323.0V334.2m-3 0h6M535.1 323.0h6M538.5 320.8V335.2m-3 0h6M535.5 320.8h6M539.0 322.5V334.1m-3 0h6M536.0 322.5h6M539.4 320.7V335.6m-3 0h6M536.4 320.7h6M539.8 322.9V334.1m-3 0h6M536.8 322.9h6M540.2 323.8V334.1m-3 0h6M537.2 323.8h6M540.6 324.1V334.0m-3 0h6M537.6 324.1h6M541.0 324.9V336.2m-3 0h6M538.0 324.9h6M541.4 326.6V335.0m-3 0h6M538.4 326.6h6M541.8 325.2V337.1m-3 0h6M538.8 325.2h6M542.3 326.4V338.4m-3 0h6M539.3 326.4h6M542.7 326.3V337.5m-3 0h6M539.7 326.3h6M543.1 328.1V336.3m-3 0h6M540.1 328.1h6M543.5 327.6V336.1m-3 0h6M540.5 327.6h6M543.9 325.6V341.0m-3 0h6M540.9 325.6h6M544.3 329.1V340.2m-3 0h6M541.3 329.1h6M544.7 325.1V343.5m-3 0h6M541.7 325.1h6M545.1 326.9V339.1m-3 0h6M542.1 326.9h6M545.5 328.4V343.9m-3 0h6M542.5 328.4h6M545.9 329.8V340.7m-3 0h6M542.9 329.8h6M546.3 328.6V341.8m-3 0h6M543.3 328.6h6M546.7 329.5V344.1m-3 0h6M543.7 329.5h6M547.0 328.0V345.7m-3 0h6M544.0 328.0h6M547.4 326.0V348.8m-3 0h6M544.4 326.0h6M547.8 328.5V348.5m-3 0h6M544.8 328.5h6M548.2 330.5V342.9m-3 0h6M545.2 330.5h6M548.6 328.9V345.9m-3 0h6M545.6 328.9h6M549.0 330.8V347.6m-3 0h6M546.0 330.8h6M549.4 330.5V346.1m-3 0h6M546.4 330.5h6M549.8 328.1V348.6m-3 0h6M546.8 328.1h6M550.1 327.7V353.6m-3 0h6M547.1 327.7h6M550.5 330.6V347.8m-3 0h6M547.5 330.6h6M550.9 328.1V352.6m-3 0h6M547.9 328.1h6M551.3 328.6V355.2m-3 0h6M548.3 328.6h6M551.7 331.5V347.7m-3 0h6M548.7 331.5h6M552.0 327.5V357.9m-3 0h6M549.0 327.5h6M552.4 329.2V359.6m-3 0h6M549.4 329.2h6M552.8 330.5V353.5m-3 0h6M549.8 330.5h6M553.1 327.6V359.8m-3 0h6M550.1 327.6h6M553.5 330.6V354.5m-3 0h6M550.5 330.6h6M553.9 330.5V360.2m-3 0h6M550.9 330.5h6M554.3 330.5V357.8m-3 0h6M551.3 330.5h6M554.6 332.4V352.6m-3 0h6M551.6 332.4h6M555.0 331.8V358.0m-3 0h6M552.0 331.8h6M555.4 331.8V356.2m-3 0h6M552.4 331.8h6M555.7 332.4V355.7m-3 0h6M552.7 332.4h6M556.1 335.0V355.8m-3 0h6M553.1 335.0h6M556.5 333.8V356.8m-3 0h6M553.5 333.8h6M556.8 335.8V357.1m-3 0h6M553.8 335.8h6M557.2 329.8V366.9m-3 0h6M554.2 329.8h6M557.5 337.0V356.2m-3 0h6M554.5 337.0h6M557.9 334.1V364.7m-3 0h6M554.9 334.1h6M558.2 335.0V361.9m-3 0h6M555.2 335.0h6M558.6 336.4V360.4m-3 0h6M555.6 336.4h6M559.0 332.0V370.3m-3 0h6M556.0 332.0h6M559.3 335.3V363.0m-3 0h6M556.3 335.3h6M559.7 332.8V378.4m-3 0h6M556.7 332.8h6M560.0 335.5V369.1m-3 0h6M557.0 335.5h6M560.4 333.3V372.1m-3 0h6M557.4 333.3h6M560.7 334.3V370.0m-3 0h6M557.7 334.3h6M561.1 333.0V377.4m-3 0h6M558.1 333.0h6M561.4 330.4V379.7m-3 0h6M558.4 330.4h6M561.8 334.6V370.4m-3 0h6M558.8 334.6h6M562.1 335.1V376.0m-3 0h6M559.1 335.1h6M562.5 329.2V399.2m-3 0h6M559.5 329.2h6M562.8 334.8V372.5m-3 0h6M559.8 334.8h6M563.1 329.5V407.2m-3 0h6M560.1 329.5h6M563.5 338.6V380.2m-3 0h6M560.5 338.6h6M563.8 336.6V377.7m-3 0h6M560.8 336.6h6M564.2 339.3V371.7m-3 0h6M561.2 339.3h6M564.5 335.3V375.8m-3 0h6M561.5 335.3h6M564.8 342.3V376.0m-3 0h6M561.8 342.3h6M565.2 334.9V381.0m-3 0h6M562.2 334.9h6M565.5 333.7V402.7m-3 0h6M562.5 333.7h6M565.8 334.4V390.8m-3 0h6M562.8 334.4h6M566.2 337.7V387.7m-3 0h6M563.2 337.7h6M566.5 338.2V384.2m-3 0h6M563.5 338.2h6M566.8 336.0V388.0m-3 0h6M563.8 336.0h6M567.2 339.5V383.3m-3 0h6M564.2 339.5h6M567.5 337.7V385.0m-3 0h6M564.5 337.7h6M567.8 331.9V471.7m-3 0h6M564.8 331.9h6M568.2 335.5V418.3m-3 0h6M565.2 335.5h6M568.5 338.7V396.3m-3 0h6M565.5 338.7h6M568.8 334.1V455.9m-3 0h6M565.8 334.1h6M569.1 333.4V473.3m-3 0h6M566.1 333.4h6M569.5 335.5V406.0m-3 0h6M566.5 335.5h6M569.8 337.8V430.1m-3 0h6M566.8 337.8h6M570.1 342.3V404.3m-3 0h6M567.1 342.3h6M570.4 340.6V398.5m-3 0h6M567.4 340.6h6M570.8 332.4V472.2m-3 0h6M567.8 332.4h6M571.1 333.7V473.5m-3 0h6M568.1 333.7h6M571.4 335.7V425.9m-3 0h6M568.4 335.7h6M571.7 338.6V405.2m-3 0h6M568.7 338.6h6M572.0 337.8V477.7m-3 0h6M569.0 337.8h6M569.4 329.3h6M572.4 329.3V430.0M569.7 334.4h6M572.7 334.4V430.0M570.0 330.5h6M573.0 330.5V430.0M570.3 331.6h6M573.3 331.6V430.0M570.6 335.2h6M573.6 335.2V430.0M570.9 335.5h6M573.9 335.5V430.0M571.3 336.3h6M574.3 336.3V430.0M571.6 332.6h6M574.6 332.6V430.0M571.9 332.2h6M574.9 332.2V430.0M572.2 330.6h6M575.2 330.6V430.0M572.5 331.9h6M575.5 331.9V430.0M572.8 340.5h6M575.8 340.5V430.0M573.1 339.5h6M576.1 339.5V430.0M573.4 337.2h6M576.4 337.2V430.0M573.7 335.2h6M576.7 335.2V430.0M574.0 342.0h6M577.0 342.0V430.0M574.3 336.7h6M577.3 336.7V430.0M574.6 338.6h6M577.6 338.6V430.0M574.9 338.0h6M577.9 338.0V430.0M575.2 336.2h6M578.2 336.2V430.0M575.5 336.0h6M578.5 336.0V430.0M575.8 336.6h6M578.8 336.6V430.0M576.1 340.9h6M579.1 340.9V430.0M576.4 336.5h6M579.4 336.5V430.0M576.7 336.3h6M579.7 336.3V430.0M577.0 342.7h6M580.0 342.7V430.0M577.3 341.5h6M580.3 341.5V430.0M577.6 340.0h6M580.6 340.0V430.0M577.9 337.1h6M580.9 337.1V430.0M578.2 339.1h6M581.2 339.1V430.0M578.5 337.8h6M581.5 337.8V430.0M578.8 343.1h6M581.8 343.1V430.0M579.1 337.1h6M582.1 337.1V430.0M579.4 341.8h6M582.4 341.8V430.0M579.7 337.7h6M582.7 337.7V430.0M580.0 341.7h6M583.0 341.7V430.0M580.3 341.5h6M583.3 341.5V430.0M580.6 338.0h6M583.6 338.0V430.0M580.9 340.0h6M583.9 340.0V430.0M581.1 345.0h6M584.1 345.0V430.0M581.4 341.7h6M584.4 341.7V430.0M581.7 349.2h6M584.7 349.2V430.0M582.0 342.5h6M585.0 342.5V430.0M582.3 341.2h6M585.3 341.2V430.0M582.6 342.7h6M585.6 342.7V430.0M582.9 344.0h6M585.9 344.0V430.0M583.1 346.6h6M586.1 346.6V430.0M583.4 343.0h6M586.4 343.0V430.0M583.7 343.9h6M586.7 343.9V430.0M584.0 341.6h6M587.0 341.6V430.0M584.3 348.9h6M587.3 348.9V430.0M584.5 348.4h6M587.5 348.4V430.0M584.8 344.7h6M587.8 344.7V430.0M585.1 346.6h6M588.1 346.6V430.0M585.4 352.0h6M588.4 352.0V430.0M585.7 342.7h6M588.7 342.7V430.0M585.9 346.5h6M588.9 346.5V430.0M586.2 353.9h6M589.2 353.9V430.0M586.5 342.4h6M589.5 342.4V430.0M586.8 348.9h6M589.8 348.9V430.0M587.0 347.3h6M590.0 347.3V430.0M587.3 343.2h6M590.3 343.2V430.0M587.6 349.1h6M590.6 349.1V430.0M587.9 355.0h6M590.9 355.0V430.0M588.1 348.7h6M591.1 348.7V430.0M588.4 348.6h6M591.4 348.6V430.0M588.7 346.3h6M591.7 346.3V430.0M588.9 351.6h6M591.9 351.6V430.0M589.2 347.6h6M592.2 347.6V430.0M589.5 348.4h6M592.5 348.4V430.0M589.7 349.4h6M592.7 349.4V430.0M590.0 349.6h6M593.0 349.6V430.0M590.3 348.1h6M593.3 348.1V430.0M590.5 353.4h6M593.5 353.4V430.0M590.8 343.9h6M593.8 343.9V430.0M591.1 352.9h6M594.1 352.9V430.0M591.3 349.8h6M594.3 349.8V430.0M591.6 351.9h6M594.6 351.9V430.0M591.9 355.0h6M594.9 355.0V430.0M592.1 347.6h6M595.1 347.6V430.0M592.4 346.1h6M595.4 346.1V430.0M592.7 346.7h6M595.7 346.7V430.0M592.9 349.1h6M595.9 349.1V430.0M593.2 352.1h6M596.2 352.1V430.0M593.4 349.4h6M596.4 349.4V430.0M593.7 355.4h6M596.7 355.4V430.0M594.0 350.0h6M597.0 350.0V430.0M594.2 348.3h6M597.2 348.3V430.0M594.5 348.1h6M597.5 348.1V430.0M594.7 358.0h6M597.7 358.0V430.0M595.0 356.6h6M598.0 356.6V430.0M595.2 347.2h6M598.2 347.2V430.0M595.5 352.0h6M598.5 352.0V430.0M595.8 356.8h6M598.8 356.8V430.0M596.0 355.6h6M599.0 355.6V430.0M596.3 352.3h6M599.3 352.3V430.0M596.5 345.4h6M599.5 345.4V430.0M596.8 352.6h6M599.8 352.6V430.0M597.0 349.7h6M600.0 349.7V430.0M597.3 350.3h6M600.3 350.3V430.0M597.5 352.8h6M600.5 352.8V430.0M597.8 346.5h6M600.8 346.5V430.0M598.0 352.8h6M601.0 352.8V430.0M598.3 349.8h6M601.3 349.8V430.0M598.5 353.0h6M601.5 353.0V430.0M598.8 355.2h6M601.8 355.2V430.0M599.0 352.6h6M602.0 352.6V430.0M599.3 357.6h6M602.3 357.6V430.0M599.5 352.5h6M602.5 352.5V430.0M599.8 357.2h6M602.8 357.2V430.0M600.0 353.7h6M603.0 353.7V430.0M600.3 357.0h6M603.3 357.0V430.0M600.5 351.1h6M603.5 351.1V430.0M600.7 353.5h6M603.7 353.5V430.0M601.0 352.9h6M604.0 352.9V430.0M601.2 348.5h6M604.2 348.5V430.0M601.5 364.6h6M604.5 364.6V430.0M601.7 361.3h6M604.7 361.3V430.0M602.0 360.7h6M605.0 360.7V430.0M602.2 356.3h6M605.2 356.3V430.0M602.4 354.4h6M605.4 354.4V430.0M602.7 353.6h6M605.7 353.6V430.0M602.9 352.8h6M605.9 352.8V430.0M603.2 360.1h6M606.2 360.1V430.0M603.4 348.5h6M606.4 348.5V430.0M603.6 354.0h6M606.6 354.0V430.0M603.9 358.3h6M606.9 358.3V430.0M604.1 360.7h6M607.1 360.7V430.0M604.4 355.8h6M607.4 355.8V430.0M604.6 358.5h6M607.6 358.5V430.0M604.8 357.1h6M607.8 357.1V430.0M605.1 355.9h6M608.1 355.9V430.0M605.3 356.8h6M608.3 356.8V430.0M605.5 360.9h6M608.5 360.9V430.0M605.8 352.0h6M608.8 352.0V430.0M606.0 361.1h6M609.0 361.1V430.0M606.2 364.7h6M609.2 364.7V430.0M606.5 357.9h6M609.5 357.9V430.0M606.7 356.1h6M609.7 356.1V430.0M606.9 357.4h6M609.9 357.4V430.0M607.2 359.5h6M610.2 359.5V430.0M607.4 357.3h6M610.4 357.3V430.0M607.6 360.8h6M610.6 360.8V430.0M607.9 367.1h6M610.9 367.1V430.0M608.1 354.9h6M611.1 354.9V430.0M608.3 362.4h6M611.3 362.4V430.0M608.6 359.1h6M611.6 359.1V430.0M608.8 355.4h6M611.8 355.4V430.0M609.0 360.0h6M612.0 360.0V430.0M609.2 351.6h6M612.2 351.6V430.0M609.5 367.9h6M612.5 367.9V430.0"/><polyline fill="none" stroke="none" points="176.5,144.1 184.7,149.2 192.3,153.8 199.5,157.2 206.3,162.2 212.7,165.3 218.8,168.6 224.6,172.0 230.2,175.2 235.5,176.8 240.5,179.4 245.4,181.7 250.1,183.8 254.6,185.7 258.9,187.9 263.1,189.0 267.2,191.5 271.1,192.2 274.9,194.2 278.5,195.0 282.1,195.8 285.6,197.4 289.0,198.6 292.2,199.3 295.4,200.6 298.5,201.7 301.6,202.7 304.5,202.9 307.4,204.1 310.2,205.1 313.0,206.5 315.7,206.8 318.3,208.2 320.9,208.4 323.4,209.7 325.9,209.6 328.3,211.4 330.7,211.3 333.0,212.1 335.3,213.6 337.5,213.8 339.8,214.1 341.9,214.9 344.0,216.3 346.1,216.6 348.2,217.4 350.2,218.1 352.2,218.6 354.1,218.7 356.1,219.7 357.9,220.4 359.8,221.1 361.6,221.5 363.4,222.1 365.2,223.0 367.0,223.1 368.7,224.3 370.4,224.7 372.1,225.2 373.7,225.5 375.4,226.5 377.0,227.0 378.6,227.4 380.2,228.1 381.7,228.6 383.2,229.2 384.8,229.9 386.2,230.4 387.7,231.0 389.2,231.7 390.6,232.0 392.0,233.2 393.4,233.6 394.8,233.7 396.2,234.5 397.6,235.3 398.9,235.7 400.2,236.1 401.6,237.0 402.9,237.3 404.1,238.1 405.4,238.6 406.7,239.2 407.9,239.5 409.2,240.5 410.4,240.9 411.6,241.3 412.8,242.2 414.0,242.9 415.1,243.0 416.3,243.7 417.5,244.3 418.6,244.8 419.7,245.6 420.8,245.7 422.0,246.7 423.0,247.2 424.1,247.9 425.2,248.3 426.3,248.5 427.3,249.3 428.4,249.8 429.4,250.5 430.5,250.7 431.5,251.5 432.5,252.3 433.5,252.5 434.5,253.2 435.5,253.6 436.5,254.2 437.5,254.7 438.4,255.3 439.4,256.0 440.3,256.7 441.3,256.8 442.2,257.5 443.2,257.9 444.1,258.6 445.0,259.4 445.9,259.8 446.8,259.8 447.7,260.8 448.6,261.2 449.5,261.9 450.3,262.3 451.2,262.8 452.1,263.2 452.9,263.7 453.8,264.3 454.6,264.8 455.5,265.2 456.3,265.7 457.1,266.2 457.9,266.4 458.8,267.2 459.6,267.7 460.4,268.3 461.2,268.5 462.0,269.4 462.8,270.0 463.5,270.3 464.3,270.5 465.1,271.3 465.9,271.3 466.6,272.0 467.4,272.8 468.1,273.0 468.9,273.1 469.6,274.1 470.4,274.7 471.1,274.7 471.9,275.0 472.6,275.6 473.3,276.3 474.0,276.7 474.7,277.1 475.4,277.4 476.2,277.7 476.9,278.6 477.6,278.7 478.2,279.5 478.9,279.8 479.6,280.6 480.3,281.0 481.0,281.2 481.7,281.9 482.3,282.0 483.0,282.8 483.7,283.1 484.3,283.6 485.0,284.1 485.6,284.4 486.3,284.6 486.9,284.9 487.6,286.1 488.2,286.2 488.8,286.7 489.5,287.4 490.1,287.5 490.7,288.3 491.4,288.5 492.0,288.6 492.6,289.9 493.2,289.8 493.8,290.2 494.4,291.0 495.0,291.1 495.6,291.5 496.2,292.2 496.8,292.2 497.4,293.4 498.0,293.3 498.6,294.0 499.2,294.7 499.7,294.9 500.3,295.4 500.9,295.5 501.5,296.6 502.0,296.7 502.6,297.2 503.2,297.0 503.7,298.3 504.3,298.1 504.8,299.4 505.4,299.2 506.0,299.8 506.5,300.1 507.0,300.9 507.6,301.7 508.1,302.1 508.7,301.6 509.2,302.4 509.7,303.2 510.3,303.0 510.8,304.1 511.3,304.5 511.9,305.1 512.4,304.7 512.9,304.9 513.4,306.4 513.9,306.3 514.4,306.5 515.0,306.6 515.5,308.5 516.0,308.1 516.5,308.4 517.0,309.6 517.5,309.3 518.0,309.8 518.5,310.0 519.0,311.0 519.5,311.0 520.0,311.9 520.4,311.8 520.9,312.4 521.4,313.0 521.9,313.9 522.4,312.9 522.9,313.6 523.3,314.1 523.8,315.2 524.3,315.5 524.8,314.9 525.2,315.8 525.7,316.9 526.2,316.9 526.6,317.2 527.1,317.8 527.6,318.6 528.0,317.9 528.5,318.6 528.9,319.4 529.4,320.5 529.8,320.4 530.3,320.5 530.7,320.4 531.2,321.5 531.6,321.0 532.1,321.9 532.5,322.8 532.9,323.8 533.4,323.9 533.8,324.4 534.3,324.0 534.7,324.1 535.1,323.9 535.6,325.1 536.0,326.2 536.4,324.7 536.8,326.0 537.3,326.7 537.7,327.1 538.1,328.2 538.5,327.3 539.0,327.8 539.4,327.4 539.8,328.1 540.2,328.6 540.6,328.7 541.0,330.1 541.4,330.6 541.8,330.7 542.3,331.9 542.7,331.5 543.1,332.0 543.5,331.6 543.9,332.5 544.3,334.2 544.7,333.1 545.1,332.5 545.5,335.3 545.9,334.8 546.3,334.6 546.7,336.0 547.0,335.8 547.4,335.6 547.8,337.1 548.2,336.2 548.6,336.4 549.0,338.2 549.4,337.4 549.8,336.9 550.1,338.3 550.5,338.2 550.9,338.3 551.3,339.5 551.7,338.7 552.0,339.6 552.4,341.3 552.8,340.2 553.1,340.2 553.5,340.6 553.9,342.4 554.3,341.6 554.6,341.1 555.0,342.6 555.4,342.0 555.7,342.2 556.1,343.9 556.5,343.5 556.8,344.9 557.2,343.8 557.5,345.4 557.9,346.2 558.2,346.0 558.6,346.4 559.0,346.3 559.3,346.5 559.7,348.8 560.0,348.5 560.4,347.7 560.7,347.9 561.1,348.7 561.4,347.1 561.8,348.2 562.1,350.0 562.5,349.3 562.8,348.9 563.1,350.5 563.5,353.7 563.8,351.5 564.2,352.0 564.5,350.2 564.8,355.3 565.2,351.0 565.5,353.7 565.8,352.5 566.2,354.6 566.5,354.3 566.8,353.3 567.2,355.1 567.5,354.1 567.8,356.1 568.2,357.0 568.5,357.0 568.8,357.9 569.1,357.6 569.5,355.7 569.8,360.1 570.1,361.3 570.4,358.9 570.8,356.6 571.1,357.9 571.4,357.8 571.7,358.3 572.0,362.0 572.4,360.9 572.7,365.0 573.0,362.9 573.3,361.1 573.6,365.5 573.9,366.7 574.3,365.8 574.6,363.2 574.9,361.8 575.2,361.2 575.5,362.0 575.8,368.2 576.1,369.5 576.4,365.5 576.7,364.0 577.0,370.0 577.3,367.9 577.6,368.1 577.9,367.4 578.2,368.2 578.5,367.0 578.8,366.2 579.1,368.6 579.4,367.4 579.7,365.8 580.0,372.1 580.3,372.5 580.6,369.1 580.9,366.9 581.2,370.5 581.5,368.6 581.8,372.2 582.1,369.5 582.4,373.6 582.7,370.6 583.0,371.5 583.3,371.7 583.6,369.6 583.9,370.6 584.1,375.1 584.4,371.5 584.7,378.8 585.0,371.6 585.3,370.3 585.6,373.2 585.9,373.5 586.1,374.9 586.4,373.0 586.7,376.7 587.0,373.8 587.3,376.6 587.5,377.3 587.8,375.9 588.1,376.6 588.4,382.0 588.7,372.4 588.9,376.5 589.2,382.5 589.5,374.2 589.8,377.6 590.0,377.0 590.3,375.7 590.6,380.8 590.9,385.0 591.1,378.6 591.4,377.7 591.7,375.6 591.9,381.2 592.2,379.7 592.5,377.8 592.7,380.2 593.0,380.1 593.3,378.6 593.5,383.0 593.8,374.9 594.1,383.0 594.3,379.9 594.6,381.2 594.9,382.7 595.1,378.6 595.4,377.2 595.7,376.0 595.9,378.8 596.2,382.4 596.4,378.1 596.7,386.4 597.0,381.0 597.2,379.6 597.5,379.5 597.7,385.8 598.0,387.4 598.2,376.6 598.5,383.8 598.8,388.4 599.0,386.9 599.3,382.2 599.5,378.3 599.8,382.5 600.0,378.4 600.3,381.8 600.5,381.1 600.8,379.4 601.0,384.4 601.3,382.0 601.5,384.7 601.8,385.8 602.0,381.0 602.3,386.8 602.5,383.3 602.8,386.9 603.0,384.2 603.3,386.1 603.5,380.0 603.7,383.9 604.0,384.0 604.2,378.5 604.5,393.3 604.7,389.4 605.0,393.6 605.2,384.9 605.4,383.3 605.7,382.6 605.9,384.2 606.2,389.1 606.4,379.3 606.6,384.4 606.9,386.8 607.1,390.9 607.4,384.3 607.6,388.2 607.8,388.2 608.1,385.5 608.3,385.6 608.5,390.3 608.8,381.7 609.0,391.5 609.2,392.3 609.5,385.8 609.7,386.7 609.9,387.1 610.2,389.5 610.4,387.5 610.6,390.5 610.9,396.4 611.1,385.0 611.3,393.3 611.6,389.6 611.8,385.4 612.0,388.7 612.2,381.8 612.5,396.4" marker-start="url(#aorange)" marker-mid="url(#aorange)" marker-end="url(#aorange)"/><path fill="none" stroke="#ff0000" stroke-opacity="0.75" stroke-width="1.2" d="M583.0 430.0V575.8M583.3 430.0V575.8M583.6 430.0V575.8M583.9 430.0V575.8M584.1 430.0V575.8M584.4 430.0V575.8M584.7 430.0V575.8M585.0 430.0V575.8M585.3 430.0V575.8M585.6 430.0V575.8M585.9 430.0V575.8M586.1 430.0V575.8M586.4 430.0V575.8M586.7 430.0V575.8M587.0 430.0V575.8M587.3 430.0V575.8M587.5 430.0V575.8M587.8 430.0V575.8M588.1 430.0V575.8M588.4 430.0V575.8M588.7 430.0V575.8M588.9 430.0V575.8M589.2 430.0V575.8M589.5 430.0V575.8M589.8 430.0V575.8M590.0 430.0V575.8M590.3 430.0V575.8M590.6 430.0V575.8M590.9 430.0V575.8M591.1 430.0V575.8M591.4 430.0V575.8M591.7 430.0V575.8M591.9 430.0V575.8M592.2 430.0V575.8M592.5 430.0V575.8M592.7 430.0V575.8M593.0 430.0V575.8M593.3 430.0V575.8M593.5 430.0V575.8M593.8 430.0V575.8M594.1 430.0V575.8M594.3 430.0V575.8M594.6 430.0V575.8"/><path fill="none" stroke="#ff0000" stroke-opacity="1.0" stroke-width="1.2" d="M594.9 430.0V575.8M595.1 430.0V575.8M595.4 430.0V575.8M595.7 430.0V575.8M595.9 430.0V575.8M596.2 430.0V575.8M596.4 430.0V575.8M596.7 430.0V575.8M597.0 430.0V575.8M597.2 430.0V575.8M597.5 430.0V575.8M597.7 430.0V575.8M598.0 430.0V575.8M598.2 430.0V575.8M598.5 430.0V575.8M598.8 430.0V575.8M599.0 430.0V575.8M599.3 430.0V575.8M599.5 430.0V575.8M599.8 430.0V575.8M600.0 430.0V575.8M600.3 430.0V575.8M600.5 430.0V575.8M600.8 430.0V575.8M601.0 430.0V575.8M601.3 430.0V575.8M601.5 430.0V575.8M601.8 430.0V575.8M602.0 430.0V575.8M602.3 430.0V575.8M602.5 430.0V575.8M602.8 430.0V575.8M603.0 430.0V575.8M603.3 430.0V575.8M603.5 430.0V575.8M603.7 430.0V575.8M604.0 430.0V575.8M604.2 430.0V575.8M604.5 430.0V575.8M604.7 430.0V575.8M605.0 430.0V575.8M605.2 430.0V575.8M605.4 430.0V575.8M605.7 430.0V575.8M605.9 430.0V575.8M606.2 430.0V575.8M606.4 430.0V575.8M606.6 430.0V575.8M606.9 430.0V575.8M607.1 430.0V575.8M607.4 430.0V575.8M607.6 430.0V575.8M607.8 430.0V575.8M608.1 430.0V575.8M608.3 430.0V575.8M608.5 430.0V575.8M608.8 430.0V575.8M609.0 430.0V575.8M609.2 430.0V575.8M609.5 430.0V575.8M609.7 430.0V575.8M609.9 430.0V575.8M610.2 430.0V575.8M610.4 430.0V575.8M610.6 430.0V575.8M610.9 430.0V575.8M611.1 430.0V575.8M611.3 430.0V575.8M611.6 430.0V575.8M611.8 430.0V575.8M612.0 430.0V575.8M612.2 430.0V575.8M612.5 430.0V575.8"/><path fill="none" stroke="#ff0000" stroke-width="1.0" d="M176.5 143.7V152.9m-3 0h6M173.5 143.7h6M184.7 148.1V157.1m-3 0h6M181.7 148.1h6M192.3 152.3V159.9m-3 0h6M189.3 152.3h6M199.5 157.0V165.0m-3 0h6M196.5 157.0h6M206.3 161.8V168.5m-3 0h6M203.3 161.8h6M212.7 164.1V169.6m-3 0h6M209.7 164.1h6M218.8 168.7V173.0m-3 0h6M215.8 168.7h6M224.6 170.9V175.2m-3 0h6M221.6 170.9h6M230.2 172.9V176.8m-3 0h6M227.2 172.9h6M235.5 175.2V180.6m-3 0h6M232.5 175.2h6M240.5 177.6V181.7m-3 0h6M237.5 177.6h6M245.4 179.4V182.5m-3 0h6M242.4 179.4h6M250.1 181.4V184.4M254.6 182.0V186.4m-3 0h6M251.6 182.0h6M258.9 184.7V187.6M263.1 185.2V188.9m-3 0h6M260.1 185.2h6M267.2 186.9V190.3m-3 0h6M264.2 186.9h6M271.1 187.8V191.9m-3 0h6M268.1 187.8h6M274.9 188.2V191.0M278.5 189.2V192.9m-3 0h6M275.5 189.2h6M282.1 190.1V193.5m-3 0h6M279.1 190.1h6M285.6 191.4V195.3m-3 0h6M282.6 191.4h6M289.0 191.7V196.0m-3 0h6M286.0 191.7h6M292.2 193.0V196.3m-3 0h6M289.2 193.0h6M295.4 194.2V197.4m-3 0h6M292.4 194.2h6M298.5 194.0V197.9m-3 0h6M295.5 194.0h6M301.6 195.7V198.2M304.5 195.8V199.2m-3 0h6M301.5 195.8h6M307.4 197.2V199.9M310.2 197.3V199.8M313.0 198.1V200.5M315.7 198.9V201.2M318.3 199.1V203.0m-3 0h6M315.3 199.1h6M320.9 199.7V203.6m-3 0h6M317.9 199.7h6M323.4 200.2V203.5m-3 0h6M320.4 200.2h6M325.9 200.8V204.9m-3 0h6M322.9 200.8h6M328.3 201.7V205.0m-3 0h6M325.3 201.7h6M330.7 202.6V205.6M333.0 203.7V206.3M335.3 203.2V207.0m-3 0h6M332.3 203.2h6M337.5 204.6V208.5m-3 0h6M334.5 204.6h6M339.8 204.6V208.8m-3 0h6M336.8 204.6h6M341.9 206.0V208.8M344.0 206.8V210.0m-3 0h6M341.0 206.8h6M346.1 207.4V209.9M348.2 207.2V211.4m-3 0h6M345.2 207.2h6M350.2 208.1V211.9m-3 0h6M347.2 208.1h6M352.2 209.0V212.7m-3 0h6M349.2 209.0h6M354.1 209.6V212.9m-3 0h6M351.1 209.6h6M356.1 210.2V213.4m-3 0h6M353.1 210.2h6M357.9 211.1V214.1m-3 0h6M354.9 211.1h6M359.8 210.9V215.1m-3 0h6M356.8 210.9h6M361.6 212.3V215.2M363.4 212.5V216.4m-3 0h6M360.4 212.5h6M365.2 213.2V216.7m-3 0h6M362.2 213.2h6M367.0 214.6V217.3M368.7 215.3V217.8M370.4 215.6V218.5M372.1 216.0V219.3m-3 0h6M369.1 216.0h6M373.7 216.8V219.4M375.4 217.0V220.7m-3 0h6M372.4 217.0h6M377.0 217.6V221.7m-3 0h6M374.0 217.6h6M378.6 218.4V222.1m-3 0h6M375.6 218.4h6M380.2 219.7V222.1M381.7 220.5V222.6M383.2 220.3V224.2m-3 0h6M380.2 220.3h6M384.8 220.4V224.9m-3 0h6M381.8 220.4h6M386.2 221.9V225.0m-3 0h6M383.2 221.9h6M387.7 222.2V225.9m-3 0h6M384.7 222.2h6M389.2 223.0V226.2m-3 0h6M386.2 223.0h6M390.6 223.8V226.8M392.0 223.8V227.9m-3 0h6M389.0 223.8h6M393.4 225.2V228.2m-3 0h6M390.4 225.2h6M394.8 225.0V229.0m-3 0h6M391.8 225.0h6M396.2 225.3V230.1m-3 0h6M393.2 225.3h6M397.6 226.5V229.8m-3 0h6M394.6 226.5h6M398.9 226.4V231.3m-3 0h6M395.9 226.4h6M400.2 228.4V231.0M401.6 227.7V231.8m-3 0h6M398.6 227.7h6M402.9 228.9V232.3m-3 0h6M399.9 228.9h6M404.1 228.4V234.0m-3 0h6M401.1 228.4h6M405.4 230.3V233.8m-3 0h6M402.4 230.3h6M406.7 230.8V233.7M407.9 230.6V235.2m-3 0h6M404.9 230.6h6M409.2 232.3V234.8M410.4 232.2V235.9m-3 0h6M407.4 232.2h6M411.6 233.0V235.9M412.8 233.1V237.6m-3 0h6M409.8 233.1h6M414.0 234.3V237.6m-3 0h6M411.0 234.3h6M415.1 234.2V238.2m-3 0h6M412.1 234.2h6M416.3 235.2V238.6m-3 0h6M413.3 235.2h6M417.5 236.2V238.9M418.6 236.7V238.9M419.7 236.2V241.1m-3 0h6M416.7 236.2h6M420.8 237.5V241.0m-3 0h6M417.8 237.5h6M422.0 238.4V241.1M423.0 238.8V242.0m-3 0h6M420.0 238.8h6M424.1 238.8V243.0m-3 0h6M421.1 238.8h6M425.2 240.1V242.7M426.3 239.5V244.9m-3 0h6M423.3 239.5h6M427.3 240.9V244.2m-3 0h6M424.3 240.9h6M428.4 241.4V244.6m-3 0h6M425.4 241.4h6M429.4 241.4V245.8m-3 0h6M426.4 241.4h6M430.5 242.3V245.9m-3 0h6M427.5 242.3h6M431.5 243.2V246.0M432.5 243.2V247.3m-3 0h6M429.5 243.2h6M433.5 243.9V247.6m-3 0h6M430.5 243.9h6M434.5 244.3V248.6m-3 0h6M431.5 244.3h6M435.5 245.5V248.4M436.5 245.9V248.6M437.5 246.3V250.3m-3 0h6M434.5 246.3h6M438.4 246.8V250.0m-3 0h6M435.4 246.8h6M439.4 247.6V249.9M440.3 248.3V251.4m-3 0h6M437.3 248.3h6M441.3 247.9V251.8m-3 0h6M438.3 247.9h6M442.2 249.4V252.4m-3 0h6M439.2 249.4h6M443.2 248.8V253.4m-3 0h6M440.2 248.8h6M444.1 249.8V253.0m-3 0h6M441.1 249.8h6M445.0 250.2V253.7m-3 0h6M442.0 250.2h6M445.9 251.6V254.1M446.8 251.9V254.9m-3 0h6M443.8 251.9h6M447.7 252.3V255.7m-3 0h6M444.7 252.3h6M448.6 252.1V256.1m-3 0h6M445.6 252.1h6M449.5 253.0V256.7m-3 0h6M446.5 253.0h6M450.3 253.1V257.5m-3 0h6M447.3 253.1h6M451.2 254.6V256.9M452.1 254.4V258.0m-3 0h6M449.1 254.4h6M452.9 255.0V258.4m-3 0h6M449.9 255.0h6M453.8 255.8V258.7M454.6 256.3V259.9m-3 0h6M451.6 256.3h6M455.5 256.5V259.6m-3 0h6M452.5 256.5h6M456.3 257.2V261.1m-3 0h6M453.3 257.2h6M457.1 257.4V260.8m-3 0h6M454.1 257.4h6M457.9 257.9V261.9m-3 0h6M454.9 257.9h6M458.8 258.8V261.8m-3 0h6M455.8 258.8h6M459.6 258.6V263.3m-3 0h6M456.6 258.6h6M460.4 259.4V263.3m-3 0h6M457.4 259.4h6M461.2 259.2V264.4m-3 0h6M458.2 259.2h6M462.0 260.5V264.1m-3 0h6M459.0 260.5h6M462.8 261.3V264.6m-3 0h6M459.8 261.3h6M463.5 261.2V265.0m-3 0h6M460.5 261.2h6M464.3 262.2V265.5m-3 0h6M461.3 262.2h6M465.1 262.5V265.5M465.9 262.9V266.6m-3 0h6M462.9 262.9h6M466.6 263.5V267.2m-3 0h6M463.6 263.5h6M467.4 264.0V267.2m-3 0h6M464.4 264.0h6M468.1 264.3V267.7m-3 0h6M465.1 264.3h6M468.9 265.3V268.4m-3 0h6M465.9 265.3h6M469.6 265.3V269.1m-3 0h6M466.6 265.3h6M470.4 265.9V268.8M471.1 265.7V271.0m-3 0h6M468.1 265.7h6M471.9 266.9V270.7m-3 0h6M468.9 266.9h6M472.6 266.8V271.3m-3 0h6M469.6 266.8h6M473.3 268.3V271.3M474.0 268.4V272.5m-3 0h6M471.0 268.4h6M474.7 269.0V272.7m-3 0h6M471.7 269.0h6M475.4 268.6V273.3m-3 0h6M472.4 268.6h6M476.2 269.1V273.6m-3 0h6M473.2 269.1h6M476.9 270.4V273.2M477.6 269.9V274.8m-3 0h6M474.6 269.9h6M478.2 271.7V274.6M478.9 270.7V275.8m-3 0h6M475.9 270.7h6M479.6 271.6V275.5m-3 0h6M476.6 271.6h6M480.3 272.9V276.0m-3 0h6M477.3 272.9h6M481.0 272.3V276.8m-3 0h6M478.0 272.3h6M481.7 273.4V277.3m-3 0h6M478.7 273.4h6M482.3 274.0V277.3m-3 0h6M479.3 274.0h6M483.0 274.4V277.8m-3 0h6M480.0 274.4h6M483.7 274.8V279.2m-3 0h6M480.7 274.8h6M484.3 275.2V278.3m-3 0h6M481.3 275.2h6M485.0 276.1V279.5m-3 0h6M482.0 276.1h6M485.6 275.2V281.1m-3 0h6M482.6 275.2h6M486.3 276.9V280.4m-3 0h6M483.3 276.9h6M486.9 276.7V281.1m-3 0h6M483.9 276.7h6M487.6 277.2V281.6m-3 0h6M484.6 277.2h6M488.2 277.5V282.5m-3 0h6M485.2 277.5h6M488.8 277.6V282.5m-3 0h6M485.8 277.6h6M489.5 279.5V282.0M490.1 279.6V283.3m-3 0h6M487.1 279.6h6M490.7 279.7V285.0m-3 0h6M487.7 279.7h6M491.4 280.6V284.1m-3 0h6M488.4 280.6h6M492.0 279.9V285.9m-3 0h6M489.0 279.9h6M492.6 281.2V285.7m-3 0h6M489.6 281.2h6M493.2 282.2V285.6m-3 0h6M490.2 282.2h6M493.8 281.6V286.4m-3 0h6M490.8 281.6h6M494.4 281.2V287.6m-3 0h6M491.4 281.2h6M495.0 282.7V286.5m-3 0h6M492.0 282.7h6M495.6 282.8V287.6m-3 0h6M492.6 282.8h6M496.2 284.4V288.0m-3 0h6M493.2 284.4h6M496.8 284.4V288.3m-3 0h6M493.8 284.4h6M497.4 285.1V289.6m-3 0h6M494.4 285.1h6M498.0 284.7V289.6m-3 0h6M495.0 284.7h6M498.6 285.4V290.1m-3 0h6M495.6 285.4h6M499.2 286.2V290.9m-3 0h6M496.2 286.2h6M499.7 285.3V292.6m-3 0h6M496.7 285.3h6M500.3 287.5V291.1m-3 0h6M497.3 287.5h6M500.9 288.3V291.4m-3 0h6M497.9 288.3h6M501.5 287.2V292.3m-3 0h6M498.5 287.2h6M502.0 287.7V292.5m-3 0h6M499.0 287.7h6M502.6 289.1V292.5m-3 0h6M499.6 289.1h6M503.2 288.0V294.6m-3 0h6M500.2 288.0h6M503.7 289.9V294.0m-3 0h6M500.7 289.9h6M504.3 290.8V294.3m-3 0h6M501.3 290.8h6M504.8 289.8V295.0m-3 0h6M501.8 289.8h6M505.4 290.8V296.3m-3 0h6M502.4 290.8h6M506.0 290.0V297.7m-3 0h6M503.0 290.0h6M506.5 292.6V296.1m-3 0h6M503.5 292.6h6M507.0 292.6V296.4m-3 0h6M504.0 292.6h6M507.6 292.9V297.5m-3 0h6M504.6 292.9h6M508.1 293.2V297.7m-3 0h6M505.1 293.2h6M508.7 294.2V299.1m-3 0h6M505.7 294.2h6M509.2 294.5V298.8m-3 0h6M506.2 294.5h6M509.7 294.6V298.3m-3 0h6M506.7 294.6h6M510.3 295.6V300.2m-3 0h6M507.3 295.6h6M510.8 295.3V301.2m-3 0h6M507.8 295.3h6M511.3 294.9V300.9m-3 0h6M508.3 294.9h6M511.9 296.4V300.9m-3 0h6M508.9 296.4h6M512.4 296.0V301.8m-3 0h6M509.4 296.0h6M512.9 297.8V303.5m-3 0h6M509.9 297.8h6M513.4 297.7V302.5m-3 0h6M510.4 297.7h6M513.9 298.7V303.7m-3 0h6M510.9 298.7h6M514.4 299.0V304.4m-3 0h6M511.4 299.0h6M515.0 296.8V306.4m-3 0h6M512.0 296.8h6M515.5 298.7V304.3m-3 0h6M512.5 298.7h6M516.0 300.8V305.4m-3 0h6M513.0 300.8h6M516.5 300.7V306.1m-3 0h6M513.5 300.7h6M517.0 301.1V306.1m-3 0h6M514.0 301.1h6M517.5 300.3V307.4m-3 0h6M514.5 300.3h6M518.0 302.9V306.6m-3 0h6M515.0 302.9h6M518.5 301.5V306.1m-3 0h6M515.5 301.5h6M519.0 301.4V308.3m-3 0h6M516.0 301.4h6M519.5 302.5V308.9m-3 0h6M516.5 302.5h6M520.0 303.3V309.2m-3 0h6M517.0 303.3h6M520.4 302.2V309.0m-3 0h6M517.4 302.2h6M520.9 303.6V308.2m-3 0h6M517.9 303.6h6M521.4 304.3V310.8m-3 0h6M518.4 304.3h6M521.9 305.0V309.9m-3 0h6M518.9 305.0h6M522.4 305.0V309.8m-3 0h6M519.4 305.0h6M522.9 305.8V312.6m-3 0h6M519.9 305.8h6M523.3 306.6V311.9m-3 0h6M520.3 306.6h6M523.8 305.7V311.6m-3 0h6M520.8 305.7h6M524.3 306.6V313.9m-3 0h6M521.3 306.6h6M524.8 307.8V313.0m-3 0h6M521.8 307.8h6M525.2 307.8V315.2m-3 0h6M522.2 307.8h6M525.7 306.5V316.9m-3 0h6M522.7 306.5h6M526.2 307.9V314.3m-3 0h6M523.2 307.9h6M526.6 308.4V316.5m-3 0h6M523.6 308.4h6M527.1 309.2V317.1m-3 0h6M524.1 309.2h6M527.6 310.4V315.7m-3 0h6M524.6 310.4h6M528.0 309.4V314.7m-3 0h6M525.0 309.4h6M528.5 309.9V316.9m-3 0h6M525.5 309.9h6M528.9 311.9V316.5m-3 0h6M525.9 311.9h6M529.4 310.6V317.8m-3 0h6M526.4 310.6h6M529.8 310.6V318.3m-3 0h6M526.8 310.6h6M530.3 311.0V319.1m-3 0h6M527.3 311.0h6M530.7 312.7V320.8m-3 0h6M527.7 312.7h6M531.2 310.9V320.7m-3 0h6M528.2 310.9h6M531.6 312.9V319.9m-3 0h6M528.6 312.9h6M532.1 311.2V321.3m-3 0h6M529.1 311.2h6M532.5 313.7V322.4m-3 0h6M529.5 313.7h6M532.9 312.4V321.1m-3 0h6M529.9 312.4h6M533.4 314.3V322.0m-3 0h6M530.4 314.3h6M533.8 314.7V324.4m-3 0h6M530.8 314.7h6M534.3 314.1V321.1m-3 0h6M531.3 314.1h6M534.7 314.7V324.2m-3 0h6M531.7 314.7h6M535.1 314.0V324.4m-3 0h6M532.1 314.0h6M535.6 316.1V323.4m-3 0h6M532.6 316.1h6M536.0 315.7V322.7m-3 0h6M533.0 315.7h6M536.4 315.9V323.3m-3 0h6M533.4 315.9h6M536.8 315.6V324.3m-3 0h6M533.8 315.6h6M537.3 315.9V325.5m-3 0h6M534.3 315.9h6M537.7 317.6V328.3m-3 0h6M534.7 317.6h6M538.1 316.9V330.3m-3 0h6M535.1 316.9h6M538.5 316.0V328.8m-3 0h6M535.5 316.0h6M539.0 318.6V328.4m-3 0h6M536.0 318.6h6M539.4 318.3V327.0m-3 0h6M536.4 318.3h6M539.8 319.4V326.9m-3 0h6M536.8 319.4h6M540.2 319.4V330.8m-3 0h6M537.2 319.4h6M540.6 319.6V330.5m-3 0h6M537.6 319.6h6M541.0 320.7V330.1m-3 0h6M538.0 320.7h6M541.4 320.7V330.5m-3 0h6M538.4 320.7h6M541.8 320.4V330.4m-3 0h6M538.8 320.4h6M542.3 321.7V327.8m-3 0h6M539.3 321.7h6M542.7 319.6V329.9m-3 0h6M539.7 319.6h6M543.1 321.6V332.9m-3 0h6M540.1 321.6h6M543.5 321.9V332.4m-3 0h6M540.5 321.9h6M543.9 321.1V329.9m-3 0h6M540.9 321.1h6M544.3 321.0V332.2m-3 0h6M541.3 321.0h6M544.7 321.4V333.8m-3 0h6M541.7 321.4h6M545.1 322.2V338.7m-3 0h6M542.1 322.2h6M545.5 322.5V336.9m-3 0h6M542.5 322.5h6M545.9 322.2V335.4m-3 0h6M542.9 322.2h6M546.3 323.9V335.7m-3 0h6M543.3 323.9h6M546.7 323.1V332.3m-3 0h6M543.7 323.1h6M547.0 324.2V335.3m-3 0h6M544.0 324.2h6M547.4 325.1V334.5m-3 0h6M544.4 325.1h6M547.8 325.6V338.0m-3 0h6M544.8 325.6h6M548.2 324.5V340.5m-3 0h6M545.2 324.5h6M548.6 324.3V340.5m-3 0h6M545.6 324.3h6M549.0 324.8V340.7m-3 0h6M546.0 324.8h6M549.4 325.7V339.1m-3 0h6M546.4 325.7h6M549.8 324.1V340.8m-3 0h6M546.8 324.1h6M550.1 326.0V339.1m-3 0h6M547.1 326.0h6M550.5 327.1V336.5m-3 0h6M547.5 327.1h6M550.9 327.9V342.6m-3 0h6M547.9 327.9h6M551.3 326.5V341.1m-3 0h6M548.3 326.5h6M551.7 328.6V338.9m-3 0h6M548.7 328.6h6M552.0 326.1V339.5m-3 0h6M549.0 326.1h6M552.4 330.4V339.5m-3 0h6M549.4 330.4h6M552.8 328.1V342.0m-3 0h6M549.8 328.1h6M553.1 327.4V347.6m-3 0h6M550.1 327.4h6M553.5 328.7V342.6m-3 0h6M550.5 328.7h6M553.9 326.3V347.6m-3 0h6M550.9 326.3h6M554.3 329.4V346.7m-3 0h6M551.3 329.4h6M554.6 330.7V345.0m-3 0h6M551.6 330.7h6M555.0 331.6V343.4m-3 0h6M552.0 331.6h6M555.4 327.9V348.1m-3 0h6M552.4 327.9h6M555.7 330.6V350.8m-3 0h6M552.7 330.6h6M556.1 331.0V344.1m-3 0h6M553.1 331.0h6M556.5 331.6V348.2m-3 0h6M553.5 331.6h6M556.8 326.8V350.2m-3 0h6M553.8 326.8h6M557.2 330.2V346.2m-3 0h6M554.2 330.2h6M557.5 331.3V352.1m-3 0h6M554.5 331.3h6M557.9 335.1V348.0m-3 0h6M554.9 335.1h6M558.2 330.9V347.1m-3 0h6M555.2 330.9h6M558.6 330.1V353.5m-3 0h6M555.6 330.1h6M559.0 333.3V349.2m-3 0h6M556.0 333.3h6M559.3 335.4V350.7m-3 0h6M556.3 335.4h6M559.7 335.2V350.9m-3 0h6M556.7 335.2h6M560.0 332.6V352.4m-3 0h6M557.0 332.6h6M560.4 334.8V350.5m-3 0h6M557.4 334.8h6M560.7 335.2V357.0m-3 0h6M557.7 335.2h6M561.1 331.0V356.7m-3 0h6M558.1 331.0h6M561.4 330.8V363.3m-3 0h6M558.4 330.8h6M561.8 336.7V358.3m-3 0h6M558.8 336.7h6M562.1 329.9V364.3m-3 0h6M559.1 329.9h6M562.5 334.2V361.8m-3 0h6M559.5 334.2h6M562.8 334.3V358.0m-3 0h6M559.8 334.3h6M563.1 335.4V363.8m-3 0h6M560.1 335.4h6M563.5 331.9V368.3m-3 0h6M560.5 331.9h6M563.8 335.7V372.7m-3 0h6M560.8 335.7h6M564.2 334.0V365.7m-3 0h6M561.2 334.0h6M564.5 339.4V366.1m-3 0h6M561.5 339.4h6M564.8 334.6V368.1m-3 0h6M561.8 334.6h6M565.2 340.0V369.8m-3 0h6M562.2 340.0h6M565.5 336.8V366.8m-3 0h6M562.5 336.8h6M565.8 335.4V366.6m-3 0h6M562.8 335.4h6M566.2 332.3V378.8m-3 0h6M563.2 332.3h6M566.5 337.7V361.1m-3 0h6M563.5 337.7h6M566.8 340.2V370.9m-3 0h6M563.8 340.2h6M567.2 337.2V362.1m-3 0h6M564.2 337.2h6M567.5 333.2V373.1m-3 0h6M564.5 333.2h6M567.8 338.4V381.7m-3 0h6M564.8 338.4h6M568.2 337.0V384.3m-3 0h6M565.2 337.0h6M568.5 340.8V372.6m-3 0h6M565.5 340.8h6M568.8 338.9V374.6m-3 0h6M565.8 338.9h6M569.1 336.9V380.4m-3 0h6M566.1 336.9h6M569.5 343.2V381.6m-3 0h6M566.5 343.2h6M569.8 337.5V377.8m-3 0h6M566.8 337.5h6M570.1 339.8V380.0m-3 0h6M567.1 339.8h6M570.4 341.5V383.4m-3 0h6M567.4 341.5h6M570.8 338.1V377.0m-3 0h6M567.8 338.1h6M571.1 339.8V385.5m-3 0h6M568.1 339.8h6M571.4 341.0V370.6m-3 0h6M568.4 341.0h6M571.7 340.2V378.7m-3 0h6M568.7 340.2h6M572.0 344.4V376.1m-3 0h6M569.0 344.4h6M572.4 338.1V381.8m-3 0h6M569.4 338.1h6M572.7 340.6V378.7m-3 0h6M569.7 340.6h6M573.0 340.6V395.0m-3 0h6M570.0 340.6h6M573.3 341.5V412.0m-3 0h6M570.3 341.5h6M573.6 345.5V381.4m-3 0h6M570.6 345.5h6M573.9 341.5V382.7m-3 0h6M570.9 341.5h6M574.3 340.8V397.6m-3 0h6M571.3 340.8h6M574.6 332.6V420.5m-3 0h6M571.6 332.6h6M574.9 338.2V407.8m-3 0h6M571.9 338.2h6M575.2 339.5V403.5m-3 0h6M572.2 339.5h6M575.5 340.4V396.8m-3 0h6M572.5 340.4h6M575.8 345.1V396.9m-3 0h6M572.8 345.1h6M576.1 340.5V409.4m-3 0h6M573.1 340.5h6M576.4 341.7V416.0m-3 0h6M573.4 341.7h6M576.7 346.5V414.4m-3 0h6M573.7 346.5h6M577.0 348.5V403.7m-3 0h6M574.0 348.5h6M577.3 343.8V386.8m-3 0h6M574.3 343.8h6M577.6 345.2V399.0m-3 0h6M574.6 345.2h6M577.9 342.8V406.8m-3 0h6M574.9 342.8h6M578.2 349.3V401.2m-3 0h6M575.2 349.3h6M578.5 341.9V432.5m-3 0h6M575.5 341.9h6M578.8 343.2V394.0m-3 0h6M575.8 343.2h6M579.1 341.8V416.5m-3 0h6M576.1 341.8h6M579.4 341.5V448.9m-3 0h6M576.4 341.5h6M579.7 334.7V474.5m-3 0h6M576.7 334.7h6M580.0 340.3V453.6m-3 0h6M577.0 340.3h6M580.3 340.7V480.5m-3 0h6M577.3 340.7h6M580.6 339.4V419.2m-3 0h6M577.6 339.4h6M580.9 349.2V426.2m-3 0h6M577.9 349.2h6M581.2 338.5V478.3m-3 0h6M578.2 338.5h6M581.5 347.2V426.7m-3 0h6M578.5 347.2h6M581.8 343.5V473.1m-3 0h6M578.8 343.5h6M582.1 348.2V410.8m-3 0h6M579.1 348.2h6M582.4 340.7V480.5m-3 0h6M579.4 340.7h6M582.7 340.9V480.7m-3 0h6M579.7 340.9h6M580.0 335.7h6M583.0 335.7V430.0M580.3 337.2h6M583.3 337.2V430.0M580.6 331.3h6M583.6 331.3V430.0M580.9 330.6h6M583.9 330.6V430.0M581.1 332.2h6M584.1 332.2V430.0M581.4 331.2h6M584.4 331.2V430.0M581.7 337.8h6M584.7 337.8V430.0M582.0 341.4h6M585.0 341.4V430.0M582.3 335.5h6M585.3 335.5V430.0M582.6 337.7h6M585.6 337.7V430.0M582.9 336.3h6M585.9 336.3V430.0M583.1 346.1h6M586.1 346.1V430.0M583.4 332.4h6M586.4 332.4V430.0M583.7 344.9h6M586.7 344.9V430.0M584.0 339.7h6M587.0 339.7V430.0M584.3 332.9h6M587.3 332.9V430.0M584.5 345.0h6M587.5 345.0V430.0M584.8 339.6h6M587.8 339.6V430.0M585.1 344.9h6M588.1 344.9V430.0M585.4 344.9h6M588.4 344.9V430.0M585.7 345.9h6M588.7 345.9V430.0M585.9 339.3h6M588.9 339.3V430.0M586.2 339.6h6M589.2 339.6V430.0M586.5 341.2h6M589.5 341.2V430.0M586.8 335.2h6M589.8 335.2V430.0M587.0 334.9h6M590.0 334.9V430.0M587.3 340.2h6M590.3 340.2V430.0M587.6 341.8h6M590.6 341.8V430.0M587.9 339.9h6M590.9 339.9V430.0M588.1 342.8h6M591.1 342.8V430.0M588.4 336.5h6M591.4 336.5V430.0M588.7 338.6h6M591.7 338.6V430.0M588.9 343.8h6M591.9 343.8V430.0M589.2 342.3h6M592.2 342.3V430.0M589.5 336.7h6M592.5 336.7V430.0M589.7 343.2h6M592.7 343.2V430.0M590.0 338.0h6M593.0 338.0V430.0M590.3 342.4h6M593.3 342.4V430.0M590.5 337.5h6M593.5 337.5V430.0M590.8 337.8h6M593.8 337.8V430.0M591.1 349.7h6M594.1 349.7V430.0M591.3 343.7h6M594.3 343.7V430.0M591.6 340.3h6M594.6 340.3V430.0M591.9 343.5h6M594.9 343.5V430.0M592.1 339.0h6M595.1 339.0V430.0M592.4 341.9h6M595.4 341.9V430.0M592.7 341.7h6M595.7 341.7V430.0M592.9 340.7h6M595.9 340.7V430.0M593.2 342.4h6M596.2 342.4V430.0M593.4 339.0h6M596.4 339.0V430.0M593.7 352.5h6M596.7 352.5V430.0M594.0 349.3h6M597.0 349.3V430.0M594.2 347.0h6M597.2 347.0V430.0M594.5 338.6h6M597.5 338.6V430.0M594.7 344.3h6M597.7 344.3V430.0M595.0 342.8h6M598.0 342.8V430.0M595.2 344.7h6M598.2 344.7V430.0M595.5 347.6h6M598.5 347.6V430.0M595.8 348.3h6M598.8 348.3V430.0M596.0 339.8h6M599.0 339.8V430.0M596.3 346.7h6M599.3 346.7V430.0M596.5 338.0h6M599.5 338.0V430.0M596.8 342.2h6M599.8 342.2V430.0M597.0 342.6h6M600.0 342.6V430.0M597.3 347.2h6M600.3 347.2V430.0M597.5 348.2h6M600.5 348.2V430.0M597.8 347.0h6M600.8 347.0V430.0M598.0 337.4h6M601.0 337.4V430.0M598.3 339.3h6M601.3 339.3V430.0M598.5 353.4h6M601.5 353.4V430.0M598.8 345.7h6M601.8 345.7V430.0M599.0 340.3h6M602.0 340.3V430.0M599.3 351.4h6M602.3 351.4V430.0M599.5 350.6h6M602.5 350.6V430.0M599.8 350.2h6M602.8 350.2V430.0M600.0 359.7h6M603.0 359.7V430.0M600.3 341.0h6M603.3 341.0V430.0M600.5 347.5h6M603.5 347.5V430.0M600.7 347.6h6M603.7 347.6V430.0M601.0 347.5h6M604.0 347.5V430.0M601.2 344.5h6M604.2 344.5V430.0M601.5 341.0h6M604.5 341.0V430.0M601.7 349.0h6M604.7 349.0V430.0M602.0 344.5h6M605.0 344.5V430.0M602.2 350.4h6M605.2 350.4V430.0M602.4 343.4h6M605.4 343.4V430.0M602.7 350.1h6M605.7 350.1V430.0M602.9 350.3h6M605.9 350.3V430.0M603.2 354.1h6M606.2 354.1V430.0M603.4 354.4h6M606.4 354.4V430.0M603.6 347.3h6M606.6 347.3V430.0M603.9 344.8h6M606.9 344.8V430.0M604.1 346.0h6M607.1 346.0V430.0M604.4 353.9h6M607.4 353.9V430.0M604.6 345.6h6M607.6 345.6V430.0M604.8 362.2h6M607.8 362.2V430.0M605.1 344.2h6M608.1 344.2V430.0M605.3 350.4h6M608.3 350.4V430.0M605.5 347.5h6M608.5 347.5V430.0M605.8 342.9h6M608.8 342.9V430.0M606.0 351.3h6M609.0 351.3V430.0M606.2 345.8h6M609.2 345.8V430.0M606.5 351.7h6M609.5 351.7V430.0M606.7 347.8h6M609.7 347.8V430.0M606.9 352.6h6M609.9 352.6V430.0M607.2 347.4h6M610.2 347.4V430.0M607.4 340.1h6M610.4 340.1V430.0M607.6 355.2h6M610.6 355.2V430.0M607.9 355.9h6M610.9 355.9V430.0M608.1 352.6h6M611.1 352.6V430.0M608.3 347.0h6M611.3 347.0V430.0M608.6 342.5h6M611.6 342.5V430.0M608.8 351.8h6M611.8 351.8V430.0M609.0 367.5h6M612.0 367.5V430.0M609.2 352.9h6M612.2 352.9V430.0M609.5 360.8h6M612.5 360.8V430.0"/><polyline fill="none" stroke="none" points="176.5,148.0 184.7,152.3 192.3,155.9 199.5,160.8 206.3,165.0 212.7,166.7 218.8,170.8 224.6,173.0 230.2,174.8 235.5,177.8 240.5,179.6 245.4,180.9 250.1,182.9 254.6,184.2 258.9,186.1 263.1,187.0 267.2,188.6 271.1,189.8 274.9,189.6 278.5,191.0 282.1,191.8 285.6,193.3 289.0,193.8 292.2,194.6 295.4,195.8 298.5,195.9 301.6,197.0 304.5,197.5 307.4,198.6 310.2,198.5 313.0,199.3 315.7,200.0 318.3,201.0 320.9,201.6 323.4,201.8 325.9,202.8 328.3,203.3 330.7,204.0 333.0,205.0 335.3,205.1 337.5,206.5 339.8,206.7 341.9,207.4 344.0,208.4 346.1,208.6 348.2,209.2 350.2,210.0 352.2,210.8 354.1,211.2 356.1,211.8 357.9,212.6 359.8,212.9 361.6,213.7 363.4,214.4 365.2,214.9 367.0,215.9 368.7,216.6 370.4,217.0 372.1,217.6 373.7,218.1 375.4,218.8 377.0,219.6 378.6,220.2 380.2,220.9 381.7,221.6 383.2,222.2 384.8,222.6 386.2,223.4 387.7,224.0 389.2,224.5 390.6,225.3 392.0,225.8 393.4,226.7 394.8,226.9 396.2,227.6 397.6,228.2 398.9,228.7 400.2,229.7 401.6,229.7 402.9,230.5 404.1,231.1 405.4,232.0 406.7,232.2 407.9,232.8 409.2,233.5 410.4,234.0 411.6,234.4 412.8,235.3 414.0,235.9 415.1,236.1 416.3,236.9 417.5,237.5 418.6,237.8 419.7,238.6 420.8,239.2 422.0,239.7 423.0,240.4 424.1,240.8 425.2,241.4 426.3,242.1 427.3,242.6 428.4,243.0 429.4,243.5 430.5,244.1 431.5,244.6 432.5,245.2 433.5,245.7 434.5,246.4 435.5,246.9 436.5,247.2 437.5,248.3 438.4,248.4 439.4,248.7 440.3,249.8 441.3,249.8 442.2,250.9 443.2,251.0 444.1,251.4 445.0,251.9 445.9,252.8 446.8,253.4 447.7,253.9 448.6,254.1 449.5,254.8 450.3,255.2 451.2,255.7 452.1,256.2 452.9,256.7 453.8,257.2 454.6,258.0 455.5,258.0 456.3,259.1 457.1,259.0 457.9,259.9 458.8,260.3 459.6,260.8 460.4,261.3 461.2,261.7 462.0,262.3 462.8,262.9 463.5,263.0 464.3,263.8 465.1,263.9 465.9,264.7 466.6,265.3 467.4,265.6 468.1,266.0 468.9,266.8 469.6,267.2 470.4,267.3 471.1,268.3 471.9,268.7 472.6,269.0 473.3,269.8 474.0,270.4 474.7,270.8 475.4,270.9 476.2,271.3 476.9,271.8 477.6,272.3 478.2,273.1 478.9,273.2 479.6,273.5 480.3,274.4 481.0,274.5 481.7,275.3 482.3,275.6 483.0,276.1 483.7,277.0 484.3,276.7 485.0,277.8 485.6,278.0 486.3,278.6 486.9,278.8 487.6,279.3 488.2,279.9 488.8,280.0 489.5,280.8 490.1,281.4 490.7,282.3 491.4,282.3 492.0,282.8 492.6,283.4 493.2,283.9 493.8,283.9 494.4,284.3 495.0,284.5 495.6,285.1 496.2,286.2 496.8,286.3 497.4,287.3 498.0,287.1 498.6,287.7 499.2,288.5 499.7,288.8 500.3,289.3 500.9,289.9 501.5,289.7 502.0,290.0 502.6,290.7 503.2,291.1 503.7,291.9 504.3,292.5 504.8,292.3 505.4,293.5 506.0,293.6 506.5,294.3 507.0,294.5 507.6,295.2 508.1,295.4 508.7,296.5 509.2,296.5 509.7,296.4 510.3,297.8 510.8,298.1 511.3,297.8 511.9,298.6 512.4,298.8 512.9,300.5 513.4,300.1 513.9,301.1 514.4,301.6 515.0,301.3 515.5,301.4 516.0,303.0 516.5,303.3 517.0,303.5 517.5,303.7 518.0,304.7 518.5,303.7 519.0,304.7 519.5,305.6 520.0,306.1 520.4,305.4 520.9,305.9 521.4,307.4 521.9,307.4 522.4,307.3 522.9,309.0 523.3,309.1 523.8,308.5 524.3,310.1 524.8,310.3 525.2,311.3 525.7,311.3 526.2,310.9 526.6,312.2 527.1,312.9 527.6,312.9 528.0,311.9 528.5,313.2 528.9,314.1 529.4,314.0 529.8,314.2 530.3,314.8 530.7,316.5 531.2,315.5 531.6,316.2 532.1,315.9 532.5,317.8 532.9,316.5 533.4,318.0 533.8,319.2 534.3,317.4 534.7,319.1 535.1,318.8 535.6,319.6 536.0,319.0 536.4,319.4 536.8,319.7 537.3,320.4 537.7,322.6 538.1,323.0 538.5,321.8 539.0,323.2 539.4,322.3 539.8,322.9 540.2,324.6 540.6,324.7 541.0,325.1 541.4,325.3 541.8,325.0 542.3,324.6 542.7,324.4 543.1,326.8 543.5,326.8 543.9,325.2 544.3,326.1 544.7,327.1 545.1,329.5 545.5,329.0 545.9,328.2 546.3,329.3 546.7,327.4 547.0,329.3 547.4,329.5 547.8,331.3 548.2,331.6 548.6,331.5 549.0,331.9 549.4,331.8 549.8,331.5 550.1,332.0 550.5,331.5 550.9,334.5 551.3,333.1 551.7,333.4 552.0,332.2 552.4,334.7 552.8,334.4 553.1,336.1 553.5,335.0 553.9,335.4 554.3,337.0 554.6,337.2 555.0,337.0 555.4,336.6 555.7,339.3 556.1,337.0 556.5,339.0 556.8,336.6 557.2,337.3 557.5,340.2 557.9,340.9 558.2,338.1 558.6,339.9 559.0,340.4 559.3,342.2 559.7,342.2 560.0,341.2 560.4,341.8 560.7,344.5 561.1,341.6 561.4,343.4 561.8,345.9 562.1,343.1 562.5,345.4 562.8,344.2 563.1,346.9 563.5,345.7 563.8,349.7 564.2,346.4 564.5,350.3 564.8,347.6 565.2,351.9 565.5,348.8 565.8,347.7 566.2,348.5 566.5,347.6 566.8,352.4 567.2,347.6 567.5,347.9 567.8,353.9 568.2,353.4 568.5,353.3 568.8,352.5 569.1,352.4 569.5,357.5 569.8,352.3 570.1,354.5 570.4,356.7 570.8,352.6 571.1,355.8 571.4,352.8 571.7,354.5 572.0,356.8 572.4,353.7 572.7,354.8 573.0,358.3 573.3,361.7 573.6,359.1 573.9,356.5 574.3,359.0 574.6,354.5 574.9,358.3 575.2,358.8 575.5,358.5 575.8,362.3 576.1,360.5 576.4,362.3 576.7,366.4 577.0,366.4 577.3,359.2 577.6,362.8 577.9,362.1 578.2,366.6 578.5,364.1 578.8,360.3 579.1,362.5 579.4,364.6 579.7,358.9 580.0,363.7 580.3,364.8 580.6,360.6 580.9,370.1 581.2,362.7 581.5,368.4 581.8,367.5 582.1,367.3 582.4,364.8 582.7,365.1 583.0,364.7 583.3,365.2 583.6,361.6 583.9,360.9 584.1,364.1 584.4,364.1 584.7,368.1 585.0,371.0 585.3,365.2 585.6,367.2 585.9,364.6 586.1,374.9 586.4,362.3 586.7,373.0 587.0,368.1 587.3,364.9 587.5,374.1 587.8,370.8 588.1,376.7 588.4,374.9 588.7,377.1 588.9,369.0 589.2,368.5 589.5,371.0 589.8,365.3 590.0,365.0 590.3,370.2 590.6,371.2 590.9,371.6 591.1,372.5 591.4,365.9 591.7,370.0 591.9,372.5 592.2,372.2 592.5,369.3 592.7,373.3 593.0,370.5 593.3,372.0 593.5,366.7 593.8,367.6 594.1,378.9 594.3,373.2 594.6,369.7 594.9,374.8 595.1,369.5 595.4,371.6 595.7,370.7 595.9,373.6 596.2,372.1 596.4,371.3 596.7,381.1 597.0,378.3 597.2,379.0 597.5,367.2 597.7,372.9 598.0,372.7 598.2,373.8 598.5,377.2 598.8,378.5 599.0,371.2 599.3,376.9 599.5,368.4 599.8,374.4 600.0,375.0 600.3,376.7 600.5,376.1 600.8,375.7 601.0,369.2 601.3,368.6 601.5,382.5 601.8,375.1 602.0,373.1 602.3,381.5 602.5,380.1 602.8,379.3 603.0,388.3 603.3,373.9 603.5,377.5 603.7,377.8 604.0,377.0 604.2,376.3 604.5,369.7 604.7,376.8 605.0,373.7 605.2,380.9 605.4,376.3 605.7,380.0 605.9,379.2 606.2,383.8 606.4,383.4 606.6,376.3 606.9,374.9 607.1,376.5 607.4,383.0 607.6,377.4 607.8,392.1 608.1,374.4 608.3,379.7 608.5,378.1 608.8,373.6 609.0,382.3 609.2,374.7 609.5,382.7 609.7,377.1 609.9,382.7 610.2,378.6 610.4,372.7 610.6,384.6 610.9,384.5 611.1,382.8 611.3,379.1 611.6,372.0 611.8,384.7 612.0,395.4 612.2,385.5 612.5,392.8" marker-start="url(#ared)" marker-mid="url(#ared)" marker-end="url(#ared)"/><polyline fill="none" stroke="none" points="169.2,1072.4 172.1,1076.1 175.3,1079.6 178.7,1082.9 182.3,1086.0 186.1,1088.8 190.1,1091.6 194.3,1094.2 198.7,1096.6 203.4,1098.9 208.2,1101.2 213.2,1103.3 218.5,1105.3 223.9,1107.3 229.6,1109.1 235.5,1110.9 241.6,1112.6 247.9,1114.3 254.4,1115.9 261.1,1117.4 268.0,1118.9 275.1,1120.4 282.4,1121.8 290.0,1123.1 297.7,1124.4 305.7,1125.7 313.8,1126.9 322.2,1128.1 330.8,1129.2 339.6,1130.4 348.6,1131.4 357.8,1132.5 367.2,1133.5 376.8,1134.5 386.6,1135.5 396.7,1136.5 406.9,1137.4 417.4,1138.3 428.0,1139.2 438.9,1140.1 450.0,1140.9 461.2,1141.7 472.7,1142.6 484.4,1143.4 496.3,1144.1 508.4,1144.9 520.8,1145.6 533.3,1146.4 546.0,1147.1 559.0,1147.8 572.1,1148.5 585.5,1149.2 599.1,1149.8 612.8,1150.5 626.8,1151.1 641.0,1151.8" marker-start="url(#cblue)" marker-mid="url(#cblue)" marker-end="url(#cblue)"/><polyline fill="none" stroke="none" points="169.2,1004.5 172.1,1008.5 175.3,1012.2 178.7,1015.7 182.3,1018.9 186.1,1021.9 190.1,1024.8 194.3,1027.5 198.7,1030.0 203.4,1032.4 208.2,1034.7 213.2,1036.9 218.5,1039.0 223.9,1040.9 229.6,1042.8 235.5,1044.6 241.6,1046.4 247.9,1048.0 254.4,1049.6 261.1,1051.1 268.0,1052.6 275.1,1054.0 282.4,1055.4 290.0,1056.7 297.7,1058.0 305.7,1059.3 313.8,1060.5 322.2,1061.6 330.8,1062.8 339.6,1063.9 348.6,1064.9 357.8,1066.0 367.2,1067.0 376.8,1068.0 386.6,1068.9 396.7,1069.8 406.9,1070.7 417.4,1071.6 428.0,1072.5 438.9,1073.3 450.0,1074.2 461.2,1075.0 472.7,1075.7 484.4,1076.5 496.3,1077.3 508.4,1078.0 520.8,1078.7 533.3,1079.4 546.0,1080.1 559.0,1080.8 572.1,1081.5 585.5,1082.1 599.1,1082.8 612.8,1083.4 626.8,1084.0 641.0,1084.7" marker-start="url(#cgreen)" marker-mid="url(#cgreen)" marker-end="url(#cgreen)"/><polyline fill="none" stroke="none" points="169.2,944.4 172.1,947.9 175.3,951.2 178.7,954.3 182.3,957.1 186.1,959.8 190.1,962.4 194.3,964.8 198.7,967.1 203.4,969.3 208.2,971.3 213.2,973.3 218.5,975.2 223.9,977.0 229.6,978.7 235.5,980.4 241.6,982.0 247.9,983.5 254.4,985.0 261.1,986.4 268.0,987.8 275.1,989.2 282.4,990.5 290.0,991.7 297.7,992.9 305.7,994.1 313.8,995.2 322.2,996.3 330.8,997.4 339.6,998.5 348.6,999.5 357.8,1000.5 367.2,1001.5 376.8,1002.4 386.6,1003.3 396.7,1004.2 406.9,1005.1 417.4,1006.0 428.0,1006.8 438.9,1007.6 450.0,1008.4 461.2,1009.2 472.7,1010.0 484.4,1010.8 496.3,1011.5 508.4,1012.2 520.8,1012.9 533.3,1013.6 546.0,1014.3 559.0,1015.0 572.1,1015.7 585.5,1016.3 599.1,1017.0 612.8,1017.6 626.8,1018.2 641.0,1018.9" marker-start="url(#cyellow)" marker-mid="url(#cyellow)" marker-end="url(#cyellow)"/><polyline fill="none" stroke="none" points="169.2,883.7 172.1,887.6 175.3,891.1 178.7,894.3 182.3,897.2 186.1,899.9 190.1,902.4 194.3,904.6 198.7,906.7 203.4,908.6 208.2,910.3 213.2,912.0 218.5,913.5 223.9,914.9 229.6,916.2 235.5,917.4 241.6,918.5 247.9,919.6 254.4,920.6 261.1,921.6 268.0,922.5 275.1,923.4 282.4,924.2 290.0,925.0 297.7,925.8 305.7,926.5 313.8,927.3 322.2,928.0 330.8,928.7 339.6,929.3 348.6,930.0 357.8,930.6 367.2,931.2 376.8,931.8 386.6,932.4 396.7,933.0 406.9,933.6 417.4,934.2 428.0,934.7 438.9,935.3 450.0,935.8 461.2,936.3 472.7,936.9 484.4,937.4 496.3,937.9 508.4,938.4 520.8,938.9 533.3,939.4 546.0,939.9 559.0,940.4 572.1,940.9 585.5,941.4 599.1,941.9 612.8,942.4 626.8,942.9 641.0,943.4" marker-start="url(#corange)" marker-mid="url(#corange)" marker-end="url(#corange)"/><polyline fill="none" stroke="none" points="169.2,824.1 172.1,827.7 175.3,831.0 178.7,834.0 182.3,836.6 186.1,839.0 190.1,841.1 194.3,843.1 198.7,844.8 203.4,846.4 208.2,847.8 213.2,849.1 218.5,850.3 223.9,851.3 229.6,852.3 235.5,853.2 241.6,854.1 247.9,854.9 254.4,855.6 261.1,856.3 268.0,857.0 275.1,857.6 282.4,858.2 290.0,858.8 297.7,859.4 305.7,859.9 313.8,860.5 322.2,861.0 330.8,861.5 339.6,862.1 348.6,862.6 357.8,863.1 367.2,863.6 376.8,864.2 386.6,864.7 396.7,865.2 406.9,865.8 417.4,866.3 428.0,866.8 438.9,867.4 450.0,867.9 461.2,868.4 472.7,868.9 484.4,869.5 496.3,870.0 508.4,870.5 520.8,871.0 533.3,871.6 546.0,872.1 559.0,872.6 572.1,873.1 585.5,873.6 599.1,874.1 612.8,874.7 626.8,875.2 641.0,875.7" marker-start="url(#cred)" marker-mid="url(#cred)" marker-end="url(#cred)"/><path d="M179.4 1122.3L607.8 1155.1" stroke="#000" stroke-width="3" stroke-dasharray="11.5 18" fill="none"/><path d="M154.9 992.7L155.3 996.3L155.7 999.9L156.1 1003.4L156.6 1007.0L157.1 1010.6L157.6 1014.1L158.1 1017.7L158.7 1021.2L159.4 1024.7L160.1 1028.2L160.8 1031.7L161.6 1035.2L162.4 1038.7L163.3 1042.1L164.3 1045.5L165.3 1048.9L166.4 1052.3L167.6 1055.6L168.8 1058.9L170.2 1062.1L171.6 1065.3L173.1 1068.5L174.8 1071.6L176.5 1074.7L178.4 1077.6L180.4 1080.6L182.5 1083.4L184.8 1086.2L187.3 1088.9L189.9 1091.5L192.7 1094.0L195.7 1096.4L198.9 1098.8L202.4 1101.0L206.0 1103.1L209.9 1105.2L214.1 1107.2L218.6 1109.0L223.4 1110.8L239.4 1115.6L255.5 1119.2L271.5 1122.1L287.5 1124.5L303.5 1126.6L319.5 1128.5L335.5 1130.3L351.6 1131.9L367.6 1133.5L383.6 1135.0L399.6 1136.5L415.6 1137.9L431.7 1139.3L447.7 1140.6L463.7 1142.0L479.7 1143.3L495.7 1144.7L511.7 1146.0L527.8 1147.3L543.8 1148.6L559.8 1149.8L575.8 1151.1L591.8 1152.4L607.8 1153.7" stroke="#000" stroke-width="3.2" fill="none" stroke-linejoin="round"/><path d="M179.4 1053.9L607.8 1087.6" stroke="#000" stroke-width="3" stroke-dasharray="11.5 18" fill="none"/><path d="M154.9 926.0L155.3 929.6L155.7 933.2L156.1 936.7L156.6 940.3L157.1 943.9L157.6 947.4L158.1 950.9L158.7 954.5L159.4 958.0L160.1 961.5L160.8 965.0L161.6 968.4L162.4 971.9L163.3 975.3L164.3 978.7L165.3 982.1L166.4 985.4L167.6 988.8L168.8 992.0L170.2 995.3L171.6 998.4L173.1 1001.6L174.8 1004.6L176.5 1007.7L178.4 1010.6L180.4 1013.5L182.5 1016.3L184.8 1019.0L187.3 1021.7L189.9 1024.3L192.7 1026.7L195.7 1029.1L198.9 1031.4L202.4 1033.6L206.0 1035.7L209.9 1037.7L214.1 1039.6L218.6 1041.4L223.4 1043.2L239.4 1047.9L255.5 1051.4L271.5 1054.2L287.5 1056.6L303.5 1058.7L319.5 1060.6L335.5 1062.4L351.6 1064.0L367.6 1065.6L383.6 1067.2L399.6 1068.6L415.6 1070.1L431.7 1071.5L447.7 1072.9L463.7 1074.3L479.7 1075.6L495.7 1077.0L511.7 1078.3L527.8 1079.7L543.8 1081.0L559.8 1082.3L575.8 1083.6L591.8 1084.9L607.8 1086.2" stroke="#000" stroke-width="3.2" fill="none" stroke-linejoin="round"/><path d="M179.4 986.8L607.8 1020.7" stroke="#000" stroke-width="3" stroke-dasharray="11.5 18" fill="none"/><path d="M154.9 865.9L155.3 869.5L155.7 873.0L156.1 876.6L156.6 880.1L157.1 883.7L157.6 887.2L158.1 890.7L158.7 894.2L159.4 897.7L160.1 901.2L160.8 904.6L161.6 908.1L162.4 911.5L163.3 914.8L164.3 918.2L165.3 921.5L166.4 924.8L167.6 928.0L168.8 931.2L170.2 934.3L171.6 937.4L173.1 940.4L174.8 943.3L176.5 946.2L178.4 949.0L180.4 951.7L182.5 954.4L184.8 956.9L187.3 959.4L189.9 961.7L192.7 964.0L195.7 966.2L198.9 968.2L202.4 970.2L206.0 972.1L209.9 973.9L214.1 975.6L218.6 977.2L223.4 978.8L239.4 982.9L255.5 986.0L271.5 988.6L287.5 990.8L303.5 992.7L319.5 994.5L335.5 996.2L351.6 997.7L367.6 999.3L383.6 1000.7L399.6 1002.2L415.6 1003.6L431.7 1005.0L447.7 1006.3L463.7 1007.7L479.7 1009.0L495.7 1010.4L511.7 1011.7L527.8 1013.0L543.8 1014.3L559.8 1015.6L575.8 1016.9L591.8 1018.2L607.8 1019.5" stroke="#000" stroke-width="3.2" fill="none" stroke-linejoin="round"/><path d="M179.4 916.9L607.8 944.0" stroke="#000" stroke-width="3" stroke-dasharray="11.5 18" fill="none"/><path d="M154.9 812.8L155.3 816.3L155.7 819.9L156.1 823.4L156.6 826.9L157.1 830.3L157.6 833.8L158.1 837.2L158.7 840.6L159.4 844.0L160.1 847.4L160.8 850.7L161.6 853.9L162.4 857.2L163.3 860.4L164.3 863.5L165.3 866.6L166.4 869.6L167.6 872.6L168.8 875.4L170.2 878.2L171.6 880.9L173.1 883.6L174.8 886.1L176.5 888.5L178.4 890.9L180.4 893.1L182.5 895.2L184.8 897.3L187.3 899.2L189.9 901.0L192.7 902.7L195.7 904.3L198.9 905.8L202.4 907.2L206.0 908.5L209.9 909.8L214.1 911.0L218.6 912.1L223.4 913.1L239.4 915.9L255.5 918.1L271.5 919.8L287.5 921.4L303.5 922.8L319.5 924.1L335.5 925.3L351.6 926.5L367.6 927.6L383.6 928.8L399.6 929.9L415.6 931.0L431.7 932.0L447.7 933.1L463.7 934.2L479.7 935.2L495.7 936.3L511.7 937.3L527.8 938.4L543.8 939.4L559.8 940.5L575.8 941.5L591.8 942.5L607.8 943.5" stroke="#000" stroke-width="3.2" fill="none" stroke-linejoin="round"/><path d="M179.4 853.9L607.8 876.8" stroke="#000" stroke-width="3" stroke-dasharray="11.5 18" fill="none"/><path d="M154.9 752.8L155.3 756.3L155.7 759.8L156.1 763.3L156.6 766.8L157.1 770.3L157.6 773.7L158.1 777.1L158.7 780.5L159.4 783.9L160.1 787.2L160.8 790.5L161.6 793.7L162.4 796.9L163.3 800.1L164.3 803.1L165.3 806.2L166.4 809.1L167.6 812.0L168.8 814.8L170.2 817.5L171.6 820.2L173.1 822.7L174.8 825.2L176.5 827.5L178.4 829.7L180.4 831.9L182.5 833.9L184.8 835.8L187.3 837.6L189.9 839.3L192.7 840.9L195.7 842.4L198.9 843.8L202.4 845.1L206.0 846.3L209.9 847.4L214.1 848.5L218.6 849.5L223.4 850.4L239.4 852.9L255.5 854.8L271.5 856.3L287.5 857.7L303.5 858.8L319.5 860.0L335.5 861.0L351.6 862.0L367.6 863.0L383.6 864.0L399.6 864.9L415.6 865.8L431.7 866.7L447.7 867.6L463.7 868.5L479.7 869.4L495.7 870.3L511.7 871.2L527.8 872.1L543.8 873.0L559.8 873.9L575.8 874.7L591.8 875.6L607.8 876.5" stroke="#000" stroke-width="3.2" fill="none" stroke-linejoin="round"/><path d="M848.0 778.8V866.7M838.7 778.8h18.6M838.7 866.7h18.6" stroke="#0000ff" stroke-width="2" fill="none"/><circle cx="848.0" cy="822.5" r="4.6" fill="none" stroke="#0000ff" stroke-width="2"/><path d="M862.2 750.5V841.4M852.9 750.5h18.6M852.9 841.4h18.6" stroke="#00ff00" stroke-width="2" fill="none"/><circle cx="862.2" cy="795.7" r="4.6" fill="none" stroke="#00ff00" stroke-width="2"/><path d="M876.5 750.5V833.4M867.2 750.5h18.6M867.2 833.4h18.6" stroke="#ffff00" stroke-width="2" fill="none"/><circle cx="876.5" cy="792.2" r="4.6" fill="none" stroke="#ffff00" stroke-width="2"/><path d="M1010.6 976.4V1031.5M1001.3 976.4h18.6M1001.3 1031.5h18.6" stroke="#ff6600" stroke-width="2" fill="none"/><circle cx="1010.6" cy="1003.2" r="4.6" fill="none" stroke="#ff6600" stroke-width="2"/><path d="M1275.9 1126.4V1166.6M1266.6 1126.4h18.6M1266.6 1166.6h18.6" stroke="#ff0000" stroke-width="2" fill="none"/><circle cx="1275.9" cy="1147.7" r="4.6" fill="none" stroke="#ff0000" stroke-width="2"/><path d="M848.0 780.1L853.8 791.9L859.7 803.2L865.6 814.2L871.4 824.7L877.3 834.9L883.2 844.8L889.0 854.3L894.9 863.5L900.8 872.4L906.7 881.0L912.5 889.4L918.4 897.4L924.3 905.3L930.1 912.9L936.0 920.3L941.9 927.4L947.7 934.4L953.6 941.1L959.5 947.7L965.3 954.1L971.2 960.3L977.1 966.4L982.9 972.3L988.8 978.0L994.7 983.6L1000.6 989.0L1006.4 994.3L1012.3 999.5L1018.2 1004.6L1024.0 1009.5L1029.9 1014.3L1035.8 1019.0L1041.6 1023.6L1047.5 1028.1L1053.4 1032.4L1059.2 1036.7L1065.1 1040.9L1071.0 1045.0L1076.8 1049.0L1082.7 1052.9L1088.6 1056.7L1094.5 1060.5L1100.3 1064.2L1106.2 1067.8L1112.1 1071.3L1117.9 1074.7L1123.8 1078.1L1129.7 1081.4L1135.5 1084.7L1141.4 1087.8L1147.3 1091.0L1153.1 1094.0L1159.0 1097.0L1164.9 1100.0L1170.7 1102.9L1176.6 1105.7L1182.5 1108.5L1188.4 1111.3L1194.2 1113.9L1200.1 1116.6L1206.0 1119.2L1211.8 1121.7L1217.7 1124.2L1223.6 1126.7L1229.4 1129.1L1235.3 1131.5L1241.2 1133.8L1247.0 1136.1L1252.9 1138.4L1258.8 1140.6L1264.6 1142.8L1270.5 1145.0L1276.4 1147.1L1282.3 1149.2L1288.1 1151.2L1294.0 1153.3L1299.9 1155.2L1305.7 1157.2L1311.6 1159.1" stroke="#000" stroke-width="4" fill="none"/></g></svg></body></html>
